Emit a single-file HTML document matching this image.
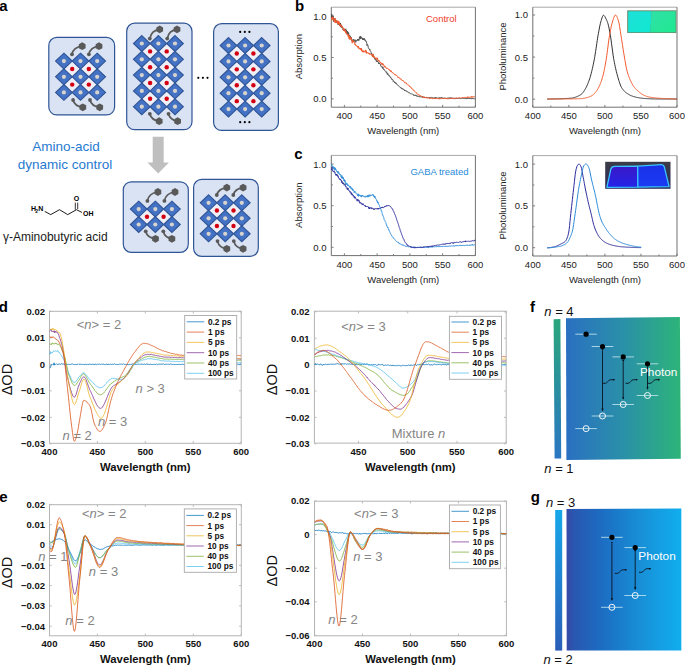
<!DOCTYPE html>
<html><head><meta charset="utf-8"><style>
html,body{margin:0;padding:0;background:#fff;overflow:hidden;}
svg{display:block;}
text{font-family:"Liberation Sans", sans-serif;}
</style></head><body>
<svg width="685" height="666" viewBox="0 0 685 666">
<rect width="685" height="666" fill="#fff"/>
<text x="-0.80" y="10.80" font-size="15" text-anchor="start" font-weight="bold" fill="#000" >a</text>
<rect x="48.80" y="37.40" width="65.80" height="77.50" rx="8" ry="8" fill="#dae3f3" stroke="#2f5597" stroke-width="1.2"/>
<path d="M72.20,61.05 L80.50,68.95 L72.20,76.85 L63.90,68.95 Z" fill="#eeeff7" stroke="none" stroke-width="0"/>
<path d="M88.85,61.05 L97.15,68.95 L88.85,76.85 L80.55,68.95 Z" fill="#eeeff7" stroke="none" stroke-width="0"/>
<path d="M72.20,76.70 L80.50,84.60 L72.20,92.50 L63.90,84.60 Z" fill="#eeeff7" stroke="none" stroke-width="0"/>
<path d="M88.85,76.70 L97.15,84.60 L88.85,92.50 L80.55,84.60 Z" fill="#eeeff7" stroke="none" stroke-width="0"/>
<path d="M63.90,53.20 L72.20,61.10 L63.90,69.00 L55.60,61.10 Z" fill="#4472c4" stroke="#2f5597" stroke-width="1.15"/>
<circle cx="63.90" cy="61.10" r="2.1" fill="#d8d4cc"/>
<path d="M80.50,53.20 L88.80,61.10 L80.50,69.00 L72.20,61.10 Z" fill="#4472c4" stroke="#2f5597" stroke-width="1.15"/>
<circle cx="80.50" cy="61.10" r="2.1" fill="#d8d4cc"/>
<path d="M97.20,53.20 L105.50,61.10 L97.20,69.00 L88.90,61.10 Z" fill="#4472c4" stroke="#2f5597" stroke-width="1.15"/>
<circle cx="97.20" cy="61.10" r="2.1" fill="#d8d4cc"/>
<path d="M63.90,68.90 L72.20,76.80 L63.90,84.70 L55.60,76.80 Z" fill="#4472c4" stroke="#2f5597" stroke-width="1.15"/>
<circle cx="63.90" cy="76.80" r="2.1" fill="#d8d4cc"/>
<path d="M80.50,68.90 L88.80,76.80 L80.50,84.70 L72.20,76.80 Z" fill="#4472c4" stroke="#2f5597" stroke-width="1.15"/>
<circle cx="80.50" cy="76.80" r="2.1" fill="#d8d4cc"/>
<path d="M97.20,68.90 L105.50,76.80 L97.20,84.70 L88.90,76.80 Z" fill="#4472c4" stroke="#2f5597" stroke-width="1.15"/>
<circle cx="97.20" cy="76.80" r="2.1" fill="#d8d4cc"/>
<path d="M63.90,84.50 L72.20,92.40 L63.90,100.30 L55.60,92.40 Z" fill="#4472c4" stroke="#2f5597" stroke-width="1.15"/>
<circle cx="63.90" cy="92.40" r="2.1" fill="#d8d4cc"/>
<path d="M80.50,84.50 L88.80,92.40 L80.50,100.30 L72.20,92.40 Z" fill="#4472c4" stroke="#2f5597" stroke-width="1.15"/>
<circle cx="80.50" cy="92.40" r="2.1" fill="#d8d4cc"/>
<path d="M97.20,84.50 L105.50,92.40 L97.20,100.30 L88.90,92.40 Z" fill="#4472c4" stroke="#2f5597" stroke-width="1.15"/>
<circle cx="97.20" cy="92.40" r="2.1" fill="#d8d4cc"/>
<circle cx="72.20" cy="68.95" r="2.2" fill="#d40012"/>
<circle cx="88.85" cy="68.95" r="2.2" fill="#d40012"/>
<circle cx="72.20" cy="84.60" r="2.2" fill="#d40012"/>
<circle cx="88.85" cy="84.60" r="2.2" fill="#d40012"/>
<path d="M72.00,54.30 Q73.50,47.20 82.20,46.20" fill="none" stroke="#595959" stroke-width="1.7"/>
<circle cx="72.00" cy="54.30" r="1.9" fill="#595959"/>
<polygon points="85.58,48.15 82.20,50.10 78.82,48.15 78.82,44.25 82.20,42.30 85.58,44.25" fill="#595959"/>
<path d="M88.90,54.30 Q90.40,47.20 99.00,46.20" fill="none" stroke="#595959" stroke-width="1.7"/>
<circle cx="88.90" cy="54.30" r="1.9" fill="#595959"/>
<polygon points="102.38,48.15 99.00,50.10 95.62,48.15 95.62,44.25 99.00,42.30 102.38,44.25" fill="#595959"/>
<path d="M73.10,100.00 Q74.60,106.30 82.80,107.30" fill="none" stroke="#595959" stroke-width="1.7"/>
<circle cx="73.10" cy="100.00" r="1.9" fill="#595959"/>
<polygon points="86.18,109.25 82.80,111.20 79.42,109.25 79.42,105.35 82.80,103.40 86.18,105.35" fill="#595959"/>
<path d="M90.00,100.00 Q91.50,106.30 99.70,107.30" fill="none" stroke="#595959" stroke-width="1.7"/>
<circle cx="90.00" cy="100.00" r="1.9" fill="#595959"/>
<polygon points="103.08,109.25 99.70,111.20 96.32,109.25 96.32,105.35 99.70,103.40 103.08,105.35" fill="#595959"/>
<rect x="126.70" y="23.20" width="65.30" height="106.50" rx="8" ry="8" fill="#dae3f3" stroke="#2f5597" stroke-width="1.2"/>
<path d="M150.10,43.50 L158.40,51.40 L150.10,59.30 L141.80,51.40 Z" fill="#eeeff7" stroke="none" stroke-width="0"/>
<path d="M166.70,43.50 L175.00,51.40 L166.70,59.30 L158.40,51.40 Z" fill="#eeeff7" stroke="none" stroke-width="0"/>
<path d="M150.10,59.30 L158.40,67.20 L150.10,75.10 L141.80,67.20 Z" fill="#eeeff7" stroke="none" stroke-width="0"/>
<path d="M166.70,59.30 L175.00,67.20 L166.70,75.10 L158.40,67.20 Z" fill="#eeeff7" stroke="none" stroke-width="0"/>
<path d="M150.10,75.10 L158.40,83.00 L150.10,90.90 L141.80,83.00 Z" fill="#eeeff7" stroke="none" stroke-width="0"/>
<path d="M166.70,75.10 L175.00,83.00 L166.70,90.90 L158.40,83.00 Z" fill="#eeeff7" stroke="none" stroke-width="0"/>
<path d="M150.10,90.90 L158.40,98.80 L150.10,106.70 L141.80,98.80 Z" fill="#eeeff7" stroke="none" stroke-width="0"/>
<path d="M166.70,90.90 L175.00,98.80 L166.70,106.70 L158.40,98.80 Z" fill="#eeeff7" stroke="none" stroke-width="0"/>
<path d="M141.80,35.60 L150.10,43.50 L141.80,51.40 L133.50,43.50 Z" fill="#4472c4" stroke="#2f5597" stroke-width="1.15"/>
<circle cx="141.80" cy="43.50" r="2.1" fill="#d8d4cc"/>
<path d="M158.40,35.60 L166.70,43.50 L158.40,51.40 L150.10,43.50 Z" fill="#4472c4" stroke="#2f5597" stroke-width="1.15"/>
<circle cx="158.40" cy="43.50" r="2.1" fill="#d8d4cc"/>
<path d="M175.00,35.60 L183.30,43.50 L175.00,51.40 L166.70,43.50 Z" fill="#4472c4" stroke="#2f5597" stroke-width="1.15"/>
<circle cx="175.00" cy="43.50" r="2.1" fill="#d8d4cc"/>
<path d="M141.80,51.40 L150.10,59.30 L141.80,67.20 L133.50,59.30 Z" fill="#4472c4" stroke="#2f5597" stroke-width="1.15"/>
<circle cx="141.80" cy="59.30" r="2.1" fill="#d8d4cc"/>
<path d="M158.40,51.40 L166.70,59.30 L158.40,67.20 L150.10,59.30 Z" fill="#4472c4" stroke="#2f5597" stroke-width="1.15"/>
<circle cx="158.40" cy="59.30" r="2.1" fill="#d8d4cc"/>
<path d="M175.00,51.40 L183.30,59.30 L175.00,67.20 L166.70,59.30 Z" fill="#4472c4" stroke="#2f5597" stroke-width="1.15"/>
<circle cx="175.00" cy="59.30" r="2.1" fill="#d8d4cc"/>
<path d="M141.80,67.20 L150.10,75.10 L141.80,83.00 L133.50,75.10 Z" fill="#4472c4" stroke="#2f5597" stroke-width="1.15"/>
<circle cx="141.80" cy="75.10" r="2.1" fill="#d8d4cc"/>
<path d="M158.40,67.20 L166.70,75.10 L158.40,83.00 L150.10,75.10 Z" fill="#4472c4" stroke="#2f5597" stroke-width="1.15"/>
<circle cx="158.40" cy="75.10" r="2.1" fill="#d8d4cc"/>
<path d="M175.00,67.20 L183.30,75.10 L175.00,83.00 L166.70,75.10 Z" fill="#4472c4" stroke="#2f5597" stroke-width="1.15"/>
<circle cx="175.00" cy="75.10" r="2.1" fill="#d8d4cc"/>
<path d="M141.80,83.00 L150.10,90.90 L141.80,98.80 L133.50,90.90 Z" fill="#4472c4" stroke="#2f5597" stroke-width="1.15"/>
<circle cx="141.80" cy="90.90" r="2.1" fill="#d8d4cc"/>
<path d="M158.40,83.00 L166.70,90.90 L158.40,98.80 L150.10,90.90 Z" fill="#4472c4" stroke="#2f5597" stroke-width="1.15"/>
<circle cx="158.40" cy="90.90" r="2.1" fill="#d8d4cc"/>
<path d="M175.00,83.00 L183.30,90.90 L175.00,98.80 L166.70,90.90 Z" fill="#4472c4" stroke="#2f5597" stroke-width="1.15"/>
<circle cx="175.00" cy="90.90" r="2.1" fill="#d8d4cc"/>
<path d="M141.80,98.80 L150.10,106.70 L141.80,114.60 L133.50,106.70 Z" fill="#4472c4" stroke="#2f5597" stroke-width="1.15"/>
<circle cx="141.80" cy="106.70" r="2.1" fill="#d8d4cc"/>
<path d="M158.40,98.80 L166.70,106.70 L158.40,114.60 L150.10,106.70 Z" fill="#4472c4" stroke="#2f5597" stroke-width="1.15"/>
<circle cx="158.40" cy="106.70" r="2.1" fill="#d8d4cc"/>
<path d="M175.00,98.80 L183.30,106.70 L175.00,114.60 L166.70,106.70 Z" fill="#4472c4" stroke="#2f5597" stroke-width="1.15"/>
<circle cx="175.00" cy="106.70" r="2.1" fill="#d8d4cc"/>
<circle cx="150.10" cy="51.40" r="2.2" fill="#d40012"/>
<circle cx="166.70" cy="51.40" r="2.2" fill="#d40012"/>
<circle cx="150.10" cy="67.20" r="2.2" fill="#d40012"/>
<circle cx="166.70" cy="67.20" r="2.2" fill="#d40012"/>
<circle cx="150.10" cy="83.00" r="2.2" fill="#d40012"/>
<circle cx="166.70" cy="83.00" r="2.2" fill="#d40012"/>
<circle cx="150.10" cy="98.80" r="2.2" fill="#d40012"/>
<circle cx="166.70" cy="98.80" r="2.2" fill="#d40012"/>
<path d="M149.80,38.60 Q151.30,30.40 159.70,29.40" fill="none" stroke="#595959" stroke-width="1.7"/>
<circle cx="149.80" cy="38.60" r="1.9" fill="#595959"/>
<polygon points="163.08,31.35 159.70,33.30 156.32,31.35 156.32,27.45 159.70,25.50 163.08,27.45" fill="#595959"/>
<path d="M167.20,38.60 Q168.70,30.40 177.00,29.40" fill="none" stroke="#595959" stroke-width="1.7"/>
<circle cx="167.20" cy="38.60" r="1.9" fill="#595959"/>
<polygon points="180.38,31.35 177.00,33.30 173.62,31.35 173.62,27.45 177.00,25.50 180.38,27.45" fill="#595959"/>
<path d="M149.80,113.80 Q151.30,120.20 159.20,121.20" fill="none" stroke="#595959" stroke-width="1.7"/>
<circle cx="149.80" cy="113.80" r="1.9" fill="#595959"/>
<polygon points="162.58,123.15 159.20,125.10 155.82,123.15 155.82,119.25 159.20,117.30 162.58,119.25" fill="#595959"/>
<path d="M168.50,113.80 Q170.00,120.20 177.60,121.20" fill="none" stroke="#595959" stroke-width="1.7"/>
<circle cx="168.50" cy="113.80" r="1.9" fill="#595959"/>
<polygon points="180.98,123.15 177.60,125.10 174.22,123.15 174.22,119.25 177.60,117.30 180.98,119.25" fill="#595959"/>
<circle cx="198.30" cy="77.80" r="1.1" fill="#000"/>
<circle cx="202.90" cy="77.80" r="1.1" fill="#000"/>
<circle cx="207.50" cy="77.80" r="1.1" fill="#000"/>
<rect x="213.60" y="23.70" width="64.80" height="106.70" rx="8" ry="8" fill="#dae3f3" stroke="#2f5597" stroke-width="1.2"/>
<path d="M236.80,45.55 L245.10,53.45 L236.80,61.35 L228.50,53.45 Z" fill="#eeeff7" stroke="none" stroke-width="0"/>
<path d="M253.40,45.55 L261.70,53.45 L253.40,61.35 L245.10,53.45 Z" fill="#eeeff7" stroke="none" stroke-width="0"/>
<path d="M236.80,61.45 L245.10,69.35 L236.80,77.25 L228.50,69.35 Z" fill="#eeeff7" stroke="none" stroke-width="0"/>
<path d="M253.40,61.45 L261.70,69.35 L253.40,77.25 L245.10,69.35 Z" fill="#eeeff7" stroke="none" stroke-width="0"/>
<path d="M236.80,77.35 L245.10,85.25 L236.80,93.15 L228.50,85.25 Z" fill="#eeeff7" stroke="none" stroke-width="0"/>
<path d="M253.40,77.35 L261.70,85.25 L253.40,93.15 L245.10,85.25 Z" fill="#eeeff7" stroke="none" stroke-width="0"/>
<path d="M236.80,93.25 L245.10,101.15 L236.80,109.05 L228.50,101.15 Z" fill="#eeeff7" stroke="none" stroke-width="0"/>
<path d="M253.40,93.25 L261.70,101.15 L253.40,109.05 L245.10,101.15 Z" fill="#eeeff7" stroke="none" stroke-width="0"/>
<path d="M228.50,37.60 L236.80,45.50 L228.50,53.40 L220.20,45.50 Z" fill="#4472c4" stroke="#2f5597" stroke-width="1.15"/>
<circle cx="228.50" cy="45.50" r="2.1" fill="#d8d4cc"/>
<path d="M245.10,37.60 L253.40,45.50 L245.10,53.40 L236.80,45.50 Z" fill="#4472c4" stroke="#2f5597" stroke-width="1.15"/>
<circle cx="245.10" cy="45.50" r="2.1" fill="#d8d4cc"/>
<path d="M261.70,37.60 L270.00,45.50 L261.70,53.40 L253.40,45.50 Z" fill="#4472c4" stroke="#2f5597" stroke-width="1.15"/>
<circle cx="261.70" cy="45.50" r="2.1" fill="#d8d4cc"/>
<path d="M228.50,53.50 L236.80,61.40 L228.50,69.30 L220.20,61.40 Z" fill="#4472c4" stroke="#2f5597" stroke-width="1.15"/>
<circle cx="228.50" cy="61.40" r="2.1" fill="#d8d4cc"/>
<path d="M245.10,53.50 L253.40,61.40 L245.10,69.30 L236.80,61.40 Z" fill="#4472c4" stroke="#2f5597" stroke-width="1.15"/>
<circle cx="245.10" cy="61.40" r="2.1" fill="#d8d4cc"/>
<path d="M261.70,53.50 L270.00,61.40 L261.70,69.30 L253.40,61.40 Z" fill="#4472c4" stroke="#2f5597" stroke-width="1.15"/>
<circle cx="261.70" cy="61.40" r="2.1" fill="#d8d4cc"/>
<path d="M228.50,69.40 L236.80,77.30 L228.50,85.20 L220.20,77.30 Z" fill="#4472c4" stroke="#2f5597" stroke-width="1.15"/>
<circle cx="228.50" cy="77.30" r="2.1" fill="#d8d4cc"/>
<path d="M245.10,69.40 L253.40,77.30 L245.10,85.20 L236.80,77.30 Z" fill="#4472c4" stroke="#2f5597" stroke-width="1.15"/>
<circle cx="245.10" cy="77.30" r="2.1" fill="#d8d4cc"/>
<path d="M261.70,69.40 L270.00,77.30 L261.70,85.20 L253.40,77.30 Z" fill="#4472c4" stroke="#2f5597" stroke-width="1.15"/>
<circle cx="261.70" cy="77.30" r="2.1" fill="#d8d4cc"/>
<path d="M228.50,85.30 L236.80,93.20 L228.50,101.10 L220.20,93.20 Z" fill="#4472c4" stroke="#2f5597" stroke-width="1.15"/>
<circle cx="228.50" cy="93.20" r="2.1" fill="#d8d4cc"/>
<path d="M245.10,85.30 L253.40,93.20 L245.10,101.10 L236.80,93.20 Z" fill="#4472c4" stroke="#2f5597" stroke-width="1.15"/>
<circle cx="245.10" cy="93.20" r="2.1" fill="#d8d4cc"/>
<path d="M261.70,85.30 L270.00,93.20 L261.70,101.10 L253.40,93.20 Z" fill="#4472c4" stroke="#2f5597" stroke-width="1.15"/>
<circle cx="261.70" cy="93.20" r="2.1" fill="#d8d4cc"/>
<path d="M228.50,101.20 L236.80,109.10 L228.50,117.00 L220.20,109.10 Z" fill="#4472c4" stroke="#2f5597" stroke-width="1.15"/>
<circle cx="228.50" cy="109.10" r="2.1" fill="#d8d4cc"/>
<path d="M245.10,101.20 L253.40,109.10 L245.10,117.00 L236.80,109.10 Z" fill="#4472c4" stroke="#2f5597" stroke-width="1.15"/>
<circle cx="245.10" cy="109.10" r="2.1" fill="#d8d4cc"/>
<path d="M261.70,101.20 L270.00,109.10 L261.70,117.00 L253.40,109.10 Z" fill="#4472c4" stroke="#2f5597" stroke-width="1.15"/>
<circle cx="261.70" cy="109.10" r="2.1" fill="#d8d4cc"/>
<circle cx="236.80" cy="53.45" r="2.2" fill="#d40012"/>
<circle cx="253.40" cy="53.45" r="2.2" fill="#d40012"/>
<circle cx="236.80" cy="69.35" r="2.2" fill="#d40012"/>
<circle cx="253.40" cy="69.35" r="2.2" fill="#d40012"/>
<circle cx="236.80" cy="85.25" r="2.2" fill="#d40012"/>
<circle cx="253.40" cy="85.25" r="2.2" fill="#d40012"/>
<circle cx="236.80" cy="101.15" r="2.2" fill="#d40012"/>
<circle cx="253.40" cy="101.15" r="2.2" fill="#d40012"/>
<circle cx="240.20" cy="31.90" r="1.1" fill="#000"/>
<circle cx="244.80" cy="31.90" r="1.1" fill="#000"/>
<circle cx="249.40" cy="31.90" r="1.1" fill="#000"/>
<circle cx="240.20" cy="122.20" r="1.1" fill="#000"/>
<circle cx="244.80" cy="122.20" r="1.1" fill="#000"/>
<circle cx="249.40" cy="122.20" r="1.1" fill="#000"/>
<polygon points="152.7,136.7 163.7,136.7 163.7,162.4 168.9,162.4 158.2,173.6 147.4,162.4 152.7,162.4" fill="#bfbfbf"/>
<rect x="123.30" y="181.80" width="65.00" height="70.50" rx="8" ry="8" fill="#dae3f3" stroke="#2f5597" stroke-width="1.2"/>
<path d="M147.00,208.90 L155.30,216.80 L147.00,224.70 L138.70,216.80 Z" fill="#eeeff7" stroke="none" stroke-width="0"/>
<path d="M163.60,208.90 L171.90,216.80 L163.60,224.70 L155.30,216.80 Z" fill="#eeeff7" stroke="none" stroke-width="0"/>
<path d="M138.70,201.20 L147.00,209.10 L138.70,217.00 L130.40,209.10 Z" fill="#4472c4" stroke="#2f5597" stroke-width="1.15"/>
<circle cx="138.70" cy="209.10" r="2.1" fill="#d8d4cc"/>
<path d="M155.30,201.20 L163.60,209.10 L155.30,217.00 L147.00,209.10 Z" fill="#4472c4" stroke="#2f5597" stroke-width="1.15"/>
<circle cx="155.30" cy="209.10" r="2.1" fill="#d8d4cc"/>
<path d="M171.90,201.20 L180.20,209.10 L171.90,217.00 L163.60,209.10 Z" fill="#4472c4" stroke="#2f5597" stroke-width="1.15"/>
<circle cx="171.90" cy="209.10" r="2.1" fill="#d8d4cc"/>
<path d="M138.70,216.60 L147.00,224.50 L138.70,232.40 L130.40,224.50 Z" fill="#4472c4" stroke="#2f5597" stroke-width="1.15"/>
<circle cx="138.70" cy="224.50" r="2.1" fill="#d8d4cc"/>
<path d="M155.30,216.60 L163.60,224.50 L155.30,232.40 L147.00,224.50 Z" fill="#4472c4" stroke="#2f5597" stroke-width="1.15"/>
<circle cx="155.30" cy="224.50" r="2.1" fill="#d8d4cc"/>
<path d="M171.90,216.60 L180.20,224.50 L171.90,232.40 L163.60,224.50 Z" fill="#4472c4" stroke="#2f5597" stroke-width="1.15"/>
<circle cx="171.90" cy="224.50" r="2.1" fill="#d8d4cc"/>
<circle cx="147.00" cy="216.80" r="2.2" fill="#d40012"/>
<circle cx="163.60" cy="216.80" r="2.2" fill="#d40012"/>
<path d="M147.40,200.90 Q148.90,193.00 157.90,192.00" fill="none" stroke="#595959" stroke-width="1.7"/>
<circle cx="147.40" cy="200.90" r="1.9" fill="#595959"/>
<polygon points="161.28,193.95 157.90,195.90 154.52,193.95 154.52,190.05 157.90,188.10 161.28,190.05" fill="#595959"/>
<path d="M164.40,200.90 Q165.90,193.00 175.00,192.00" fill="none" stroke="#595959" stroke-width="1.7"/>
<circle cx="164.40" cy="200.90" r="1.9" fill="#595959"/>
<polygon points="178.38,193.95 175.00,195.90 171.62,193.95 171.62,190.05 175.00,188.10 178.38,190.05" fill="#595959"/>
<path d="M145.70,231.30 Q147.20,237.80 155.50,238.80" fill="none" stroke="#595959" stroke-width="1.7"/>
<circle cx="145.70" cy="231.30" r="1.9" fill="#595959"/>
<polygon points="158.88,240.75 155.50,242.70 152.12,240.75 152.12,236.85 155.50,234.90 158.88,236.85" fill="#595959"/>
<path d="M163.30,231.30 Q164.80,237.80 171.90,238.80" fill="none" stroke="#595959" stroke-width="1.7"/>
<circle cx="163.30" cy="231.30" r="1.9" fill="#595959"/>
<polygon points="175.28,240.75 171.90,242.70 168.52,240.75 168.52,236.85 171.90,234.90 175.28,236.85" fill="#595959"/>
<rect x="193.60" y="179.40" width="64.70" height="76.90" rx="8" ry="8" fill="#dae3f3" stroke="#2f5597" stroke-width="1.2"/>
<path d="M216.90,202.65 L225.20,210.55 L216.90,218.45 L208.60,210.55 Z" fill="#eeeff7" stroke="none" stroke-width="0"/>
<path d="M233.50,202.65 L241.80,210.55 L233.50,218.45 L225.20,210.55 Z" fill="#eeeff7" stroke="none" stroke-width="0"/>
<path d="M216.90,218.15 L225.20,226.05 L216.90,233.95 L208.60,226.05 Z" fill="#eeeff7" stroke="none" stroke-width="0"/>
<path d="M233.50,218.15 L241.80,226.05 L233.50,233.95 L225.20,226.05 Z" fill="#eeeff7" stroke="none" stroke-width="0"/>
<path d="M208.60,194.90 L216.90,202.80 L208.60,210.70 L200.30,202.80 Z" fill="#4472c4" stroke="#2f5597" stroke-width="1.15"/>
<circle cx="208.60" cy="202.80" r="2.1" fill="#d8d4cc"/>
<path d="M225.20,194.90 L233.50,202.80 L225.20,210.70 L216.90,202.80 Z" fill="#4472c4" stroke="#2f5597" stroke-width="1.15"/>
<circle cx="225.20" cy="202.80" r="2.1" fill="#d8d4cc"/>
<path d="M241.80,194.90 L250.10,202.80 L241.80,210.70 L233.50,202.80 Z" fill="#4472c4" stroke="#2f5597" stroke-width="1.15"/>
<circle cx="241.80" cy="202.80" r="2.1" fill="#d8d4cc"/>
<path d="M208.60,210.40 L216.90,218.30 L208.60,226.20 L200.30,218.30 Z" fill="#4472c4" stroke="#2f5597" stroke-width="1.15"/>
<circle cx="208.60" cy="218.30" r="2.1" fill="#d8d4cc"/>
<path d="M225.20,210.40 L233.50,218.30 L225.20,226.20 L216.90,218.30 Z" fill="#4472c4" stroke="#2f5597" stroke-width="1.15"/>
<circle cx="225.20" cy="218.30" r="2.1" fill="#d8d4cc"/>
<path d="M241.80,210.40 L250.10,218.30 L241.80,226.20 L233.50,218.30 Z" fill="#4472c4" stroke="#2f5597" stroke-width="1.15"/>
<circle cx="241.80" cy="218.30" r="2.1" fill="#d8d4cc"/>
<path d="M208.60,225.90 L216.90,233.80 L208.60,241.70 L200.30,233.80 Z" fill="#4472c4" stroke="#2f5597" stroke-width="1.15"/>
<circle cx="208.60" cy="233.80" r="2.1" fill="#d8d4cc"/>
<path d="M225.20,225.90 L233.50,233.80 L225.20,241.70 L216.90,233.80 Z" fill="#4472c4" stroke="#2f5597" stroke-width="1.15"/>
<circle cx="225.20" cy="233.80" r="2.1" fill="#d8d4cc"/>
<path d="M241.80,225.90 L250.10,233.80 L241.80,241.70 L233.50,233.80 Z" fill="#4472c4" stroke="#2f5597" stroke-width="1.15"/>
<circle cx="241.80" cy="233.80" r="2.1" fill="#d8d4cc"/>
<circle cx="216.90" cy="210.55" r="2.2" fill="#d40012"/>
<circle cx="233.50" cy="210.55" r="2.2" fill="#d40012"/>
<circle cx="216.90" cy="226.05" r="2.2" fill="#d40012"/>
<circle cx="233.50" cy="226.05" r="2.2" fill="#d40012"/>
<path d="M216.80,195.00 Q218.30,188.60 226.80,187.60" fill="none" stroke="#595959" stroke-width="1.7"/>
<circle cx="216.80" cy="195.00" r="1.9" fill="#595959"/>
<polygon points="230.18,189.55 226.80,191.50 223.42,189.55 223.42,185.65 226.80,183.70 230.18,185.65" fill="#595959"/>
<path d="M233.30,195.00 Q234.80,188.60 243.10,187.60" fill="none" stroke="#595959" stroke-width="1.7"/>
<circle cx="233.30" cy="195.00" r="1.9" fill="#595959"/>
<polygon points="246.48,189.55 243.10,191.50 239.72,189.55 239.72,185.65 243.10,183.70 246.48,185.65" fill="#595959"/>
<path d="M217.50,241.10 Q219.00,247.80 226.80,248.80" fill="none" stroke="#595959" stroke-width="1.7"/>
<circle cx="217.50" cy="241.10" r="1.9" fill="#595959"/>
<polygon points="230.18,250.75 226.80,252.70 223.42,250.75 223.42,246.85 226.80,244.90 230.18,246.85" fill="#595959"/>
<path d="M233.80,241.10 Q235.30,247.80 243.10,248.80" fill="none" stroke="#595959" stroke-width="1.7"/>
<circle cx="233.80" cy="241.10" r="1.9" fill="#595959"/>
<polygon points="246.48,250.75 243.10,252.70 239.72,250.75 239.72,246.85 243.10,244.90 246.48,246.85" fill="#595959"/>
<text x="66.00" y="151.00" font-size="13.5" text-anchor="middle" font-weight="normal" fill="#1f7ad0" >Amino-acid</text>
<text x="64.90" y="168.90" font-size="13.5" text-anchor="middle" font-weight="normal" fill="#1f7ad0" >dynamic control</text>
<text x="2.90" y="240.70" font-size="12" text-anchor="start" font-weight="normal" fill="#1a1a1a" >γ-Aminobutyric acid</text>
<path d="M44.7,211.4 L50.7,214.6 L59.5,209.7 L67.7,214.6 L76.5,209.7 L81.9,212.4" fill="none" stroke="#000" stroke-width="0.9"/>
<line x1="75.3" y1="209.7" x2="75.3" y2="202.6" stroke="#000" stroke-width="0.8"/>
<line x1="77.7" y1="209.0" x2="77.7" y2="202.6" stroke="#000" stroke-width="0.8"/>
<text x="31.00" y="211.40" font-size="7" text-anchor="start" font-weight="bold" fill="#000" >H</text>
<text x="35.30" y="213.30" font-size="5" text-anchor="start" font-weight="bold" fill="#000" >2</text>
<text x="38.20" y="211.40" font-size="7" text-anchor="start" font-weight="bold" fill="#000" >N</text>
<text x="76.50" y="201.00" font-size="7" text-anchor="middle" font-weight="bold" fill="#000" >O</text>
<text x="83.00" y="216.00" font-size="7" text-anchor="start" font-weight="bold" fill="#000" >OH</text>
<text x="295.00" y="10.80" font-size="15" text-anchor="start" font-weight="bold" fill="#000" >b</text>
<text x="294.20" y="159.30" font-size="15" text-anchor="start" font-weight="bold" fill="#000" >c</text>
<line x1="344.40" y1="107.20" x2="344.40" y2="104.90" stroke="#707070" stroke-width="0.9"/>
<line x1="377.15" y1="107.20" x2="377.15" y2="104.90" stroke="#707070" stroke-width="0.9"/>
<line x1="409.90" y1="107.20" x2="409.90" y2="104.90" stroke="#707070" stroke-width="0.9"/>
<line x1="442.65" y1="107.20" x2="442.65" y2="104.90" stroke="#707070" stroke-width="0.9"/>
<line x1="475.40" y1="107.20" x2="475.40" y2="104.90" stroke="#707070" stroke-width="0.9"/>
<line x1="360.77" y1="107.20" x2="360.77" y2="105.60" stroke="#707070" stroke-width="0.9"/>
<line x1="393.52" y1="107.20" x2="393.52" y2="105.60" stroke="#707070" stroke-width="0.9"/>
<line x1="426.27" y1="107.20" x2="426.27" y2="105.60" stroke="#707070" stroke-width="0.9"/>
<line x1="459.02" y1="107.20" x2="459.02" y2="105.60" stroke="#707070" stroke-width="0.9"/>
<text x="344.40" y="119.20" font-size="9.5" text-anchor="middle" font-weight="normal" fill="#222" >400</text>
<text x="377.15" y="119.20" font-size="9.5" text-anchor="middle" font-weight="normal" fill="#222" >450</text>
<text x="409.90" y="119.20" font-size="9.5" text-anchor="middle" font-weight="normal" fill="#222" >500</text>
<text x="442.65" y="119.20" font-size="9.5" text-anchor="middle" font-weight="normal" fill="#222" >550</text>
<text x="475.40" y="119.20" font-size="9.5" text-anchor="middle" font-weight="normal" fill="#222" >600</text>
<line x1="331.30" y1="16.10" x2="333.60" y2="16.10" stroke="#707070" stroke-width="0.9"/>
<line x1="331.30" y1="57.50" x2="333.60" y2="57.50" stroke="#707070" stroke-width="0.9"/>
<line x1="331.30" y1="98.90" x2="333.60" y2="98.90" stroke="#707070" stroke-width="0.9"/>
<line x1="331.30" y1="36.80" x2="332.90" y2="36.80" stroke="#707070" stroke-width="0.9"/>
<line x1="331.30" y1="78.20" x2="332.90" y2="78.20" stroke="#707070" stroke-width="0.9"/>
<text x="326.50" y="19.50" font-size="9.5" text-anchor="end" font-weight="normal" fill="#222" >1.0</text>
<text x="326.50" y="60.90" font-size="9.5" text-anchor="end" font-weight="normal" fill="#222" >0.5</text>
<text x="326.50" y="102.30" font-size="9.5" text-anchor="end" font-weight="normal" fill="#222" >0.0</text>
<text x="403.30" y="134.00" font-size="9.5" text-anchor="middle" font-weight="normal" fill="#222" >Wavelength (nm)</text>
<text transform="translate(302.4,56.6) rotate(-90)" font-size="9.5" text-anchor="middle" fill="#222">Absorption</text>
<line x1="331.30" y1="7.20" x2="475.40" y2="7.20" stroke="#a8a8a8" stroke-width="1.0"/>
<line x1="331.30" y1="107.20" x2="475.40" y2="107.20" stroke="#707070" stroke-width="1.0"/>
<line x1="331.30" y1="7.20" x2="331.30" y2="107.20" stroke="#707070" stroke-width="1.0"/>
<line x1="475.40" y1="7.20" x2="475.40" y2="107.20" stroke="#707070" stroke-width="1.0"/>
<path d="M331.5,18.54 L331.8,14.14 L332.0,17.31 L332.2,16.53 L332.5,16.84 L332.8,17.29 L333.0,15.70 L333.2,17.70 L333.5,17.28 L333.8,21.69 L334.0,18.82 L334.2,18.47 L334.5,18.77 L334.8,18.62 L335.0,18.47 L335.2,19.37 L335.5,20.49 L335.8,20.01 L336.0,21.46 L336.2,20.55 L336.5,21.04 L336.8,22.83 L337.0,22.11 L337.2,21.34 L337.5,21.95 L337.8,22.96 L338.0,24.65 L338.2,22.74 L338.5,23.07 L338.8,24.62 L339.0,23.04 L339.2,23.94 L339.5,25.42 L339.8,25.42 L340.0,25.24 L340.2,26.12 L340.5,22.93 L340.8,27.08 L341.0,25.39 L341.2,24.98 L341.5,27.21 L341.8,27.92 L342.0,27.06 L342.2,26.70 L342.5,28.07 L342.8,28.25 L343.0,29.97 L343.2,29.57 L343.5,29.27 L343.8,30.44 L344.0,29.37 L344.2,28.90 L344.5,30.66 L344.8,30.91 L345.0,30.36 L345.2,30.05 L345.5,31.31 L345.8,28.87 L346.0,32.28 L346.2,32.35 L346.5,30.52 L346.8,32.46 L347.0,31.74 L347.2,33.70 L347.5,31.29 L347.8,32.68 L348.0,34.57 L348.2,35.34 L348.5,32.54 L348.8,34.51 L349.0,35.70 L349.2,35.22 L349.5,37.70 L349.8,35.49 L350.0,37.35 L350.2,36.43 L350.5,39.09 L350.8,38.12 L351.0,38.14 L351.2,37.20 L351.5,40.61 L351.8,39.99 L352.0,40.19 L352.2,40.71 L352.5,40.17 L352.8,39.44 L353.0,39.47 L353.2,39.63 L353.5,41.73 L353.8,39.35 L354.0,40.26 L354.2,40.62 L354.5,41.21 L354.8,41.62 L355.0,40.09 L355.2,39.74 L355.5,41.28 L355.8,42.35 L356.0,41.92 L356.2,41.33 L356.5,40.67 L356.8,40.94 L357.0,40.18 L357.2,40.76 L357.5,39.08 L357.8,39.56 L358.0,39.08 L358.2,39.41 L358.5,38.99 L358.8,40.80 L359.0,39.82 L359.2,39.70 L359.5,36.70 L359.8,38.00 L360.0,37.70 L360.2,38.55 L360.5,36.21 L360.8,38.93 L361.0,38.80 L361.2,36.88 L361.5,37.12 L361.8,37.27 L362.0,37.97 L362.2,38.50 L362.5,39.68 L362.8,38.03 L363.0,38.90 L363.2,38.57 L363.5,39.96 L363.8,39.34 L364.0,40.00 L364.2,38.33 L364.5,39.19 L364.8,38.93 L365.0,40.93 L365.2,40.62 L365.5,40.30 L365.8,40.64 L366.0,41.84 L366.2,41.51 L366.5,41.93 L366.8,43.57 L367.0,45.63 L367.2,44.30 L367.5,44.72 L367.8,44.92 L368.0,45.43 L368.2,47.35 L368.5,48.16 L368.8,48.10 L369.0,48.83 L369.2,49.17 L369.5,49.68 L369.8,49.02 L370.0,50.25 L370.2,51.13 L370.5,51.00 L370.8,51.69 L371.0,51.93 L371.2,52.72 L371.5,53.96 L371.8,53.55 L372.0,54.15 L372.2,55.19 L372.5,55.47 L372.8,56.53 L373.0,54.43 L373.2,56.70 L373.5,56.18 L373.8,56.92 L374.0,57.70 L374.2,58.18 L374.5,58.46 L374.8,58.22 L375.0,59.43 L375.2,58.55 L375.5,58.94 L375.8,59.81 L376.0,59.27 L376.2,61.22 L376.5,60.81 L376.8,61.79 L377.0,60.74 L377.2,60.82 L377.5,61.43 L377.8,62.06 L378.0,61.57 L378.2,62.43 L378.5,62.49 L378.8,63.73 L379.0,62.72 L379.2,64.01 L379.5,63.36 L379.8,63.50 L380.0,63.96 L380.2,64.01 L380.5,65.08 L380.8,65.90 L381.0,65.74 L381.2,66.31 L381.5,67.19 L381.8,66.77 L382.0,67.06 L382.2,67.13 L382.5,66.75 L382.8,68.34 L383.0,67.34 L383.2,68.93 L383.5,68.91 L383.8,69.82 L384.0,69.53 L384.2,69.47 L384.5,70.39 L384.8,70.25 L385.0,70.76 L385.2,71.19 L385.5,71.42 L385.8,71.71 L386.0,71.71 L386.2,72.33 L386.5,71.70 L386.8,72.96 L387.0,72.77 L387.2,74.18 L387.5,74.55 L387.8,73.35 L388.0,74.63 L388.2,74.80 L388.5,74.69 L388.8,75.71 L389.0,75.56 L389.2,75.28 L389.5,76.25 L389.8,76.61 L390.0,77.01 L390.2,76.73 L390.5,77.82 L390.8,78.17 L391.0,77.65 L391.2,78.15 L391.5,78.68 L391.8,78.76 L392.0,80.00 L392.2,79.64 L392.5,79.42 L392.8,79.78 L393.0,80.34 L393.2,81.54 L393.5,80.82 L393.8,81.20 L394.0,81.60 L394.2,81.63 L394.5,82.77 L394.8,81.94 L395.0,82.67 L395.2,82.69 L395.5,83.11 L395.8,82.69 L396.0,84.00 L396.2,83.56 L396.5,83.85 L396.8,83.74 L397.0,84.05 L397.2,84.74 L397.5,85.11 L397.8,85.26 L398.0,85.64 L398.2,85.69 L398.5,85.68 L398.8,86.17 L399.0,86.30 L399.2,86.29 L399.5,86.77 L399.8,87.15 L400.0,87.02 L400.2,87.04 L400.5,87.57 L400.8,88.13 L401.0,87.68 L401.2,87.91 L401.5,88.08 L401.8,88.66 L402.0,87.96 L402.2,88.76 L402.5,89.17 L402.8,88.77 L403.0,89.58 L403.2,89.48 L403.5,89.35 L403.8,89.72 L404.0,89.42 L404.2,89.84 L404.5,90.61 L404.8,90.08 L405.0,90.92 L405.2,90.59 L405.5,91.02 L405.8,90.93 L406.0,90.51 L406.2,91.07 L406.5,91.41 L406.8,91.22 L407.0,91.32 L407.2,91.89 L407.5,91.78 L407.8,91.65 L408.0,92.04 L408.2,92.57 L408.5,92.37 L408.8,92.85 L409.0,93.13 L409.2,92.88 L409.5,92.72 L409.8,92.80 L410.0,93.24 L410.2,93.59 L410.5,93.56 L410.8,93.74 L411.0,93.61 L411.2,93.91 L411.5,93.82 L411.8,93.97 L412.0,93.83 L412.2,93.87 L412.5,94.24 L412.8,94.19 L413.0,94.32 L413.2,94.83 L413.5,94.73 L413.8,95.58 L414.0,95.17 L414.2,94.88 L414.5,95.32 L414.8,95.31 L415.0,95.14 L415.2,95.68 L415.5,95.30 L415.8,94.81 L416.0,95.86 L416.2,95.59 L416.5,96.20 L416.8,95.75 L417.0,95.69 L417.2,96.45 L417.5,95.87 L417.8,96.26 L418.0,96.64 L418.2,96.37 L418.5,96.38 L418.8,96.48 L419.0,96.72 L419.2,96.36 L419.5,96.77 L419.8,96.80 L420.0,97.28 L420.2,96.65 L420.5,96.55 L420.8,97.00 L421.0,96.75 L421.2,96.96 L421.5,96.95 L421.8,97.25 L422.0,96.83 L422.2,97.00 L422.5,96.42 L422.8,96.87 L423.0,97.50 L423.2,96.98 L423.5,97.01 L423.8,96.91 L424.0,97.38 L424.2,97.31 L424.5,97.00 L424.8,97.49 L425.0,97.41 L425.2,97.56 L425.5,97.24 L425.8,97.85 L426.0,97.54 L426.2,97.44 L426.5,97.36 L426.8,97.44 L427.0,97.74 L427.2,97.48 L427.5,97.83 L427.8,97.73 L428.0,97.93 L428.2,97.82 L428.5,97.61 L428.8,97.16 L429.0,97.73 L429.2,97.86 L429.5,97.72 L429.8,97.83 L430.0,97.58 L430.2,97.61 L430.5,97.48 L430.8,98.07 L431.0,97.78 L431.2,97.62 L431.5,97.42 L431.8,97.72 L432.0,98.13 L432.2,97.89 L432.5,97.60 L432.8,98.15 L433.0,98.16 L433.2,98.05 L433.5,98.01 L433.8,98.11 L434.0,97.96 L434.2,98.03 L434.5,97.64 L434.8,98.22 L435.0,97.91 L435.2,98.36 L435.5,97.35 L435.8,98.05 L436.0,98.12 L436.2,97.79 L436.5,98.00 L436.8,98.08 L437.0,98.04 L437.2,97.77 L437.5,97.87 L437.8,98.17 L438.0,98.23 L438.2,97.94 L438.5,97.94 L438.8,97.98 L439.0,98.19 L439.2,97.67 L439.5,97.61 L439.8,97.98 L440.0,97.67 L440.2,97.81 L440.5,97.98 L440.8,98.08 L441.0,97.70 L441.2,98.17 L441.5,97.53 L441.8,98.12 L442.0,97.59 L442.2,97.67 L442.5,98.15 L442.8,97.89 L443.0,97.80 L443.2,97.89 L443.5,98.12 L443.8,98.00 L444.0,98.01 L444.2,98.28 L444.5,97.85 L444.8,97.91 L445.0,97.90 L445.2,98.33 L445.5,98.29 L445.8,98.37 L446.0,98.04 L446.2,98.02 L446.5,98.27 L446.8,97.97 L447.0,98.28 L447.2,98.26 L447.5,97.91 L447.8,98.07 L448.0,98.06 L448.2,98.53 L448.5,98.75 L448.8,98.08 L449.0,98.12 L449.2,97.55 L449.5,98.18 L449.8,98.13 L450.0,97.87 L450.2,98.34 L450.5,97.76 L450.8,98.10 L451.0,98.19 L451.2,97.85 L451.5,98.38 L451.8,98.44 L452.0,97.83 L452.2,97.83 L452.5,98.34 L452.8,98.19 L453.0,97.90 L453.2,98.13 L453.5,98.19 L453.8,98.18 L454.0,98.43 L454.2,98.33 L454.5,98.68 L454.8,98.58 L455.0,98.42 L455.2,98.52 L455.5,98.59 L455.8,98.44 L456.0,97.96 L456.2,98.49 L456.5,98.30 L456.8,98.69 L457.0,98.31 L457.2,98.43 L457.5,98.38 L457.8,98.73 L458.0,98.36 L458.2,98.25 L458.5,98.40 L458.8,98.22 L459.0,98.38 L459.2,98.34 L459.5,98.42 L459.8,98.83 L460.0,98.26 L460.2,98.37 L460.5,98.32 L460.8,98.54 L461.0,98.09 L461.2,98.21 L461.5,98.38 L461.8,98.53 L462.0,98.39 L462.2,98.28 L462.5,98.20 L462.8,98.55 L463.0,98.79 L463.2,98.51 L463.5,98.48 L463.8,98.55 L464.0,98.21 L464.2,98.38 L464.5,98.39 L464.8,98.54 L465.0,98.46 L465.2,98.17 L465.5,98.76 L465.8,98.91 L466.0,98.43 L466.2,98.60 L466.5,98.57 L466.8,98.71 L467.0,98.15 L467.2,98.93 L467.5,98.41 L467.8,98.85 L468.0,98.56 L468.2,98.45 L468.5,98.52 L468.8,98.78 L469.0,98.35 L469.2,98.47 L469.5,98.45 L469.8,98.15 L470.0,98.91 L470.2,98.74 L470.5,98.59 L470.8,98.89 L471.0,98.37 L471.2,98.60 L471.5,99.05 L471.8,98.87 L472.0,98.07 L472.2,97.80 L472.5,98.38 L472.8,98.91 L473.0,98.54 L473.2,98.61 L473.5,98.82 L473.8,98.45 L474.0,98.73 L474.2,98.88 L474.5,98.81 L474.8,98.79 L475.0,98.55" fill="none" stroke="#454545" stroke-width="0.9" stroke-linejoin="round" opacity="1.0"/>
<path d="M331.5,17.38 L331.8,18.05 L332.0,20.21 L332.2,19.25 L332.5,16.87 L332.8,18.83 L333.0,18.31 L333.2,19.32 L333.5,17.55 L333.8,19.76 L334.0,19.92 L334.2,21.57 L334.5,20.37 L334.8,20.76 L335.0,18.75 L335.2,23.06 L335.5,18.66 L335.8,22.18 L336.0,20.80 L336.2,20.40 L336.5,20.85 L336.8,21.04 L337.0,22.41 L337.2,22.08 L337.5,24.05 L337.8,20.63 L338.0,22.86 L338.2,22.10 L338.5,24.17 L338.8,21.21 L339.0,23.39 L339.2,24.24 L339.5,22.61 L339.8,25.56 L340.0,24.92 L340.2,26.07 L340.5,26.26 L340.8,24.37 L341.0,24.82 L341.2,25.73 L341.5,27.04 L341.8,27.42 L342.0,25.98 L342.2,26.38 L342.5,26.47 L342.8,27.01 L343.0,27.70 L343.2,28.14 L343.5,30.87 L343.8,28.38 L344.0,28.96 L344.2,30.12 L344.5,28.92 L344.8,29.91 L345.0,30.69 L345.2,31.88 L345.5,29.96 L345.8,33.26 L346.0,31.75 L346.2,32.68 L346.5,33.78 L346.8,33.95 L347.0,34.75 L347.2,34.17 L347.5,34.34 L347.8,35.06 L348.0,34.05 L348.2,36.74 L348.5,35.02 L348.8,34.88 L349.0,38.69 L349.2,36.77 L349.5,36.05 L349.8,39.51 L350.0,37.62 L350.2,39.38 L350.5,37.79 L350.8,38.70 L351.0,37.58 L351.2,37.67 L351.5,38.92 L351.8,40.12 L352.0,41.28 L352.2,43.17 L352.5,40.04 L352.8,42.32 L353.0,41.03 L353.2,41.75 L353.5,40.74 L353.8,41.03 L354.0,41.98 L354.2,41.86 L354.5,43.27 L354.8,42.88 L355.0,45.00 L355.2,44.23 L355.5,44.51 L355.8,45.68 L356.0,45.35 L356.2,45.09 L356.5,45.30 L356.8,45.52 L357.0,46.87 L357.2,46.84 L357.5,46.70 L357.8,47.32 L358.0,46.34 L358.2,47.52 L358.5,46.03 L358.8,48.70 L359.0,47.80 L359.2,48.09 L359.5,48.66 L359.8,48.32 L360.0,48.31 L360.2,49.74 L360.5,49.00 L360.8,48.29 L361.0,49.63 L361.2,47.97 L361.5,50.98 L361.8,49.60 L362.0,49.94 L362.2,51.94 L362.5,51.99 L362.8,50.45 L363.0,51.01 L363.2,51.53 L363.5,52.14 L363.8,50.80 L364.0,51.15 L364.2,52.16 L364.5,51.52 L364.8,52.03 L365.0,52.04 L365.2,50.79 L365.5,51.13 L365.8,49.87 L366.0,51.85 L366.2,53.20 L366.5,51.44 L366.8,53.35 L367.0,53.29 L367.2,52.61 L367.5,52.76 L367.8,52.95 L368.0,52.37 L368.2,52.92 L368.5,53.22 L368.8,53.83 L369.0,54.08 L369.2,53.10 L369.5,54.36 L369.8,53.34 L370.0,53.91 L370.2,54.43 L370.5,54.29 L370.8,54.36 L371.0,54.78 L371.2,54.36 L371.5,54.44 L371.8,54.91 L372.0,55.86 L372.2,55.30 L372.5,56.82 L372.8,55.85 L373.0,53.89 L373.2,55.77 L373.5,57.34 L373.8,56.43 L374.0,56.34 L374.2,56.25 L374.5,57.87 L374.8,57.86 L375.0,57.86 L375.2,57.91 L375.5,58.76 L375.8,58.58 L376.0,57.52 L376.2,58.98 L376.5,58.83 L376.8,58.89 L377.0,59.64 L377.2,59.43 L377.5,57.89 L377.8,60.80 L378.0,60.72 L378.2,60.27 L378.5,60.36 L378.8,60.95 L379.0,60.32 L379.2,61.47 L379.5,61.40 L379.8,61.57 L380.0,61.49 L380.2,61.87 L380.5,63.10 L380.8,63.45 L381.0,63.23 L381.2,63.17 L381.5,62.96 L381.8,64.05 L382.0,64.75 L382.2,63.29 L382.5,64.98 L382.8,63.47 L383.0,64.65 L383.2,65.24 L383.5,64.58 L383.8,64.73 L384.0,65.80 L384.2,66.35 L384.5,65.90 L384.8,66.99 L385.0,66.17 L385.2,67.59 L385.5,67.02 L385.8,67.28 L386.0,67.66 L386.2,67.72 L386.5,68.62 L386.8,68.98 L387.0,68.42 L387.2,68.30 L387.5,68.05 L387.8,68.44 L388.0,68.97 L388.2,69.12 L388.5,69.34 L388.8,69.56 L389.0,69.96 L389.2,69.38 L389.5,69.72 L389.8,70.79 L390.0,70.87 L390.2,70.50 L390.5,71.43 L390.8,70.84 L391.0,71.20 L391.2,70.79 L391.5,72.01 L391.8,71.87 L392.0,72.47 L392.2,72.52 L392.5,72.49 L392.8,72.70 L393.0,73.27 L393.2,72.97 L393.5,73.17 L393.8,73.44 L394.0,73.89 L394.2,74.12 L394.5,74.64 L394.8,74.17 L395.0,74.81 L395.2,74.38 L395.5,74.98 L395.8,75.02 L396.0,75.72 L396.2,75.56 L396.5,75.44 L396.8,75.95 L397.0,76.08 L397.2,76.08 L397.5,76.29 L397.8,76.31 L398.0,77.55 L398.2,77.01 L398.5,77.44 L398.8,77.06 L399.0,77.29 L399.2,77.74 L399.5,77.94 L399.8,78.38 L400.0,78.13 L400.2,78.71 L400.5,79.16 L400.8,78.75 L401.0,79.41 L401.2,79.14 L401.5,79.67 L401.8,79.88 L402.0,80.42 L402.2,80.02 L402.5,80.43 L402.8,80.86 L403.0,80.50 L403.2,81.00 L403.5,80.99 L403.8,81.23 L404.0,81.78 L404.2,81.99 L404.5,82.67 L404.8,82.57 L405.0,82.76 L405.2,82.60 L405.5,82.77 L405.8,83.09 L406.0,82.69 L406.2,83.88 L406.5,83.51 L406.8,83.62 L407.0,83.98 L407.2,84.52 L407.5,84.83 L407.8,84.63 L408.0,85.05 L408.2,85.14 L408.5,85.12 L408.8,85.62 L409.0,85.80 L409.2,85.63 L409.5,86.51 L409.8,86.07 L410.0,86.75 L410.2,86.66 L410.5,86.96 L410.8,87.23 L411.0,87.82 L411.2,87.57 L411.5,88.08 L411.8,88.77 L412.0,88.45 L412.2,88.87 L412.5,89.29 L412.8,89.23 L413.0,89.74 L413.2,89.71 L413.5,90.30 L413.8,90.39 L414.0,90.39 L414.2,91.22 L414.5,91.09 L414.8,91.29 L415.0,91.37 L415.2,91.72 L415.5,92.05 L415.8,92.35 L416.0,92.81 L416.2,92.43 L416.5,92.90 L416.8,93.50 L417.0,93.46 L417.2,93.73 L417.5,94.23 L417.8,94.12 L418.0,94.34 L418.2,94.41 L418.5,95.04 L418.8,95.04 L419.0,94.77 L419.2,95.25 L419.5,94.98 L419.8,95.69 L420.0,95.74 L420.2,95.69 L420.5,95.79 L420.8,95.59 L421.0,96.38 L421.2,96.30 L421.5,96.40 L421.8,96.79 L422.0,96.58 L422.2,96.72 L422.5,96.81 L422.8,96.76 L423.0,97.80 L423.2,97.24 L423.5,97.28 L423.8,97.66 L424.0,96.71 L424.2,97.54 L424.5,97.61 L424.8,97.41 L425.0,97.81 L425.2,97.24 L425.5,97.79 L425.8,98.05 L426.0,97.31 L426.2,97.54 L426.5,97.90 L426.8,97.96 L427.0,97.84 L427.2,98.12 L427.5,98.12 L427.8,97.74 L428.0,98.08 L428.2,97.81 L428.5,97.63 L428.8,97.57 L429.0,98.45 L429.2,98.18 L429.5,98.72 L429.8,97.88 L430.0,98.17 L430.2,98.36 L430.5,98.25 L430.8,98.42 L431.0,98.35 L431.2,98.17 L431.5,97.76 L431.8,98.12 L432.0,98.80 L432.2,98.57 L432.5,98.74 L432.8,98.26 L433.0,98.38 L433.2,98.22 L433.5,98.55 L433.8,98.48 L434.0,98.59 L434.2,98.93 L434.5,98.29 L434.8,98.69 L435.0,98.17 L435.2,98.80 L435.5,98.43 L435.8,98.53 L436.0,98.59 L436.2,98.98 L436.5,98.57 L436.8,98.46 L437.0,98.29 L437.2,98.67 L437.5,98.39 L437.8,98.49 L438.0,98.61 L438.2,98.79 L438.5,98.45 L438.8,98.80 L439.0,99.08 L439.2,98.27 L439.5,98.99 L439.8,99.19 L440.0,98.51 L440.2,98.81 L440.5,98.32 L440.8,98.75 L441.0,98.59 L441.2,98.74 L441.5,98.44 L441.8,98.46 L442.0,98.56 L442.2,98.49 L442.5,98.51 L442.8,98.61 L443.0,98.38 L443.2,98.62 L443.5,98.78 L443.8,98.07 L444.0,98.70 L444.2,98.46 L444.5,98.36 L444.8,98.30 L445.0,98.41 L445.2,98.43 L445.5,98.70 L445.8,98.29 L446.0,98.86 L446.2,98.39 L446.5,98.75 L446.8,98.85 L447.0,98.26 L447.2,98.83 L447.5,99.10 L447.8,98.44 L448.0,98.69 L448.2,98.50 L448.5,98.55 L448.8,98.47 L449.0,98.38 L449.2,98.68 L449.5,98.71 L449.8,98.48 L450.0,98.85 L450.2,98.73 L450.5,98.62 L450.8,98.25 L451.0,98.90 L451.2,98.74 L451.5,97.86 L451.8,98.10 L452.0,98.25 L452.2,98.59 L452.5,98.65 L452.8,98.25 L453.0,98.37 L453.2,98.47 L453.5,97.96 L453.8,98.41 L454.0,98.18 L454.2,98.28 L454.5,98.21 L454.8,97.91 L455.0,97.94 L455.2,98.18 L455.5,98.19 L455.8,98.07 L456.0,98.39 L456.2,98.02 L456.5,97.79 L456.8,97.99 L457.0,98.01 L457.2,98.01 L457.5,98.31 L457.8,98.13 L458.0,98.25 L458.2,98.13 L458.5,97.91 L458.8,98.20 L459.0,97.86 L459.2,97.97 L459.5,97.64 L459.8,97.90 L460.0,97.77 L460.2,97.93 L460.5,98.27 L460.8,98.40 L461.0,98.04 L461.2,97.76 L461.5,97.96 L461.8,97.79 L462.0,97.57 L462.2,97.69 L462.5,97.62 L462.8,97.52 L463.0,98.00 L463.2,97.50 L463.5,97.50 L463.8,97.78 L464.0,97.42 L464.2,97.29 L464.5,97.34 L464.8,97.66 L465.0,97.62 L465.2,97.58 L465.5,97.37 L465.8,97.24 L466.0,97.68 L466.2,97.07 L466.5,97.36 L466.8,97.07 L467.0,97.28 L467.2,97.32 L467.5,97.65 L467.8,96.61 L468.0,97.65 L468.2,97.06 L468.5,97.34 L468.8,97.45 L469.0,97.03 L469.2,97.18 L469.5,97.31 L469.8,97.13 L470.0,96.96 L470.2,97.17 L470.5,97.13 L470.8,96.71 L471.0,97.40 L471.2,97.10 L471.5,96.41 L471.8,96.79 L472.0,97.41 L472.2,97.35 L472.5,97.00 L472.8,96.49 L473.0,96.83 L473.2,97.13 L473.5,96.94 L473.8,96.74 L474.0,96.62 L474.2,96.98 L474.5,96.70 L474.8,96.81 L475.0,96.83" fill="none" stroke="#f25a2c" stroke-width="1.0" stroke-linejoin="round" opacity="1.0"/>
<text x="441.30" y="21.60" font-size="9.5" text-anchor="middle" font-weight="normal" fill="#ee3b2b" >Control</text>
<line x1="532.80" y1="107.20" x2="532.80" y2="104.90" stroke="#707070" stroke-width="0.9"/>
<line x1="568.85" y1="107.20" x2="568.85" y2="104.90" stroke="#707070" stroke-width="0.9"/>
<line x1="604.90" y1="107.20" x2="604.90" y2="104.90" stroke="#707070" stroke-width="0.9"/>
<line x1="640.95" y1="107.20" x2="640.95" y2="104.90" stroke="#707070" stroke-width="0.9"/>
<line x1="677.00" y1="107.20" x2="677.00" y2="104.90" stroke="#707070" stroke-width="0.9"/>
<line x1="550.82" y1="107.20" x2="550.82" y2="105.60" stroke="#707070" stroke-width="0.9"/>
<line x1="586.88" y1="107.20" x2="586.88" y2="105.60" stroke="#707070" stroke-width="0.9"/>
<line x1="622.92" y1="107.20" x2="622.92" y2="105.60" stroke="#707070" stroke-width="0.9"/>
<line x1="658.98" y1="107.20" x2="658.98" y2="105.60" stroke="#707070" stroke-width="0.9"/>
<text x="532.80" y="119.20" font-size="9.5" text-anchor="middle" font-weight="normal" fill="#222" >400</text>
<text x="568.85" y="119.20" font-size="9.5" text-anchor="middle" font-weight="normal" fill="#222" >450</text>
<text x="604.90" y="119.20" font-size="9.5" text-anchor="middle" font-weight="normal" fill="#222" >500</text>
<text x="640.95" y="119.20" font-size="9.5" text-anchor="middle" font-weight="normal" fill="#222" >550</text>
<text x="677.00" y="119.20" font-size="9.5" text-anchor="middle" font-weight="normal" fill="#222" >600</text>
<line x1="532.80" y1="15.00" x2="535.10" y2="15.00" stroke="#707070" stroke-width="0.9"/>
<line x1="532.80" y1="57.10" x2="535.10" y2="57.10" stroke="#707070" stroke-width="0.9"/>
<line x1="532.80" y1="99.20" x2="535.10" y2="99.20" stroke="#707070" stroke-width="0.9"/>
<line x1="532.80" y1="36.00" x2="534.40" y2="36.00" stroke="#707070" stroke-width="0.9"/>
<line x1="532.80" y1="78.10" x2="534.40" y2="78.10" stroke="#707070" stroke-width="0.9"/>
<text x="528.00" y="18.40" font-size="9.5" text-anchor="end" font-weight="normal" fill="#222" >1.0</text>
<text x="528.00" y="60.50" font-size="9.5" text-anchor="end" font-weight="normal" fill="#222" >0.5</text>
<text x="528.00" y="102.60" font-size="9.5" text-anchor="end" font-weight="normal" fill="#222" >0.0</text>
<text x="605.00" y="134.00" font-size="9.5" text-anchor="middle" font-weight="normal" fill="#222" >Wavelength (nm)</text>
<text transform="translate(505.5,56.5) rotate(-90)" font-size="9.5" text-anchor="middle" fill="#222">Photoluminance</text>
<line x1="532.80" y1="7.20" x2="677.00" y2="7.20" stroke="#a8a8a8" stroke-width="1.0"/>
<line x1="532.80" y1="107.20" x2="677.00" y2="107.20" stroke="#707070" stroke-width="1.0"/>
<line x1="532.80" y1="7.20" x2="532.80" y2="107.20" stroke="#707070" stroke-width="1.0"/>
<line x1="677.00" y1="7.20" x2="677.00" y2="107.20" stroke="#707070" stroke-width="1.0"/>
<path d="M547.2,99.00 L547.6,99.00 L548.0,99.00 L548.4,99.00 L548.8,99.00 L549.2,98.99 L549.6,98.99 L550.0,98.99 L550.4,98.99 L550.8,98.98 L551.2,98.98 L551.6,98.97 L552.0,98.97 L552.4,98.96 L552.8,98.96 L553.2,98.95 L553.6,98.94 L554.0,98.94 L554.4,98.93 L554.8,98.92 L555.2,98.91 L555.6,98.90 L556.0,98.89 L556.4,98.88 L556.8,98.87 L557.2,98.86 L557.6,98.85 L558.0,98.84 L558.4,98.82 L558.8,98.81 L559.2,98.80 L559.6,98.78 L560.0,98.77 L560.4,98.75 L560.8,98.74 L561.2,98.72 L561.6,98.70 L562.0,98.69 L562.4,98.67 L562.8,98.65 L563.2,98.63 L563.6,98.62 L564.0,98.60 L564.4,98.58 L564.8,98.56 L565.2,98.54 L565.6,98.51 L566.0,98.49 L566.4,98.47 L566.8,98.45 L567.2,98.42 L567.6,98.40 L568.0,98.38 L568.4,98.35 L568.8,98.33 L569.2,98.30 L569.6,98.27 L570.0,98.25 L570.4,98.22 L570.8,98.19 L571.2,98.16 L571.6,98.11 L572.0,98.06 L572.4,97.99 L572.8,97.92 L573.2,97.83 L573.6,97.74 L574.0,97.64 L574.4,97.53 L574.8,97.41 L575.2,97.28 L575.6,97.14 L576.0,97.00 L576.4,96.85 L576.8,96.68 L577.2,96.52 L577.6,96.34 L578.0,96.15 L578.4,95.96 L578.8,95.76 L579.2,95.56 L579.6,95.34 L580.0,95.12 L580.4,94.89 L580.8,94.66 L581.2,94.40 L581.6,94.07 L582.0,93.69 L582.4,93.25 L582.8,92.75 L583.2,92.22 L583.6,91.66 L584.0,91.06 L584.4,90.45 L584.8,89.82 L585.2,89.17 L585.6,88.48 L586.0,87.74 L586.4,86.95 L586.8,86.11 L587.2,85.22 L587.6,84.29 L588.0,83.31 L588.4,82.29 L588.8,81.24 L589.2,80.14 L589.6,78.95 L590.0,77.66 L590.4,76.29 L590.8,74.85 L591.2,73.35 L591.6,71.79 L592.0,70.19 L592.4,68.50 L592.8,66.73 L593.2,64.86 L593.6,62.92 L594.0,60.90 L594.4,58.80 L594.8,56.55 L595.2,54.11 L595.6,51.53 L596.0,48.84 L596.4,46.11 L596.8,43.38 L597.2,40.70 L597.6,38.11 L598.0,35.66 L598.4,33.40 L598.8,31.24 L599.2,29.10 L599.6,27.03 L600.0,25.08 L600.4,23.31 L600.8,21.77 L601.2,20.46 L601.6,19.15 L602.0,17.89 L602.4,16.77 L602.8,15.89 L603.2,15.33 L603.6,15.21 L604.0,15.41 L604.4,15.84 L604.8,16.45 L605.2,17.18 L605.6,17.98 L606.0,18.80 L606.4,19.60 L606.8,20.46 L607.2,21.44 L607.6,22.55 L608.0,23.80 L608.4,25.27 L608.8,26.99 L609.2,28.92 L609.6,31.00 L610.0,33.19 L610.4,35.47 L610.8,38.05 L611.2,40.88 L611.6,43.88 L612.0,46.96 L612.4,50.02 L612.8,52.98 L613.2,55.75 L613.6,58.23 L614.0,60.44 L614.4,62.55 L614.8,64.56 L615.2,66.49 L615.6,68.32 L616.0,70.06 L616.4,71.71 L616.8,73.26 L617.2,74.73 L617.6,76.17 L618.0,77.59 L618.4,78.98 L618.8,80.33 L619.2,81.62 L619.6,82.85 L620.0,84.00 L620.4,85.07 L620.8,86.04 L621.2,86.90 L621.6,87.64 L622.0,88.27 L622.4,88.86 L622.8,89.40 L623.2,89.91 L623.6,90.38 L624.0,90.81 L624.4,91.22 L624.8,91.60 L625.2,91.95 L625.6,92.29 L626.0,92.60 L626.4,92.90 L626.8,93.19 L627.2,93.47 L627.6,93.74 L628.0,94.00 L628.4,94.25 L628.8,94.49 L629.2,94.72 L629.6,94.94 L630.0,95.14 L630.4,95.34 L630.8,95.52 L631.2,95.69 L631.6,95.85 L632.0,96.00 L632.4,96.14 L632.8,96.28 L633.2,96.41 L633.6,96.54 L634.0,96.66 L634.4,96.78 L634.8,96.89 L635.2,97.00 L635.6,97.10 L636.0,97.20 L636.4,97.30 L636.8,97.39 L637.2,97.47 L637.6,97.55 L638.0,97.63 L638.4,97.70 L638.8,97.77 L639.2,97.83 L639.6,97.89 L640.0,97.95 L640.4,98.01 L640.8,98.06 L641.2,98.12 L641.6,98.17 L642.0,98.22 L642.4,98.27 L642.8,98.31 L643.2,98.36 L643.6,98.40 L644.0,98.44 L644.4,98.47 L644.8,98.50 L645.2,98.53 L645.6,98.56 L646.0,98.58 L646.4,98.60 L646.8,98.62 L647.2,98.64 L647.6,98.66 L648.0,98.68 L648.4,98.70 L648.8,98.72 L649.2,98.73 L649.6,98.75 L650.0,98.77 L650.4,98.78 L650.8,98.80 L651.2,98.82 L651.6,98.83 L652.0,98.85 L652.4,98.86 L652.8,98.87 L653.2,98.89 L653.6,98.90 L654.0,98.91 L654.4,98.92 L654.8,98.93 L655.2,98.94 L655.6,98.95 L656.0,98.96 L656.4,98.97 L656.8,98.97 L657.2,98.98 L657.6,98.98 L658.0,98.99 L658.4,98.99 L658.8,99.00 L659.2,99.00 L659.6,99.00 L660.0,99.00 L660.4,99.00 L660.8,99.00 L661.2,99.00 L661.6,99.00 L662.0,99.00 L662.4,99.00 L662.8,99.00 L663.2,99.00 L663.6,99.00 L664.0,99.00 L664.4,99.00 L664.8,99.00 L665.2,99.00 L665.6,99.00 L666.0,99.00 L666.4,99.00 L666.8,99.00 L667.2,99.00 L667.6,99.00 L668.0,99.00 L668.4,99.00 L668.8,99.00 L669.2,99.00 L669.6,99.00 L670.0,99.00 L670.4,99.00 L670.8,99.00 L671.2,99.00 L671.6,99.00 L672.0,99.00 L672.4,99.00 L672.8,99.00 L673.2,99.00 L673.6,99.00 L674.0,99.00 L674.4,99.00 L674.8,99.00 L675.2,99.00 L675.6,99.00 L676.0,99.00 L676.4,99.00 L676.8,99.00 L677.0,99.00" fill="none" stroke="#303030" stroke-width="1.0" stroke-linejoin="round" opacity="1.0"/>
<path d="M547.2,99.00 L547.6,99.00 L548.0,99.00 L548.4,99.00 L548.8,99.00 L549.2,99.00 L549.6,99.00 L550.0,99.00 L550.4,99.00 L550.8,99.00 L551.2,99.00 L551.6,99.00 L552.0,99.00 L552.4,98.99 L552.8,98.99 L553.2,98.99 L553.6,98.99 L554.0,98.99 L554.4,98.99 L554.8,98.99 L555.2,98.99 L555.6,98.99 L556.0,98.98 L556.4,98.98 L556.8,98.98 L557.2,98.98 L557.6,98.98 L558.0,98.98 L558.4,98.97 L558.8,98.97 L559.2,98.97 L559.6,98.97 L560.0,98.97 L560.4,98.96 L560.8,98.96 L561.2,98.96 L561.6,98.96 L562.0,98.96 L562.4,98.95 L562.8,98.95 L563.2,98.95 L563.6,98.95 L564.0,98.94 L564.4,98.94 L564.8,98.94 L565.2,98.94 L565.6,98.93 L566.0,98.93 L566.4,98.93 L566.8,98.92 L567.2,98.92 L567.6,98.92 L568.0,98.92 L568.4,98.91 L568.8,98.91 L569.2,98.91 L569.6,98.90 L570.0,98.90 L570.4,98.90 L570.8,98.89 L571.2,98.89 L571.6,98.88 L572.0,98.88 L572.4,98.87 L572.8,98.86 L573.2,98.86 L573.6,98.85 L574.0,98.84 L574.4,98.83 L574.8,98.82 L575.2,98.81 L575.6,98.80 L576.0,98.79 L576.4,98.78 L576.8,98.77 L577.2,98.75 L577.6,98.74 L578.0,98.73 L578.4,98.71 L578.8,98.70 L579.2,98.68 L579.6,98.66 L580.0,98.64 L580.4,98.62 L580.8,98.61 L581.2,98.58 L581.6,98.55 L582.0,98.52 L582.4,98.47 L582.8,98.42 L583.2,98.36 L583.6,98.30 L584.0,98.23 L584.4,98.16 L584.8,98.08 L585.2,98.00 L585.6,97.92 L586.0,97.83 L586.4,97.74 L586.8,97.65 L587.2,97.55 L587.6,97.45 L588.0,97.33 L588.4,97.20 L588.8,97.06 L589.2,96.92 L589.6,96.76 L590.0,96.59 L590.4,96.40 L590.8,96.21 L591.2,96.00 L591.6,95.79 L592.0,95.56 L592.4,95.31 L592.8,95.03 L593.2,94.71 L593.6,94.35 L594.0,93.97 L594.4,93.55 L594.8,93.11 L595.2,92.65 L595.6,92.16 L596.0,91.66 L596.4,91.13 L596.8,90.58 L597.2,89.99 L597.6,89.34 L598.0,88.65 L598.4,87.91 L598.8,87.12 L599.2,86.29 L599.6,85.42 L600.0,84.51 L600.4,83.56 L600.8,82.53 L601.2,81.43 L601.6,80.24 L602.0,78.97 L602.4,77.62 L602.8,76.19 L603.2,74.68 L603.6,73.09 L604.0,71.35 L604.4,69.45 L604.8,67.41 L605.2,65.24 L605.6,62.97 L606.0,60.61 L606.4,58.18 L606.8,55.46 L607.2,52.48 L607.6,49.33 L608.0,46.15 L608.4,43.04 L608.8,40.11 L609.2,37.49 L609.6,35.17 L610.0,32.91 L610.4,30.72 L610.8,28.64 L611.2,26.70 L611.6,24.93 L612.0,23.35 L612.4,22.00 L612.8,20.75 L613.2,19.49 L613.6,18.28 L614.0,17.18 L614.4,16.24 L614.8,15.53 L615.2,15.10 L615.6,15.01 L616.0,15.24 L616.4,15.74 L616.8,16.47 L617.2,17.39 L617.6,18.44 L618.0,19.59 L618.4,20.80 L618.8,22.18 L619.2,24.09 L619.6,26.40 L620.0,28.98 L620.4,31.68 L620.8,34.36 L621.2,36.90 L621.6,39.36 L622.0,41.88 L622.4,44.45 L622.8,47.04 L623.2,49.61 L623.6,52.16 L624.0,54.65 L624.4,57.06 L624.8,59.37 L625.2,61.69 L625.6,63.99 L626.0,66.20 L626.4,68.23 L626.8,70.01 L627.2,71.52 L627.6,72.91 L628.0,74.21 L628.4,75.41 L628.8,76.53 L629.2,77.58 L629.6,78.57 L630.0,79.50 L630.4,80.39 L630.8,81.25 L631.2,82.08 L631.6,82.87 L632.0,83.62 L632.4,84.33 L632.8,85.01 L633.2,85.65 L633.6,86.24 L634.0,86.80 L634.4,87.32 L634.8,87.82 L635.2,88.29 L635.6,88.74 L636.0,89.17 L636.4,89.58 L636.8,89.98 L637.2,90.36 L637.6,90.72 L638.0,91.08 L638.4,91.42 L638.8,91.75 L639.2,92.08 L639.6,92.40 L640.0,92.72 L640.4,93.03 L640.8,93.34 L641.2,93.63 L641.6,93.91 L642.0,94.19 L642.4,94.44 L642.8,94.69 L643.2,94.91 L643.6,95.12 L644.0,95.31 L644.4,95.48 L644.8,95.65 L645.2,95.81 L645.6,95.96 L646.0,96.11 L646.4,96.25 L646.8,96.39 L647.2,96.51 L647.6,96.63 L648.0,96.75 L648.4,96.85 L648.8,96.95 L649.2,97.04 L649.6,97.13 L650.0,97.20 L650.4,97.27 L650.8,97.34 L651.2,97.40 L651.6,97.46 L652.0,97.52 L652.4,97.58 L652.8,97.63 L653.2,97.69 L653.6,97.74 L654.0,97.79 L654.4,97.83 L654.8,97.88 L655.2,97.92 L655.6,97.96 L656.0,98.00 L656.4,98.04 L656.8,98.07 L657.2,98.10 L657.6,98.14 L658.0,98.17 L658.4,98.19 L658.8,98.22 L659.2,98.25 L659.6,98.27 L660.0,98.30 L660.4,98.33 L660.8,98.35 L661.2,98.38 L661.6,98.40 L662.0,98.43 L662.4,98.45 L662.8,98.48 L663.2,98.50 L663.6,98.53 L664.0,98.55 L664.4,98.58 L664.8,98.60 L665.2,98.62 L665.6,98.64 L666.0,98.67 L666.4,98.69 L666.8,98.71 L667.2,98.73 L667.6,98.75 L668.0,98.77 L668.4,98.79 L668.8,98.80 L669.2,98.82 L669.6,98.84 L670.0,98.85 L670.4,98.87 L670.8,98.88 L671.2,98.90 L671.6,98.91 L672.0,98.92 L672.4,98.93 L672.8,98.94 L673.2,98.95 L673.6,98.96 L674.0,98.97 L674.4,98.98 L674.8,98.98 L675.2,98.99 L675.6,98.99 L676.0,99.00 L676.4,99.00 L676.8,99.00 L677.0,99.00" fill="none" stroke="#f25a2c" stroke-width="1.0" stroke-linejoin="round" opacity="1.0"/>
<rect x="627.2" y="10.3" width="49.2" height="22.7" fill="#6a8a6a"/>
<defs><linearGradient id="cy1" x1="0" y1="0" x2="1" y2="1"><stop offset="0" stop-color="#1ee0d8"/><stop offset="1" stop-color="#10e8d0"/></linearGradient><linearGradient id="gr1" x1="0" y1="0" x2="1" y2="1"><stop offset="0" stop-color="#30e0a8"/><stop offset="1" stop-color="#20e890"/></linearGradient></defs>
<path d="M628.2,11.2 L651.5,11.2 L650.5,32.2 L628.2,32.2 Z" fill="url(#cy1)"/>
<path d="M651.5,11.2 L675.6,11.2 L675.6,32.2 L650.5,32.2 Z" fill="url(#gr1)"/>
<line x1="344.40" y1="255.60" x2="344.40" y2="253.30" stroke="#707070" stroke-width="0.9"/>
<line x1="377.15" y1="255.60" x2="377.15" y2="253.30" stroke="#707070" stroke-width="0.9"/>
<line x1="409.90" y1="255.60" x2="409.90" y2="253.30" stroke="#707070" stroke-width="0.9"/>
<line x1="442.65" y1="255.60" x2="442.65" y2="253.30" stroke="#707070" stroke-width="0.9"/>
<line x1="475.40" y1="255.60" x2="475.40" y2="253.30" stroke="#707070" stroke-width="0.9"/>
<line x1="360.77" y1="255.60" x2="360.77" y2="254.00" stroke="#707070" stroke-width="0.9"/>
<line x1="393.52" y1="255.60" x2="393.52" y2="254.00" stroke="#707070" stroke-width="0.9"/>
<line x1="426.27" y1="255.60" x2="426.27" y2="254.00" stroke="#707070" stroke-width="0.9"/>
<line x1="459.02" y1="255.60" x2="459.02" y2="254.00" stroke="#707070" stroke-width="0.9"/>
<text x="344.40" y="267.80" font-size="9.5" text-anchor="middle" font-weight="normal" fill="#222" >400</text>
<text x="377.15" y="267.80" font-size="9.5" text-anchor="middle" font-weight="normal" fill="#222" >450</text>
<text x="409.90" y="267.80" font-size="9.5" text-anchor="middle" font-weight="normal" fill="#222" >500</text>
<text x="442.65" y="267.80" font-size="9.5" text-anchor="middle" font-weight="normal" fill="#222" >550</text>
<text x="475.40" y="267.80" font-size="9.5" text-anchor="middle" font-weight="normal" fill="#222" >600</text>
<line x1="331.30" y1="164.10" x2="333.60" y2="164.10" stroke="#707070" stroke-width="0.9"/>
<line x1="331.30" y1="205.70" x2="333.60" y2="205.70" stroke="#707070" stroke-width="0.9"/>
<line x1="331.30" y1="247.30" x2="333.60" y2="247.30" stroke="#707070" stroke-width="0.9"/>
<line x1="331.30" y1="184.90" x2="332.90" y2="184.90" stroke="#707070" stroke-width="0.9"/>
<line x1="331.30" y1="226.50" x2="332.90" y2="226.50" stroke="#707070" stroke-width="0.9"/>
<text x="326.50" y="167.50" font-size="9.5" text-anchor="end" font-weight="normal" fill="#222" >1.0</text>
<text x="326.50" y="209.10" font-size="9.5" text-anchor="end" font-weight="normal" fill="#222" >0.5</text>
<text x="326.50" y="250.70" font-size="9.5" text-anchor="end" font-weight="normal" fill="#222" >0.0</text>
<text x="403.30" y="282.70" font-size="9.5" text-anchor="middle" font-weight="normal" fill="#222" >Wavelength (nm)</text>
<text transform="translate(302.4,205.2) rotate(-90)" font-size="9.5" text-anchor="middle" fill="#222">Absorption</text>
<line x1="331.30" y1="155.40" x2="475.40" y2="155.40" stroke="#a8a8a8" stroke-width="1.0"/>
<line x1="331.30" y1="255.60" x2="475.40" y2="255.60" stroke="#707070" stroke-width="1.0"/>
<line x1="331.30" y1="155.40" x2="331.30" y2="255.60" stroke="#707070" stroke-width="1.0"/>
<line x1="475.40" y1="155.40" x2="475.40" y2="255.60" stroke="#707070" stroke-width="1.0"/>
<path d="M331.5,164.32 L331.8,164.11 L332.0,165.44 L332.2,166.38 L332.5,167.37 L332.8,166.66 L333.0,166.31 L333.2,166.38 L333.5,168.16 L333.8,169.31 L334.0,168.28 L334.2,167.11 L334.5,167.67 L334.8,170.44 L335.0,169.38 L335.2,167.80 L335.5,169.69 L335.8,168.94 L336.0,169.75 L336.2,170.18 L336.5,170.25 L336.8,171.78 L337.0,171.47 L337.2,171.26 L337.5,172.52 L337.8,173.22 L338.0,171.12 L338.2,172.76 L338.5,172.36 L338.8,173.44 L339.0,172.65 L339.2,174.22 L339.5,174.46 L339.8,174.51 L340.0,174.09 L340.2,175.03 L340.5,174.66 L340.8,174.72 L341.0,176.56 L341.2,175.58 L341.5,178.11 L341.8,177.98 L342.0,175.67 L342.2,178.19 L342.5,177.18 L342.8,178.59 L343.0,178.92 L343.2,177.30 L343.5,179.29 L343.8,179.59 L344.0,181.05 L344.2,179.35 L344.5,181.46 L344.8,180.07 L345.0,181.09 L345.2,180.94 L345.5,183.35 L345.8,182.85 L346.0,184.85 L346.2,183.52 L346.5,184.00 L346.8,184.29 L347.0,183.29 L347.2,184.06 L347.5,185.61 L347.8,184.35 L348.0,185.15 L348.2,185.24 L348.5,186.07 L348.8,185.49 L349.0,185.94 L349.2,186.55 L349.5,186.68 L349.8,186.11 L350.0,187.86 L350.2,186.25 L350.5,186.60 L350.8,186.79 L351.0,188.94 L351.2,188.10 L351.5,187.86 L351.8,188.00 L352.0,189.55 L352.2,188.61 L352.5,188.71 L352.8,190.51 L353.0,189.32 L353.2,190.30 L353.5,190.82 L353.8,190.73 L354.0,191.31 L354.2,192.66 L354.5,191.46 L354.8,191.13 L355.0,190.94 L355.2,192.44 L355.5,192.57 L355.8,193.27 L356.0,192.94 L356.2,193.15 L356.5,193.17 L356.8,193.53 L357.0,194.23 L357.2,194.01 L357.5,194.54 L357.8,196.03 L358.0,195.14 L358.2,193.79 L358.5,196.32 L358.8,195.44 L359.0,194.62 L359.2,196.04 L359.5,195.49 L359.8,195.11 L360.0,195.16 L360.2,194.96 L360.5,195.73 L360.8,196.48 L361.0,195.56 L361.2,196.12 L361.5,197.14 L361.8,195.09 L362.0,196.13 L362.2,195.79 L362.5,195.33 L362.8,195.39 L363.0,196.08 L363.2,196.41 L363.5,195.81 L363.8,196.22 L364.0,196.67 L364.2,196.41 L364.5,196.79 L364.8,196.55 L365.0,196.58 L365.2,197.42 L365.5,196.68 L365.8,196.38 L366.0,196.73 L366.2,195.74 L366.5,196.08 L366.8,196.73 L367.0,196.60 L367.2,197.10 L367.5,196.15 L367.8,195.24 L368.0,197.17 L368.2,196.61 L368.5,195.31 L368.8,196.63 L369.0,195.80 L369.2,194.70 L369.5,195.41 L369.8,195.30 L370.0,196.39 L370.2,195.02 L370.5,195.25 L370.8,195.18 L371.0,195.07 L371.2,194.74 L371.5,195.30 L371.8,195.72 L372.0,195.45 L372.2,194.63 L372.5,194.51 L372.8,195.17 L373.0,194.83 L373.2,195.00 L373.5,194.67 L373.8,196.71 L374.0,196.47 L374.2,195.86 L374.5,197.11 L374.8,197.68 L375.0,196.28 L375.2,197.54 L375.5,198.01 L375.8,198.88 L376.0,198.90 L376.2,199.22 L376.5,199.69 L376.8,200.96 L377.0,201.53 L377.2,200.80 L377.5,201.11 L377.8,203.18 L378.0,202.10 L378.2,202.81 L378.5,203.61 L378.8,204.35 L379.0,205.14 L379.2,205.45 L379.5,205.51 L379.8,206.66 L380.0,207.18 L380.2,208.48 L380.5,208.40 L380.8,208.59 L381.0,209.43 L381.2,211.11 L381.5,211.10 L381.8,211.26 L382.0,212.57 L382.2,213.52 L382.5,214.68 L382.8,214.60 L383.0,215.90 L383.2,216.61 L383.5,216.75 L383.8,217.60 L384.0,218.93 L384.2,219.56 L384.5,219.92 L384.8,220.40 L385.0,221.31 L385.2,221.54 L385.5,222.19 L385.8,222.57 L386.0,223.47 L386.2,224.05 L386.5,225.51 L386.8,225.21 L387.0,226.22 L387.2,226.80 L387.5,226.92 L387.8,227.88 L388.0,227.50 L388.2,228.71 L388.5,229.48 L388.8,229.16 L389.0,230.06 L389.2,231.19 L389.5,231.39 L389.8,231.71 L390.0,232.41 L390.2,232.88 L390.5,233.68 L390.8,234.10 L391.0,234.39 L391.2,234.74 L391.5,235.31 L391.8,236.02 L392.0,236.19 L392.2,236.61 L392.5,236.78 L392.8,236.87 L393.0,237.33 L393.2,237.95 L393.5,238.14 L393.8,238.22 L394.0,238.36 L394.2,239.03 L394.5,239.21 L394.8,239.48 L395.0,239.75 L395.2,240.14 L395.5,240.40 L395.8,240.78 L396.0,241.01 L396.2,241.33 L396.5,241.43 L396.8,241.39 L397.0,241.65 L397.2,241.97 L397.5,241.98 L397.8,242.36 L398.0,242.68 L398.2,242.43 L398.5,242.40 L398.8,243.23 L399.0,243.15 L399.2,243.47 L399.5,243.19 L399.8,244.02 L400.0,243.96 L400.2,243.93 L400.5,244.03 L400.8,244.28 L401.0,244.35 L401.2,244.46 L401.5,244.41 L401.8,245.06 L402.0,244.89 L402.2,245.02 L402.5,245.13 L402.8,244.69 L403.0,245.42 L403.2,245.31 L403.5,245.40 L403.8,245.55 L404.0,245.40 L404.2,245.87 L404.5,245.61 L404.8,245.63 L405.0,245.71 L405.2,246.00 L405.5,246.20 L405.8,245.96 L406.0,245.82 L406.2,246.45 L406.5,246.04 L406.8,246.59 L407.0,246.37 L407.2,246.28 L407.5,246.35 L407.8,246.64 L408.0,246.78 L408.2,246.58 L408.5,246.87 L408.8,247.16 L409.0,246.69 L409.2,246.52 L409.5,246.57 L409.8,246.53 L410.0,246.72 L410.2,246.73 L410.5,246.62 L410.8,247.05 L411.0,246.38 L411.2,246.68 L411.5,247.44 L411.8,247.24 L412.0,247.15 L412.2,247.15 L412.5,247.46 L412.8,247.21 L413.0,247.13 L413.2,246.86 L413.5,247.13 L413.8,247.00 L414.0,247.02 L414.2,247.04 L414.5,247.20 L414.8,247.15 L415.0,247.43 L415.2,246.96 L415.5,247.23 L415.8,247.69 L416.0,247.30 L416.2,247.57 L416.5,247.57 L416.8,247.62 L417.0,247.50 L417.2,247.05 L417.5,247.30 L417.8,247.28 L418.0,247.03 L418.2,247.28 L418.5,247.11 L418.8,247.02 L419.0,247.44 L419.2,247.39 L419.5,247.25 L419.8,247.19 L420.0,247.28 L420.2,247.31 L420.5,247.31 L420.8,247.39 L421.0,247.30 L421.2,247.48 L421.5,247.50 L421.8,247.46 L422.0,247.23 L422.2,247.24 L422.5,247.46 L422.8,247.32 L423.0,247.35 L423.2,246.80 L423.5,246.75 L423.8,247.41 L424.0,247.40 L424.2,247.62 L424.5,247.47 L424.8,247.35 L425.0,247.29 L425.2,246.96 L425.5,247.46 L425.8,247.12 L426.0,247.35 L426.2,247.27 L426.5,247.28 L426.8,247.40 L427.0,247.09 L427.2,247.09 L427.5,246.98 L427.8,247.07 L428.0,247.51 L428.2,247.05 L428.5,247.37 L428.8,247.28 L429.0,247.24 L429.2,247.24 L429.5,246.83 L429.8,247.12 L430.0,247.37 L430.2,246.86 L430.5,246.98 L430.8,246.83 L431.0,247.03 L431.2,246.71 L431.5,247.29 L431.8,246.83 L432.0,246.56 L432.2,247.28 L432.5,247.09 L432.8,246.97 L433.0,246.96 L433.2,246.75 L433.5,246.76 L433.8,246.96 L434.0,246.98 L434.2,246.97 L434.5,246.80 L434.8,246.64 L435.0,246.68 L435.2,246.96 L435.5,247.02 L435.8,246.61 L436.0,246.57 L436.2,246.93 L436.5,246.81 L436.8,246.79 L437.0,246.33 L437.2,246.53 L437.5,246.49 L437.8,246.63 L438.0,246.21 L438.2,246.85 L438.5,246.62 L438.8,246.64 L439.0,246.27 L439.2,246.52 L439.5,246.81 L439.8,246.16 L440.0,246.56 L440.2,246.63 L440.5,246.32 L440.8,246.64 L441.0,246.37 L441.2,246.70 L441.5,246.54 L441.8,246.46 L442.0,246.84 L442.2,246.57 L442.5,246.67 L442.8,246.11 L443.0,246.22 L443.2,246.53 L443.5,246.53 L443.8,246.31 L444.0,246.48 L444.2,246.07 L444.5,246.34 L444.8,246.03 L445.0,246.34 L445.2,246.15 L445.5,246.11 L445.8,246.25 L446.0,246.63 L446.2,245.99 L446.5,246.07 L446.8,246.43 L447.0,246.09 L447.2,246.56 L447.5,246.21 L447.8,246.17 L448.0,246.22 L448.2,246.51 L448.5,246.26 L448.8,246.22 L449.0,246.15 L449.2,245.74 L449.5,245.88 L449.8,246.39 L450.0,246.23 L450.2,246.15 L450.5,246.17 L450.8,245.90 L451.0,246.08 L451.2,245.80 L451.5,246.07 L451.8,245.82 L452.0,245.92 L452.2,246.05 L452.5,245.87 L452.8,246.08 L453.0,246.02 L453.2,245.99 L453.5,246.19 L453.8,245.57 L454.0,245.53 L454.2,246.00 L454.5,246.06 L454.8,246.29 L455.0,246.00 L455.2,246.01 L455.5,245.62 L455.8,245.97 L456.0,245.94 L456.2,245.55 L456.5,245.57 L456.8,245.74 L457.0,245.81 L457.2,245.09 L457.5,245.74 L457.8,245.77 L458.0,245.67 L458.2,245.76 L458.5,245.79 L458.8,245.45 L459.0,245.76 L459.2,245.60 L459.5,245.44 L459.8,245.68 L460.0,245.95 L460.2,245.29 L460.5,245.24 L460.8,245.23 L461.0,246.02 L461.2,245.51 L461.5,245.55 L461.8,245.38 L462.0,245.33 L462.2,245.08 L462.5,245.55 L462.8,245.56 L463.0,245.06 L463.2,245.26 L463.5,245.31 L463.8,245.46 L464.0,245.51 L464.2,245.69 L464.5,245.73 L464.8,245.66 L465.0,245.71 L465.2,245.15 L465.5,245.27 L465.8,245.63 L466.0,245.43 L466.2,245.36 L466.5,244.91 L466.8,244.93 L467.0,245.49 L467.2,245.39 L467.5,245.24 L467.8,245.21 L468.0,244.91 L468.2,245.36 L468.5,245.49 L468.8,245.62 L469.0,245.26 L469.2,245.19 L469.5,244.98 L469.8,245.48 L470.0,245.58 L470.2,245.06 L470.5,245.25 L470.8,245.19 L471.0,245.04 L471.2,244.60 L471.5,245.06 L471.8,245.27 L472.0,244.80 L472.2,244.93 L472.5,244.38 L472.8,245.37 L473.0,245.19 L473.2,245.08 L473.5,245.00 L473.8,244.91 L474.0,245.02 L474.2,244.96 L474.5,244.97 L474.8,245.00 L475.0,245.03" fill="none" stroke="#2a8ad8" stroke-width="0.9" stroke-linejoin="round" opacity="1.0"/>
<path d="M331.5,169.19 L331.8,170.05 L332.0,167.12 L332.2,169.25 L332.5,170.43 L332.8,171.00 L333.0,170.79 L333.2,171.74 L333.5,171.15 L333.8,171.66 L334.0,171.70 L334.2,171.08 L334.5,171.56 L334.8,172.80 L335.0,172.39 L335.2,174.10 L335.5,174.43 L335.8,175.12 L336.0,174.07 L336.2,175.44 L336.5,174.04 L336.8,174.42 L337.0,175.41 L337.2,175.88 L337.5,174.78 L337.8,175.00 L338.0,176.88 L338.2,176.28 L338.5,178.14 L338.8,177.85 L339.0,178.10 L339.2,178.34 L339.5,179.17 L339.8,178.69 L340.0,179.94 L340.2,179.04 L340.5,179.58 L340.8,179.55 L341.0,180.82 L341.2,180.71 L341.5,180.36 L341.8,182.82 L342.0,181.36 L342.2,181.86 L342.5,182.56 L342.8,183.89 L343.0,182.80 L343.2,183.75 L343.5,183.62 L343.8,182.80 L344.0,184.77 L344.2,185.26 L344.5,184.67 L344.8,185.15 L345.0,184.40 L345.2,184.72 L345.5,185.85 L345.8,186.90 L346.0,186.44 L346.2,187.31 L346.5,188.10 L346.8,187.81 L347.0,188.47 L347.2,189.40 L347.5,187.84 L347.8,189.54 L348.0,188.05 L348.2,189.96 L348.5,190.12 L348.8,189.93 L349.0,189.88 L349.2,190.88 L349.5,190.96 L349.8,191.62 L350.0,191.25 L350.2,192.53 L350.5,191.79 L350.8,192.58 L351.0,192.83 L351.2,194.22 L351.5,192.71 L351.8,193.71 L352.0,195.05 L352.2,194.15 L352.5,194.07 L352.8,195.34 L353.0,195.26 L353.2,196.26 L353.5,195.43 L353.8,196.41 L354.0,196.99 L354.2,197.50 L354.5,196.43 L354.8,198.28 L355.0,197.11 L355.2,197.01 L355.5,197.63 L355.8,198.59 L356.0,198.57 L356.2,199.31 L356.5,199.61 L356.8,199.77 L357.0,199.69 L357.2,201.19 L357.5,199.04 L357.8,199.59 L358.0,200.56 L358.2,200.37 L358.5,199.84 L358.8,201.11 L359.0,201.36 L359.2,200.59 L359.5,202.71 L359.8,203.15 L360.0,203.30 L360.2,202.49 L360.5,203.05 L360.8,202.51 L361.0,203.42 L361.2,203.10 L361.5,203.87 L361.8,203.61 L362.0,204.53 L362.2,204.57 L362.5,204.94 L362.8,203.55 L363.0,203.58 L363.2,204.92 L363.5,204.54 L363.8,205.20 L364.0,205.28 L364.2,205.34 L364.5,205.86 L364.8,205.80 L365.0,205.87 L365.2,205.29 L365.5,206.76 L365.8,206.05 L366.0,206.66 L366.2,206.38 L366.5,206.97 L366.8,206.53 L367.0,206.68 L367.2,206.77 L367.5,206.47 L367.8,206.66 L368.0,207.00 L368.2,207.14 L368.5,206.84 L368.8,208.57 L369.0,207.08 L369.2,207.52 L369.5,208.94 L369.8,207.58 L370.0,208.35 L370.2,208.40 L370.5,208.09 L370.8,207.61 L371.0,207.64 L371.2,208.42 L371.5,208.68 L371.8,207.57 L372.0,208.67 L372.2,208.34 L372.5,209.07 L372.8,208.77 L373.0,208.35 L373.2,208.51 L373.5,208.72 L373.8,209.28 L374.0,210.00 L374.2,208.84 L374.5,208.73 L374.8,208.96 L375.0,208.67 L375.2,208.94 L375.5,208.82 L375.8,208.65 L376.0,208.30 L376.2,208.68 L376.5,208.96 L376.8,208.60 L377.0,209.16 L377.2,208.91 L377.5,208.46 L377.8,209.17 L378.0,208.02 L378.2,208.89 L378.5,209.13 L378.8,208.29 L379.0,208.32 L379.2,208.69 L379.5,208.84 L379.8,208.45 L380.0,208.34 L380.2,208.56 L380.5,208.28 L380.8,207.70 L381.0,208.01 L381.2,208.01 L381.5,207.41 L381.8,208.01 L382.0,207.53 L382.2,207.96 L382.5,207.09 L382.8,207.20 L383.0,206.91 L383.2,207.74 L383.5,207.63 L383.8,207.58 L384.0,207.47 L384.2,207.18 L384.5,207.06 L384.8,206.12 L385.0,206.67 L385.2,206.30 L385.5,206.26 L385.8,205.89 L386.0,206.59 L386.2,206.14 L386.5,205.56 L386.8,206.09 L387.0,205.84 L387.2,205.49 L387.5,205.66 L387.8,205.47 L388.0,205.00 L388.2,205.19 L388.5,205.76 L388.8,205.71 L389.0,205.72 L389.2,205.39 L389.5,205.67 L389.8,206.01 L390.0,206.37 L390.2,206.17 L390.5,206.36 L390.8,207.21 L391.0,207.22 L391.2,207.40 L391.5,207.62 L391.8,207.96 L392.0,208.84 L392.2,209.01 L392.5,209.02 L392.8,209.22 L393.0,210.42 L393.2,210.89 L393.5,211.34 L393.8,211.82 L394.0,211.73 L394.2,212.49 L394.5,213.58 L394.8,214.00 L395.0,214.76 L395.2,215.19 L395.5,215.81 L395.8,216.78 L396.0,217.25 L396.2,218.07 L396.5,218.88 L396.8,219.62 L397.0,220.62 L397.2,221.44 L397.5,221.53 L397.8,222.57 L398.0,223.24 L398.2,224.34 L398.5,224.63 L398.8,225.86 L399.0,226.61 L399.2,227.36 L399.5,227.76 L399.8,228.73 L400.0,229.28 L400.2,230.42 L400.5,231.30 L400.8,231.41 L401.0,232.29 L401.2,233.13 L401.5,233.69 L401.8,234.85 L402.0,235.10 L402.2,235.86 L402.5,236.17 L402.8,237.47 L403.0,237.76 L403.2,238.53 L403.5,238.96 L403.8,238.98 L404.0,239.66 L404.2,240.26 L404.5,241.19 L404.8,241.40 L405.0,242.06 L405.2,242.40 L405.5,242.74 L405.8,243.24 L406.0,243.39 L406.2,243.26 L406.5,243.81 L406.8,244.70 L407.0,244.30 L407.2,245.19 L407.5,245.52 L407.8,245.20 L408.0,245.66 L408.2,245.43 L408.5,246.15 L408.8,245.93 L409.0,245.94 L409.2,246.28 L409.5,246.36 L409.8,246.43 L410.0,246.71 L410.2,246.71 L410.5,246.68 L410.8,247.16 L411.0,247.61 L411.2,247.10 L411.5,246.98 L411.8,246.97 L412.0,247.43 L412.2,247.28 L412.5,247.40 L412.8,246.95 L413.0,247.20 L413.2,247.23 L413.5,247.79 L413.8,247.51 L414.0,246.97 L414.2,247.72 L414.5,247.88 L414.8,247.92 L415.0,246.90 L415.2,247.63 L415.5,247.79 L415.8,247.74 L416.0,247.52 L416.2,247.12 L416.5,247.45 L416.8,247.47 L417.0,247.69 L417.2,247.69 L417.5,247.46 L417.8,247.72 L418.0,247.23 L418.2,247.31 L418.5,247.46 L418.8,247.60 L419.0,247.36 L419.2,247.73 L419.5,247.51 L419.8,247.15 L420.0,247.39 L420.2,247.13 L420.5,247.09 L420.8,246.95 L421.0,247.64 L421.2,247.50 L421.5,246.85 L421.8,247.51 L422.0,247.45 L422.2,247.10 L422.5,247.29 L422.8,247.70 L423.0,247.19 L423.2,247.20 L423.5,247.36 L423.8,246.79 L424.0,246.71 L424.2,246.65 L424.5,246.96 L424.8,247.18 L425.0,246.72 L425.2,246.57 L425.5,246.94 L425.8,246.78 L426.0,247.00 L426.2,246.80 L426.5,246.76 L426.8,246.77 L427.0,246.77 L427.2,246.50 L427.5,246.43 L427.8,247.09 L428.0,247.43 L428.2,246.91 L428.5,246.20 L428.8,246.58 L429.0,246.84 L429.2,246.11 L429.5,246.36 L429.8,246.35 L430.0,246.19 L430.2,246.17 L430.5,246.60 L430.8,246.20 L431.0,246.22 L431.2,246.67 L431.5,245.99 L431.8,245.69 L432.0,246.29 L432.2,246.60 L432.5,246.11 L432.8,246.09 L433.0,245.65 L433.2,245.70 L433.5,246.26 L433.8,246.17 L434.0,245.96 L434.2,245.61 L434.5,245.43 L434.8,245.42 L435.0,245.34 L435.2,245.75 L435.5,245.35 L435.8,245.38 L436.0,245.63 L436.2,245.58 L436.5,245.38 L436.8,245.44 L437.0,245.28 L437.2,244.75 L437.5,245.17 L437.8,245.04 L438.0,245.01 L438.2,245.11 L438.5,244.86 L438.8,245.27 L439.0,244.87 L439.2,244.91 L439.5,244.91 L439.8,244.74 L440.0,244.90 L440.2,244.88 L440.5,244.80 L440.8,244.42 L441.0,244.33 L441.2,244.36 L441.5,244.47 L441.8,243.95 L442.0,244.16 L442.2,244.04 L442.5,244.12 L442.8,244.01 L443.0,244.41 L443.2,244.27 L443.5,244.36 L443.8,243.83 L444.0,243.84 L444.2,243.92 L444.5,244.37 L444.8,244.34 L445.0,243.72 L445.2,243.99 L445.5,244.34 L445.8,243.50 L446.0,243.68 L446.2,244.01 L446.5,243.83 L446.8,243.37 L447.0,243.96 L447.2,243.79 L447.5,243.69 L447.8,243.17 L448.0,243.41 L448.2,243.75 L448.5,243.51 L448.8,243.56 L449.0,243.26 L449.2,243.67 L449.5,243.20 L449.8,243.46 L450.0,243.28 L450.2,242.93 L450.5,243.51 L450.8,242.80 L451.0,242.90 L451.2,243.09 L451.5,242.67 L451.8,242.54 L452.0,242.93 L452.2,242.82 L452.5,242.83 L452.8,243.00 L453.0,243.41 L453.2,242.71 L453.5,243.40 L453.8,242.81 L454.0,242.70 L454.2,242.02 L454.5,242.28 L454.8,242.70 L455.0,242.74 L455.2,242.37 L455.5,242.62 L455.8,242.74 L456.0,242.35 L456.2,242.05 L456.5,242.19 L456.8,242.33 L457.0,242.45 L457.2,242.54 L457.5,242.09 L457.8,242.30 L458.0,242.20 L458.2,242.25 L458.5,242.48 L458.8,242.51 L459.0,242.04 L459.2,241.98 L459.5,241.93 L459.8,241.94 L460.0,241.94 L460.2,241.98 L460.5,241.87 L460.8,241.70 L461.0,241.65 L461.2,241.93 L461.5,242.50 L461.8,242.00 L462.0,242.00 L462.2,241.90 L462.5,241.75 L462.8,242.26 L463.0,241.66 L463.2,241.47 L463.5,241.38 L463.8,241.71 L464.0,241.39 L464.2,241.39 L464.5,241.37 L464.8,241.24 L465.0,241.58 L465.2,241.10 L465.5,242.06 L465.8,240.78 L466.0,241.10 L466.2,241.44 L466.5,241.50 L466.8,241.29 L467.0,241.42 L467.2,241.38 L467.5,241.34 L467.8,241.43 L468.0,241.33 L468.2,241.22 L468.5,241.19 L468.8,241.42 L469.0,241.13 L469.2,241.30 L469.5,241.53 L469.8,241.21 L470.0,241.40 L470.2,240.97 L470.5,241.12 L470.8,241.16 L471.0,241.07 L471.2,241.11 L471.5,241.32 L471.8,240.87 L472.0,240.76 L472.2,240.99 L472.5,240.53 L472.8,240.87 L473.0,241.15 L473.2,240.83 L473.5,240.95 L473.8,240.89 L474.0,241.07 L474.2,240.88 L474.5,240.79 L474.8,239.89 L475.0,240.57" fill="none" stroke="#2c2c9c" stroke-width="0.9" stroke-linejoin="round" opacity="1.0"/>
<text x="439.50" y="175.00" font-size="9.5" text-anchor="middle" font-weight="normal" fill="#2a8ad8" >GABA treated</text>
<line x1="532.80" y1="256.00" x2="532.80" y2="253.70" stroke="#707070" stroke-width="0.9"/>
<line x1="568.85" y1="256.00" x2="568.85" y2="253.70" stroke="#707070" stroke-width="0.9"/>
<line x1="604.90" y1="256.00" x2="604.90" y2="253.70" stroke="#707070" stroke-width="0.9"/>
<line x1="640.95" y1="256.00" x2="640.95" y2="253.70" stroke="#707070" stroke-width="0.9"/>
<line x1="677.00" y1="256.00" x2="677.00" y2="253.70" stroke="#707070" stroke-width="0.9"/>
<line x1="550.82" y1="256.00" x2="550.82" y2="254.40" stroke="#707070" stroke-width="0.9"/>
<line x1="586.88" y1="256.00" x2="586.88" y2="254.40" stroke="#707070" stroke-width="0.9"/>
<line x1="622.92" y1="256.00" x2="622.92" y2="254.40" stroke="#707070" stroke-width="0.9"/>
<line x1="658.98" y1="256.00" x2="658.98" y2="254.40" stroke="#707070" stroke-width="0.9"/>
<text x="532.80" y="267.80" font-size="9.5" text-anchor="middle" font-weight="normal" fill="#222" >400</text>
<text x="568.85" y="267.80" font-size="9.5" text-anchor="middle" font-weight="normal" fill="#222" >450</text>
<text x="604.90" y="267.80" font-size="9.5" text-anchor="middle" font-weight="normal" fill="#222" >500</text>
<text x="640.95" y="267.80" font-size="9.5" text-anchor="middle" font-weight="normal" fill="#222" >550</text>
<text x="677.00" y="267.80" font-size="9.5" text-anchor="middle" font-weight="normal" fill="#222" >600</text>
<line x1="532.80" y1="164.10" x2="535.10" y2="164.10" stroke="#707070" stroke-width="0.9"/>
<line x1="532.80" y1="205.90" x2="535.10" y2="205.90" stroke="#707070" stroke-width="0.9"/>
<line x1="532.80" y1="247.70" x2="535.10" y2="247.70" stroke="#707070" stroke-width="0.9"/>
<line x1="532.80" y1="185.00" x2="534.40" y2="185.00" stroke="#707070" stroke-width="0.9"/>
<line x1="532.80" y1="226.80" x2="534.40" y2="226.80" stroke="#707070" stroke-width="0.9"/>
<text x="528.00" y="167.50" font-size="9.5" text-anchor="end" font-weight="normal" fill="#222" >1.0</text>
<text x="528.00" y="209.30" font-size="9.5" text-anchor="end" font-weight="normal" fill="#222" >0.5</text>
<text x="528.00" y="251.10" font-size="9.5" text-anchor="end" font-weight="normal" fill="#222" >0.0</text>
<text x="605.00" y="282.70" font-size="9.5" text-anchor="middle" font-weight="normal" fill="#222" >Wavelength (nm)</text>
<text transform="translate(505.5,205.5) rotate(-90)" font-size="9.5" text-anchor="middle" fill="#222">Photoluminance</text>
<line x1="532.80" y1="155.60" x2="677.00" y2="155.60" stroke="#a8a8a8" stroke-width="1.0"/>
<line x1="532.80" y1="256.00" x2="677.00" y2="256.00" stroke="#707070" stroke-width="1.0"/>
<line x1="532.80" y1="155.60" x2="532.80" y2="256.00" stroke="#707070" stroke-width="1.0"/>
<line x1="677.00" y1="155.60" x2="677.00" y2="256.00" stroke="#707070" stroke-width="1.0"/>
<path d="M547.2,247.80 L547.6,247.80 L548.0,247.78 L548.4,247.76 L548.8,247.73 L549.2,247.69 L549.6,247.65 L550.0,247.60 L550.4,247.54 L550.8,247.48 L551.2,247.42 L551.6,247.35 L552.0,247.27 L552.4,247.20 L552.8,247.12 L553.2,247.03 L553.6,246.95 L554.0,246.86 L554.4,246.78 L554.8,246.68 L555.2,246.56 L555.6,246.43 L556.0,246.29 L556.4,246.13 L556.8,245.97 L557.2,245.79 L557.6,245.60 L558.0,245.41 L558.4,245.22 L558.8,245.02 L559.2,244.81 L559.6,244.61 L560.0,244.40 L560.4,244.20 L560.8,244.00 L561.2,243.82 L561.6,243.64 L562.0,243.45 L562.4,243.27 L562.8,243.07 L563.2,242.86 L563.6,242.62 L564.0,242.37 L564.4,242.08 L564.8,241.76 L565.2,241.40 L565.6,240.99 L566.0,240.45 L566.4,239.75 L566.8,238.89 L567.2,237.86 L567.6,236.67 L568.0,235.32 L568.4,233.82 L568.8,232.00 L569.2,229.13 L569.6,225.46 L570.0,221.39 L570.4,217.32 L570.8,213.62 L571.2,210.06 L571.6,206.49 L572.0,202.91 L572.4,199.34 L572.8,195.80 L573.2,192.30 L573.6,188.85 L574.0,185.36 L574.4,181.66 L574.8,178.01 L575.2,174.66 L575.6,171.89 L576.0,169.85 L576.4,168.13 L576.8,166.79 L577.2,165.93 L577.6,165.26 L578.0,164.70 L578.4,164.27 L578.8,164.03 L579.2,164.04 L579.6,164.30 L580.0,164.79 L580.4,165.44 L580.8,166.20 L581.2,167.11 L581.6,168.63 L582.0,170.64 L582.4,172.90 L582.8,175.20 L583.2,177.31 L583.6,179.39 L584.0,181.53 L584.4,183.70 L584.8,185.85 L585.2,187.97 L585.6,190.01 L586.0,191.96 L586.4,193.88 L586.8,195.76 L587.2,197.60 L587.6,199.41 L588.0,201.18 L588.4,202.92 L588.8,204.62 L589.2,206.26 L589.6,207.84 L590.0,209.38 L590.4,210.92 L590.8,212.48 L591.2,214.09 L591.6,215.79 L592.0,217.60 L592.4,219.45 L592.8,221.24 L593.2,222.90 L593.6,224.34 L594.0,225.64 L594.4,226.86 L594.8,228.01 L595.2,229.08 L595.6,230.07 L596.0,231.00 L596.4,231.87 L596.8,232.72 L597.2,233.52 L597.6,234.28 L598.0,235.00 L598.4,235.67 L598.8,236.30 L599.2,236.87 L599.6,237.39 L600.0,237.88 L600.4,238.35 L600.8,238.79 L601.2,239.20 L601.6,239.60 L602.0,239.97 L602.4,240.31 L602.8,240.64 L603.2,240.95 L603.6,241.25 L604.0,241.54 L604.4,241.82 L604.8,242.09 L605.2,242.34 L605.6,242.58 L606.0,242.81 L606.4,243.03 L606.8,243.23 L607.2,243.41 L607.6,243.58 L608.0,243.75 L608.4,243.91 L608.8,244.07 L609.2,244.22 L609.6,244.36 L610.0,244.50 L610.4,244.63 L610.8,244.76 L611.2,244.88 L611.6,245.00 L612.0,245.11 L612.4,245.22 L612.8,245.32 L613.2,245.42 L613.6,245.51 L614.0,245.60 L614.4,245.68 L614.8,245.77 L615.2,245.85 L615.6,245.93 L616.0,246.00 L616.4,246.08 L616.8,246.15 L617.2,246.23 L617.6,246.29 L618.0,246.36 L618.4,246.42 L618.8,246.48 L619.2,246.54 L619.6,246.59 L620.0,246.64 L620.4,246.68 L620.8,246.72 L621.2,246.76 L621.6,246.79 L622.0,246.82 L622.4,246.85 L622.8,246.88 L623.2,246.90 L623.6,246.93 L624.0,246.96 L624.4,246.98 L624.8,247.01 L625.2,247.04 L625.6,247.06 L626.0,247.08 L626.4,247.11 L626.8,247.13 L627.2,247.16 L627.6,247.18 L628.0,247.20 L628.4,247.22 L628.8,247.24 L629.2,247.27 L629.6,247.29 L630.0,247.31 L630.4,247.32 L630.8,247.34 L631.2,247.36 L631.6,247.38 L632.0,247.40 L632.4,247.41 L632.8,247.43 L633.2,247.44 L633.6,247.46 L634.0,247.47 L634.4,247.49 L634.8,247.50 L635.2,247.51 L635.6,247.52 L636.0,247.53 L636.4,247.54 L636.8,247.55 L637.2,247.56 L637.6,247.57 L638.0,247.57 L638.4,247.58 L638.8,247.59 L639.2,247.59 L639.6,247.59 L640.0,247.60 L640.4,247.60 L640.8,247.60 L641.2,247.60 L641.2,247.60" fill="none" stroke="#2c2c9c" stroke-width="1.0" stroke-linejoin="round" opacity="1.0"/>
<path d="M547.2,247.80 L547.6,247.80 L548.0,247.79 L548.4,247.78 L548.8,247.77 L549.2,247.75 L549.6,247.73 L550.0,247.71 L550.4,247.68 L550.8,247.65 L551.2,247.62 L551.6,247.58 L552.0,247.55 L552.4,247.50 L552.8,247.46 L553.2,247.41 L553.6,247.36 L554.0,247.31 L554.4,247.25 L554.8,247.20 L555.2,247.14 L555.6,247.08 L556.0,247.01 L556.4,246.95 L556.8,246.88 L557.2,246.81 L557.6,246.74 L558.0,246.67 L558.4,246.59 L558.8,246.52 L559.2,246.44 L559.6,246.36 L560.0,246.28 L560.4,246.20 L560.8,246.11 L561.2,246.00 L561.6,245.88 L562.0,245.74 L562.4,245.59 L562.8,245.42 L563.2,245.25 L563.6,245.06 L564.0,244.86 L564.4,244.65 L564.8,244.43 L565.2,244.19 L565.6,243.92 L566.0,243.63 L566.4,243.30 L566.8,242.93 L567.2,242.54 L567.6,242.10 L568.0,241.58 L568.4,240.96 L568.8,240.24 L569.2,239.44 L569.6,238.58 L570.0,237.67 L570.4,236.74 L570.8,235.78 L571.2,234.78 L571.6,233.70 L572.0,232.48 L572.4,231.09 L572.8,229.45 L573.2,227.20 L573.6,224.49 L574.0,221.67 L574.4,218.98 L574.8,216.24 L575.2,213.43 L575.6,210.59 L576.0,207.73 L576.4,204.86 L576.8,202.00 L577.2,199.06 L577.6,196.04 L578.0,193.13 L578.4,190.50 L578.8,188.12 L579.2,185.86 L579.6,183.69 L580.0,181.63 L580.4,179.66 L580.8,177.78 L581.2,175.97 L581.6,174.21 L582.0,172.35 L582.4,170.47 L582.8,168.70 L583.2,167.17 L583.6,166.00 L584.0,165.30 L584.4,164.90 L584.8,164.56 L585.2,164.28 L585.6,164.09 L586.0,164.00 L586.4,164.06 L586.8,164.33 L587.2,164.78 L587.6,165.36 L588.0,166.05 L588.4,166.81 L588.8,167.61 L589.2,168.75 L589.6,170.27 L590.0,172.07 L590.4,174.03 L590.8,176.05 L591.2,178.04 L591.6,179.88 L592.0,181.53 L592.4,183.14 L592.8,184.72 L593.2,186.29 L593.6,187.85 L594.0,189.44 L594.4,191.05 L594.8,192.71 L595.2,194.44 L595.6,196.29 L596.0,198.24 L596.4,200.28 L596.8,202.35 L597.2,204.44 L597.6,206.49 L598.0,208.49 L598.4,210.39 L598.8,212.16 L599.2,213.77 L599.6,215.20 L600.0,216.53 L600.4,217.80 L600.8,218.98 L601.2,220.08 L601.6,221.08 L602.0,222.00 L602.4,222.83 L602.8,223.60 L603.2,224.32 L603.6,224.99 L604.0,225.64 L604.4,226.26 L604.8,226.87 L605.2,227.49 L605.6,228.11 L606.0,228.73 L606.4,229.35 L606.8,229.95 L607.2,230.54 L607.6,231.12 L608.0,231.68 L608.4,232.23 L608.8,232.75 L609.2,233.25 L609.6,233.74 L610.0,234.23 L610.4,234.71 L610.8,235.17 L611.2,235.63 L611.6,236.07 L612.0,236.49 L612.4,236.90 L612.8,237.29 L613.2,237.66 L613.6,238.00 L614.0,238.33 L614.4,238.65 L614.8,238.96 L615.2,239.26 L615.6,239.55 L616.0,239.83 L616.4,240.10 L616.8,240.36 L617.2,240.61 L617.6,240.85 L618.0,241.07 L618.4,241.29 L618.8,241.50 L619.2,241.70 L619.6,241.89 L620.0,242.07 L620.4,242.25 L620.8,242.42 L621.2,242.59 L621.6,242.75 L622.0,242.91 L622.4,243.06 L622.8,243.21 L623.2,243.35 L623.6,243.49 L624.0,243.63 L624.4,243.76 L624.8,243.89 L625.2,244.02 L625.6,244.14 L626.0,244.26 L626.4,244.38 L626.8,244.50 L627.2,244.61 L627.6,244.73 L628.0,244.84 L628.4,244.94 L628.8,245.05 L629.2,245.15 L629.6,245.26 L630.0,245.35 L630.4,245.45 L630.8,245.54 L631.2,245.63 L631.6,245.72 L632.0,245.80 L632.4,245.88 L632.8,245.96 L633.2,246.04 L633.6,246.11 L634.0,246.18 L634.4,246.25 L634.8,246.32 L635.2,246.39 L635.6,246.46 L636.0,246.52 L636.4,246.59 L636.8,246.65 L637.2,246.71 L637.6,246.77 L638.0,246.83 L638.4,246.88 L638.8,246.93 L639.2,246.98 L639.6,247.03 L640.0,247.08 L640.4,247.12 L640.8,247.16 L641.2,247.20 L641.2,247.20" fill="none" stroke="#2a8ad8" stroke-width="1.0" stroke-linejoin="round" opacity="1.0"/>
<defs><linearGradient id="cbg" x1="0" y1="0" x2="0" y2="1"><stop offset="0" stop-color="#3c3c48"/><stop offset="1" stop-color="#2a2a5a"/></linearGradient><linearGradient id="cpl" x1="0" y1="0" x2="0" y2="1"><stop offset="0" stop-color="#3a18c8"/><stop offset="1" stop-color="#2424e8"/></linearGradient><linearGradient id="cpr" x1="0" y1="0" x2="0" y2="1"><stop offset="0" stop-color="#1a30e8"/><stop offset="1" stop-color="#1a3cf4"/></linearGradient></defs>
<rect x="605.2" y="161.8" width="65.3" height="27.0" fill="url(#cbg)"/>
<path d="M606.9,187.3 L610.8,169.2 Q611.6,166.5 614.6,166.4 L637.7,166.1 L637.9,187.1 Z" fill="url(#cpl)" stroke="#38c4ff" stroke-width="1.3" stroke-linejoin="round"/>
<path d="M637.7,166.1 L661.2,164.7 Q663.6,164.6 664.3,166.8 L669.1,186.7 L637.9,187.1 Z" fill="url(#cpr)" stroke="#38c4ff" stroke-width="1.3" stroke-linejoin="round"/>
<text x="-1.30" y="311.60" font-size="15" text-anchor="start" font-weight="bold" fill="#000" >d</text>
<text x="-0.80" y="501.50" font-size="15" text-anchor="start" font-weight="bold" fill="#000" >e</text>
<rect x="49.50" y="311.30" width="191.70" height="132.00" fill="none" stroke="#b4b4b4" stroke-width="1.0"/>
<line x1="49.50" y1="443.30" x2="49.50" y2="441.10" stroke="#b4b4b4" stroke-width="0.9"/>
<line x1="49.50" y1="311.30" x2="49.50" y2="313.50" stroke="#b4b4b4" stroke-width="0.9"/>
<line x1="97.42" y1="443.30" x2="97.42" y2="441.10" stroke="#b4b4b4" stroke-width="0.9"/>
<line x1="97.42" y1="311.30" x2="97.42" y2="313.50" stroke="#b4b4b4" stroke-width="0.9"/>
<line x1="145.35" y1="443.30" x2="145.35" y2="441.10" stroke="#b4b4b4" stroke-width="0.9"/>
<line x1="145.35" y1="311.30" x2="145.35" y2="313.50" stroke="#b4b4b4" stroke-width="0.9"/>
<line x1="193.27" y1="443.30" x2="193.27" y2="441.10" stroke="#b4b4b4" stroke-width="0.9"/>
<line x1="193.27" y1="311.30" x2="193.27" y2="313.50" stroke="#b4b4b4" stroke-width="0.9"/>
<line x1="241.20" y1="443.30" x2="241.20" y2="441.10" stroke="#b4b4b4" stroke-width="0.9"/>
<line x1="241.20" y1="311.30" x2="241.20" y2="313.50" stroke="#b4b4b4" stroke-width="0.9"/>
<line x1="49.50" y1="311.30" x2="51.70" y2="311.30" stroke="#b4b4b4" stroke-width="0.9"/>
<line x1="241.20" y1="311.30" x2="239.00" y2="311.30" stroke="#b4b4b4" stroke-width="0.9"/>
<line x1="49.50" y1="337.80" x2="51.70" y2="337.80" stroke="#b4b4b4" stroke-width="0.9"/>
<line x1="241.20" y1="337.80" x2="239.00" y2="337.80" stroke="#b4b4b4" stroke-width="0.9"/>
<line x1="49.50" y1="364.30" x2="51.70" y2="364.30" stroke="#b4b4b4" stroke-width="0.9"/>
<line x1="241.20" y1="364.30" x2="239.00" y2="364.30" stroke="#b4b4b4" stroke-width="0.9"/>
<line x1="49.50" y1="390.80" x2="51.70" y2="390.80" stroke="#b4b4b4" stroke-width="0.9"/>
<line x1="241.20" y1="390.80" x2="239.00" y2="390.80" stroke="#b4b4b4" stroke-width="0.9"/>
<line x1="49.50" y1="417.30" x2="51.70" y2="417.30" stroke="#b4b4b4" stroke-width="0.9"/>
<line x1="241.20" y1="417.30" x2="239.00" y2="417.30" stroke="#b4b4b4" stroke-width="0.9"/>
<line x1="49.50" y1="443.80" x2="51.70" y2="443.80" stroke="#b4b4b4" stroke-width="0.9"/>
<line x1="241.20" y1="443.80" x2="239.00" y2="443.80" stroke="#b4b4b4" stroke-width="0.9"/>
<text x="49.50" y="454.80" font-size="9.5" text-anchor="middle" font-weight="bold" fill="#111" >400</text>
<text x="97.42" y="454.80" font-size="9.5" text-anchor="middle" font-weight="bold" fill="#111" >450</text>
<text x="145.35" y="454.80" font-size="9.5" text-anchor="middle" font-weight="bold" fill="#111" >500</text>
<text x="193.27" y="454.80" font-size="9.5" text-anchor="middle" font-weight="bold" fill="#111" >550</text>
<text x="241.20" y="454.80" font-size="9.5" text-anchor="middle" font-weight="bold" fill="#111" >600</text>
<text x="45.00" y="314.70" font-size="9.5" text-anchor="end" font-weight="bold" fill="#111" >0.02</text>
<text x="45.00" y="341.20" font-size="9.5" text-anchor="end" font-weight="bold" fill="#111" >0.01</text>
<text x="45.00" y="367.70" font-size="9.5" text-anchor="end" font-weight="bold" fill="#111" >0</text>
<text x="45.00" y="394.20" font-size="9.5" text-anchor="end" font-weight="bold" fill="#111" >−0.01</text>
<text x="45.00" y="420.70" font-size="9.5" text-anchor="end" font-weight="bold" fill="#111" >−0.02</text>
<text x="45.00" y="447.20" font-size="9.5" text-anchor="end" font-weight="bold" fill="#111" >−0.03</text>
<text x="145.35" y="470.90" font-size="11.3" text-anchor="middle" font-weight="bold" fill="#111" >Wavelength (nm)</text>
<text transform="translate(12.30,379.60) rotate(-90)" font-size="14.5" text-anchor="middle" fill="#111">ΔOD</text>
<clipPath id="cd1"><rect x="49.5" y="311.3" width="191.7" height="132.0"/></clipPath>
<g clip-path="url(#cd1)">
<path d="M49.5,367.83 L50.0,368.16 L50.5,367.17 L51.0,365.04 L51.5,364.92 L52.0,364.45 L52.5,365.09 L53.0,364.37 L53.5,364.80 L54.0,362.79 L54.5,365.11 L55.0,363.94 L55.5,364.44 L56.0,363.95 L56.5,363.85 L57.0,364.36 L57.5,364.57 L58.0,364.10 L58.5,364.17 L59.0,364.56 L59.5,363.95 L60.0,363.74 L60.5,364.43 L61.0,364.09 L61.5,363.76 L62.0,364.10 L62.5,364.18 L63.0,364.00 L63.5,363.93 L64.0,364.31 L64.5,364.52 L65.0,364.24 L65.5,364.11 L66.0,364.40 L66.5,364.48 L67.0,364.22 L67.5,364.44 L68.0,364.56 L68.5,364.25 L69.0,364.10 L69.5,364.39 L70.0,364.36 L70.5,364.57 L71.0,363.98 L71.5,364.13 L72.0,364.09 L72.5,363.87 L73.0,364.33 L73.5,364.43 L74.0,364.12 L74.5,364.65 L75.0,364.51 L75.5,364.46 L76.0,364.40 L76.5,364.54 L77.0,363.97 L77.5,364.45 L78.0,364.45 L78.5,363.86 L79.0,364.39 L79.5,364.24 L80.0,364.50 L80.5,364.19 L81.0,364.30 L81.5,364.39 L82.0,364.08 L82.5,364.45 L83.0,364.27 L83.5,364.42 L84.0,364.17 L84.5,364.57 L85.0,364.45 L85.5,364.26 L86.0,364.46 L86.5,364.61 L87.0,364.75 L87.5,363.91 L88.0,364.52 L88.5,364.42 L89.0,364.28 L89.5,364.05 L90.0,364.61 L90.5,363.98 L91.0,364.44 L91.5,364.63 L92.0,363.90 L92.5,364.22 L93.0,363.97 L93.5,364.36 L94.0,364.68 L94.5,364.81 L95.0,363.86 L95.5,364.16 L96.0,364.48 L96.5,364.69 L97.0,364.41 L97.5,364.11 L98.0,364.37 L98.5,364.30 L99.0,364.25 L99.5,364.12 L100.0,364.40 L100.5,364.38 L101.0,364.28 L101.5,364.24 L102.0,363.98 L102.5,364.18 L103.0,364.60 L103.5,364.25 L104.0,363.94 L104.5,364.63 L105.0,364.43 L105.5,364.83 L106.0,364.32 L106.5,364.18 L107.0,363.94 L107.5,364.63 L108.0,364.94 L108.5,364.09 L109.0,364.14 L109.5,364.45 L110.0,364.09 L110.5,364.23 L111.0,364.21 L111.5,364.35 L112.0,364.57 L112.5,364.31 L113.0,364.53 L113.5,364.20 L114.0,364.38 L114.5,363.77 L115.0,363.94 L115.5,364.50 L116.0,364.15 L116.5,364.44 L117.0,364.44 L117.5,364.63 L118.0,364.50 L118.5,364.55 L119.0,364.27 L119.5,364.13 L120.0,364.12 L120.5,364.18 L121.0,364.02 L121.5,364.16 L122.0,364.28 L122.5,364.36 L123.0,364.22 L123.5,363.82 L124.0,364.28 L124.5,364.36 L125.0,364.57 L125.5,364.44 L126.0,364.14 L126.5,364.12 L127.0,364.80 L127.5,364.49 L128.0,364.76 L128.5,364.83 L129.0,364.10 L129.5,364.40 L130.0,364.41 L130.5,364.44 L131.0,364.44 L131.5,364.35 L132.0,364.34 L132.5,363.92 L133.0,364.26 L133.5,364.11 L134.0,364.33 L134.5,364.18 L135.0,364.45 L135.5,364.50 L136.0,364.38 L136.5,364.38 L137.0,364.32 L137.5,364.19 L138.0,364.26 L138.5,364.18 L139.0,364.40 L139.5,364.30 L140.0,364.45 L140.5,363.97 L141.0,364.52 L141.5,364.11 L142.0,364.12 L142.5,364.25 L143.0,364.16 L143.5,364.37 L144.0,364.16 L144.5,364.03 L145.0,364.09 L145.5,364.63 L146.0,364.31 L146.5,364.01 L147.0,364.30 L147.5,363.91 L148.0,364.75 L148.5,363.92 L149.0,364.42 L149.5,364.44 L150.0,363.94 L150.5,364.38 L151.0,364.55 L151.5,364.42 L152.0,364.37 L152.5,364.54 L153.0,364.34 L153.5,364.38 L154.0,364.27 L154.5,364.46 L155.0,364.06 L155.5,364.50 L156.0,364.17 L156.5,364.03 L157.0,364.39 L157.5,364.72 L158.0,364.54 L158.5,364.17 L159.0,364.47 L159.5,364.19 L160.0,364.27 L160.5,364.32 L161.0,363.72 L161.5,364.35 L162.0,364.04 L162.5,364.13 L163.0,363.93 L163.5,363.92 L164.0,364.06 L164.5,364.51 L165.0,364.72 L165.5,364.29 L166.0,364.57 L166.5,364.23 L167.0,363.82 L167.5,364.34 L168.0,364.41 L168.5,364.19 L169.0,364.38 L169.5,364.44 L170.0,364.08 L170.5,363.93 L171.0,364.24 L171.5,364.25 L172.0,364.21 L172.5,364.55 L173.0,364.73 L173.5,364.20 L174.0,364.47 L174.5,364.54 L175.0,364.48 L175.5,364.56 L176.0,364.20 L176.5,364.48 L177.0,364.81 L177.5,364.50 L178.0,364.15 L178.5,364.45 L179.0,364.62 L179.5,364.39 L180.0,364.16 L180.5,364.69 L181.0,363.99 L181.5,364.43 L182.0,364.30 L182.5,364.00 L183.0,364.60 L183.5,364.39 L184.0,364.01 L184.5,364.45 L185.0,364.19 L185.5,363.82 L186.0,364.13 L186.5,364.37 L187.0,364.46 L187.5,364.34 L188.0,364.31 L188.5,364.42 L189.0,364.25 L189.5,364.59 L190.0,364.34 L190.5,364.37 L191.0,364.44 L191.5,364.04 L192.0,364.12 L192.5,364.68 L193.0,364.38 L193.5,364.23 L194.0,364.39 L194.5,364.18 L195.0,364.37 L195.5,364.13 L196.0,364.37 L196.5,363.91 L197.0,364.63 L197.5,364.17 L198.0,363.90 L198.5,364.24 L199.0,364.21 L199.5,364.34 L200.0,364.01 L200.5,364.40 L201.0,365.21 L201.5,363.98 L202.0,364.38 L202.5,364.22 L203.0,364.35 L203.5,363.85 L204.0,364.01 L204.5,364.41 L205.0,364.29 L205.5,364.71 L206.0,364.12 L206.5,364.34 L207.0,365.03 L207.5,364.11 L208.0,364.07 L208.5,364.29 L209.0,364.29 L209.5,364.51 L210.0,364.33 L210.5,364.11 L211.0,364.35 L211.5,364.96 L212.0,364.62 L212.5,363.60 L213.0,364.26 L213.5,364.08 L214.0,364.46 L214.5,364.26 L215.0,364.78 L215.5,364.53 L216.0,364.52 L216.5,364.35 L217.0,364.29 L217.5,364.39 L218.0,364.62 L218.5,364.43 L219.0,364.21 L219.5,364.62 L220.0,364.35 L220.5,364.28 L221.0,364.10 L221.5,364.16 L222.0,364.14 L222.5,363.60 L223.0,364.55 L223.5,364.44 L224.0,364.25 L224.5,364.56 L225.0,364.41 L225.5,364.39 L226.0,363.68 L226.5,364.24 L227.0,364.43 L227.5,364.70 L228.0,364.76 L228.5,364.66 L229.0,364.01 L229.5,363.75 L230.0,364.44 L230.5,364.31 L231.0,364.54 L231.5,364.27 L232.0,364.35 L232.5,363.93 L233.0,364.41 L233.5,364.19 L234.0,364.39 L234.5,364.41 L235.0,364.27 L235.5,364.38 L236.0,364.30 L236.5,364.49 L237.0,364.43 L237.5,364.16 L238.0,364.15 L238.5,364.74 L239.0,364.27 L239.5,364.55 L240.0,364.40 L240.5,364.16 L241.0,364.11 L241.2,364.33" fill="none" stroke="#0072bd" stroke-width="0.8" stroke-linejoin="round" opacity="1.0"/>
<path d="M49.5,343.60 L50.0,344.35 L50.5,344.12 L51.0,344.10 L51.5,344.67 L52.0,342.89 L52.5,343.27 L53.0,342.91 L53.5,343.63 L54.0,344.23 L54.5,343.72 L55.0,344.00 L55.5,342.95 L56.0,343.89 L56.5,343.51 L57.0,344.57 L57.5,344.26 L58.0,344.30 L58.5,344.14 L59.0,344.69 L59.5,345.25 L60.0,345.73 L60.5,346.58 L61.0,347.65 L61.5,348.67 L62.0,349.86 L62.5,351.13 L63.0,352.35 L63.5,353.81 L64.0,354.81 L64.5,356.57 L65.0,358.21 L65.5,360.29 L66.0,362.44 L66.5,364.92 L67.0,367.25 L67.5,369.56 L68.0,371.57 L68.5,373.49 L69.0,375.22 L69.5,376.39 L70.0,377.64 L70.5,379.18 L71.0,380.37 L71.5,381.69 L72.0,382.82 L72.5,383.69 L73.0,384.31 L73.5,385.10 L74.0,385.57 L74.5,385.55 L75.0,385.48 L75.5,385.16 L76.0,384.44 L76.5,383.98 L77.0,383.26 L77.5,382.39 L78.0,381.60 L78.5,380.82 L79.0,380.27 L79.5,379.31 L80.0,378.47 L80.5,377.67 L81.0,376.60 L81.5,375.69 L82.0,375.03 L82.5,374.58 L83.0,374.20 L83.5,373.82 L84.0,373.89 L84.5,374.41 L85.0,374.94 L85.5,375.63 L86.0,376.51 L86.5,377.46 L87.0,378.29 L87.5,379.32 L88.0,380.10 L88.5,381.05 L89.0,382.12 L89.5,382.98 L90.0,383.69 L90.5,384.31 L91.0,385.01 L91.5,385.70 L92.0,386.10 L92.5,386.94 L93.0,387.80 L93.5,388.53 L94.0,388.98 L94.5,389.99 L95.0,390.47 L95.5,391.14 L96.0,391.81 L96.5,392.44 L97.0,392.70 L97.5,393.47 L98.0,393.78 L98.5,394.03 L99.0,394.38 L99.5,394.36 L100.0,394.68 L100.5,394.82 L101.0,394.66 L101.5,394.54 L102.0,394.31 L102.5,393.98 L103.0,393.68 L103.5,393.06 L104.0,392.48 L104.5,391.97 L105.0,391.51 L105.5,390.54 L106.0,389.94 L106.5,388.98 L107.0,388.61 L107.5,387.81 L108.0,387.19 L108.5,386.34 L109.0,385.57 L109.5,385.20 L110.0,384.62 L110.5,383.93 L111.0,383.42 L111.5,383.27 L112.0,382.82 L112.5,382.79 L113.0,382.05 L113.5,381.71 L114.0,381.43 L114.5,380.92 L115.0,380.70 L115.5,380.70 L116.0,380.19 L116.5,379.84 L117.0,379.47 L117.5,379.41 L118.0,379.15 L118.5,378.83 L119.0,378.50 L119.5,378.35 L120.0,378.14 L120.5,377.80 L121.0,377.76 L121.5,377.23 L122.0,377.12 L122.5,377.03 L123.0,376.82 L123.5,376.44 L124.0,376.35 L124.5,376.13 L125.0,375.69 L125.5,375.24 L126.0,374.81 L126.5,374.22 L127.0,373.43 L127.5,372.91 L128.0,372.42 L128.5,371.43 L129.0,370.85 L129.5,370.07 L130.0,369.27 L130.5,368.52 L131.0,367.93 L131.5,367.25 L132.0,366.56 L132.5,365.70 L133.0,365.22 L133.5,364.72 L134.0,364.27 L134.5,363.78 L135.0,363.40 L135.5,363.07 L136.0,362.68 L136.5,362.12 L137.0,361.86 L137.5,361.41 L138.0,360.85 L138.5,360.59 L139.0,360.70 L139.5,359.97 L140.0,359.51 L140.5,359.39 L141.0,359.33 L141.5,358.84 L142.0,358.61 L142.5,358.26 L143.0,358.02 L143.5,357.94 L144.0,357.66 L144.5,357.35 L145.0,357.28 L145.5,357.13 L146.0,356.83 L146.5,356.77 L147.0,356.67 L147.5,356.49 L148.0,356.66 L148.5,356.48 L149.0,356.43 L149.5,356.32 L150.0,356.40 L150.5,356.77 L151.0,356.50 L151.5,356.74 L152.0,356.71 L152.5,356.89 L153.0,356.98 L153.5,356.90 L154.0,357.06 L154.5,357.20 L155.0,357.30 L155.5,357.39 L156.0,357.46 L156.5,357.68 L157.0,357.88 L157.5,357.89 L158.0,357.85 L158.5,358.09 L159.0,358.16 L159.5,358.31 L160.0,358.58 L160.5,358.43 L161.0,358.54 L161.5,358.52 L162.0,358.67 L162.5,358.71 L163.0,359.03 L163.5,358.93 L164.0,358.87 L164.5,359.21 L165.0,358.84 L165.5,359.12 L166.0,359.16 L166.5,359.12 L167.0,359.04 L167.5,359.08 L168.0,359.07 L168.5,359.22 L169.0,358.86 L169.5,359.10 L170.0,359.20 L170.5,359.13 L171.0,358.99 L171.5,359.20 L172.0,359.15 L172.5,359.36 L173.0,359.45 L173.5,359.30 L174.0,359.08 L174.5,359.30 L175.0,359.23 L175.5,359.44 L176.0,359.57 L176.5,359.43 L177.0,359.65 L177.5,359.60 L178.0,359.52 L178.5,359.34 L179.0,359.49 L179.5,359.31 L180.0,359.63 L180.5,359.53 L181.0,359.70 L181.5,359.58 L182.0,359.33 L182.5,359.65 L183.0,359.70 L183.5,359.80 L184.0,359.50 L184.5,359.52 L185.0,359.65 L185.5,359.53 L186.0,359.50 L186.5,359.55 L187.0,360.00 L187.5,359.63 L188.0,359.59 L188.5,359.67 L189.0,359.74 L189.5,359.90 L190.0,359.87 L190.5,359.86 L191.0,359.79 L191.5,359.81 L192.0,359.73 L192.5,359.63 L193.0,360.07 L193.5,359.78 L194.0,359.97 L194.5,359.82 L195.0,359.86 L195.5,359.86 L196.0,359.72 L196.5,359.89 L197.0,359.95 L197.5,360.01 L198.0,359.98 L198.5,360.06 L199.0,359.98 L199.5,359.95 L200.0,359.72 L200.5,359.91 L201.0,360.16 L201.5,360.00 L202.0,360.09 L202.5,359.98 L203.0,359.93 L203.5,360.27 L204.0,360.07 L204.5,360.21 L205.0,360.11 L205.5,360.02 L206.0,359.79 L206.5,360.08 L207.0,359.88 L207.5,359.81 L208.0,360.24 L208.5,360.18 L209.0,360.18 L209.5,360.11 L210.0,360.11 L210.5,360.17 L211.0,360.15 L211.5,360.14 L212.0,360.23 L212.5,359.85 L213.0,360.26 L213.5,360.08 L214.0,360.26 L214.5,360.31 L215.0,360.07 L215.5,360.27 L216.0,360.28 L216.5,360.10 L217.0,360.13 L217.5,360.21 L218.0,359.93 L218.5,360.15 L219.0,360.23 L219.5,360.16 L220.0,360.02 L220.5,360.17 L221.0,360.40 L221.5,360.38 L222.0,360.21 L222.5,360.14 L223.0,360.23 L223.5,360.24 L224.0,360.16 L224.5,360.21 L225.0,360.32 L225.5,360.37 L226.0,359.96 L226.5,360.38 L227.0,360.28 L227.5,360.40 L228.0,360.26 L228.5,360.32 L229.0,360.47 L229.5,359.92 L230.0,360.47 L230.5,360.30 L231.0,360.06 L231.5,359.96 L232.0,360.32 L232.5,360.16 L233.0,360.41 L233.5,360.31 L234.0,360.27 L234.5,360.41 L235.0,360.32 L235.5,360.38 L236.0,360.40 L236.5,360.33 L237.0,360.39 L237.5,360.39 L238.0,360.13 L238.5,360.27 L239.0,360.28 L239.5,360.25 L240.0,360.11 L240.5,360.23 L241.0,360.34 L241.2,360.32" fill="none" stroke="#77ac30" stroke-width="0.8" stroke-linejoin="round" opacity="1.0"/>
<path d="M49.5,355.42 L50.0,351.30 L50.5,353.68 L51.0,352.63 L51.5,353.07 L52.0,352.16 L52.5,352.76 L53.0,351.49 L53.5,351.03 L54.0,351.50 L54.5,351.33 L55.0,350.89 L55.5,350.91 L56.0,351.31 L56.5,351.28 L57.0,350.82 L57.5,350.94 L58.0,350.70 L58.5,352.10 L59.0,351.99 L59.5,352.92 L60.0,353.31 L60.5,354.30 L61.0,354.96 L61.5,355.56 L62.0,356.56 L62.5,357.16 L63.0,358.33 L63.5,358.92 L64.0,360.04 L64.5,361.16 L65.0,362.31 L65.5,363.67 L66.0,365.16 L66.5,366.82 L67.0,368.61 L67.5,370.16 L68.0,371.51 L68.5,372.72 L69.0,374.08 L69.5,374.86 L70.0,376.05 L70.5,377.10 L71.0,378.33 L71.5,379.27 L72.0,380.21 L72.5,380.99 L73.0,381.54 L73.5,382.19 L74.0,382.59 L74.5,382.49 L75.0,382.39 L75.5,381.90 L76.0,381.46 L76.5,380.72 L77.0,379.97 L77.5,379.11 L78.0,378.49 L78.5,377.54 L79.0,376.96 L79.5,376.39 L80.0,375.95 L80.5,375.21 L81.0,374.63 L81.5,374.25 L82.0,373.84 L82.5,373.40 L83.0,372.76 L83.5,372.89 L84.0,372.95 L84.5,373.17 L85.0,373.63 L85.5,374.37 L86.0,374.68 L86.5,375.25 L87.0,376.10 L87.5,376.72 L88.0,377.42 L88.5,378.01 L89.0,378.73 L89.5,379.36 L90.0,379.57 L90.5,380.06 L91.0,380.86 L91.5,381.33 L92.0,381.67 L92.5,382.12 L93.0,382.73 L93.5,383.12 L94.0,383.73 L94.5,384.46 L95.0,384.76 L95.5,385.34 L96.0,385.61 L96.5,386.09 L97.0,386.59 L97.5,386.60 L98.0,387.02 L98.5,387.30 L99.0,387.55 L99.5,387.86 L100.0,387.85 L100.5,387.62 L101.0,387.72 L101.5,387.51 L102.0,387.28 L102.5,387.34 L103.0,386.61 L103.5,386.34 L104.0,385.76 L104.5,385.44 L105.0,384.84 L105.5,384.24 L106.0,383.63 L106.5,383.19 L107.0,382.35 L107.5,381.79 L108.0,381.17 L108.5,380.92 L109.0,380.22 L109.5,379.66 L110.0,379.31 L110.5,379.30 L111.0,378.70 L111.5,378.59 L112.0,378.40 L112.5,378.30 L113.0,378.23 L113.5,378.30 L114.0,378.34 L114.5,378.17 L115.0,378.82 L115.5,378.70 L116.0,378.68 L116.5,378.73 L117.0,378.76 L117.5,379.06 L118.0,379.01 L118.5,379.17 L119.0,379.03 L119.5,379.31 L120.0,379.56 L120.5,379.33 L121.0,379.49 L121.5,379.40 L122.0,379.48 L122.5,379.31 L123.0,378.94 L123.5,378.53 L124.0,378.24 L124.5,377.76 L125.0,377.18 L125.5,376.79 L126.0,376.25 L126.5,375.54 L127.0,375.10 L127.5,374.95 L128.0,374.18 L128.5,373.49 L129.0,373.12 L129.5,372.05 L130.0,371.05 L130.5,370.32 L131.0,369.55 L131.5,368.94 L132.0,368.21 L132.5,367.02 L133.0,366.62 L133.5,365.59 L134.0,365.05 L134.5,364.43 L135.0,363.84 L135.5,363.28 L136.0,362.89 L136.5,362.41 L137.0,362.34 L137.5,362.20 L138.0,361.97 L138.5,361.95 L139.0,361.55 L139.5,361.30 L140.0,361.21 L140.5,360.84 L141.0,360.47 L141.5,360.18 L142.0,360.43 L142.5,360.18 L143.0,360.05 L143.5,359.76 L144.0,359.71 L144.5,359.76 L145.0,359.46 L145.5,359.17 L146.0,359.15 L146.5,359.28 L147.0,358.90 L147.5,358.66 L148.0,358.63 L148.5,358.70 L149.0,358.93 L149.5,358.82 L150.0,358.71 L150.5,358.65 L151.0,358.81 L151.5,358.83 L152.0,358.82 L152.5,358.91 L153.0,358.90 L153.5,359.28 L154.0,358.85 L154.5,359.23 L155.0,359.18 L155.5,359.48 L156.0,359.46 L156.5,359.64 L157.0,359.76 L157.5,359.82 L158.0,360.02 L158.5,359.84 L159.0,360.23 L159.5,360.19 L160.0,360.36 L160.5,360.60 L161.0,360.64 L161.5,360.83 L162.0,360.41 L162.5,360.64 L163.0,360.93 L163.5,360.74 L164.0,360.91 L164.5,361.17 L165.0,361.10 L165.5,360.91 L166.0,361.10 L166.5,361.15 L167.0,361.10 L167.5,361.11 L168.0,361.16 L168.5,360.99 L169.0,361.20 L169.5,361.10 L170.0,361.28 L170.5,361.31 L171.0,361.17 L171.5,361.38 L172.0,361.37 L172.5,361.34 L173.0,361.45 L173.5,361.35 L174.0,361.38 L174.5,361.44 L175.0,361.44 L175.5,361.61 L176.0,361.21 L176.5,361.48 L177.0,361.29 L177.5,361.49 L178.0,361.60 L178.5,361.59 L179.0,361.73 L179.5,361.67 L180.0,361.32 L180.5,361.53 L181.0,361.87 L181.5,361.89 L182.0,361.73 L182.5,361.55 L183.0,362.02 L183.5,361.52 L184.0,361.83 L184.5,361.80 L185.0,361.86 L185.5,361.70 L186.0,361.81 L186.5,362.01 L187.0,361.84 L187.5,361.75 L188.0,361.93 L188.5,361.96 L189.0,361.94 L189.5,361.88 L190.0,362.06 L190.5,361.99 L191.0,361.88 L191.5,362.07 L192.0,362.05 L192.5,362.09 L193.0,361.88 L193.5,362.01 L194.0,362.17 L194.5,362.24 L195.0,362.19 L195.5,362.18 L196.0,362.26 L196.5,362.31 L197.0,362.41 L197.5,362.27 L198.0,362.16 L198.5,362.30 L199.0,362.02 L199.5,362.28 L200.0,362.23 L200.5,362.29 L201.0,362.37 L201.5,362.33 L202.0,362.16 L202.5,362.30 L203.0,362.26 L203.5,362.37 L204.0,362.43 L204.5,362.28 L205.0,362.49 L205.5,362.57 L206.0,362.39 L206.5,362.53 L207.0,362.27 L207.5,362.39 L208.0,362.58 L208.5,362.27 L209.0,362.43 L209.5,362.39 L210.0,362.65 L210.5,362.65 L211.0,362.45 L211.5,362.55 L212.0,362.23 L212.5,362.66 L213.0,362.60 L213.5,362.73 L214.0,362.29 L214.5,362.63 L215.0,362.55 L215.5,362.29 L216.0,362.53 L216.5,362.61 L217.0,362.72 L217.5,362.66 L218.0,362.58 L218.5,362.70 L219.0,362.64 L219.5,362.58 L220.0,362.54 L220.5,362.69 L221.0,362.70 L221.5,362.91 L222.0,362.64 L222.5,362.89 L223.0,362.74 L223.5,362.85 L224.0,362.60 L224.5,362.61 L225.0,362.68 L225.5,362.83 L226.0,362.75 L226.5,362.83 L227.0,362.78 L227.5,362.87 L228.0,362.77 L228.5,362.69 L229.0,362.82 L229.5,362.77 L230.0,362.97 L230.5,362.75 L231.0,362.78 L231.5,362.74 L232.0,362.91 L232.5,362.88 L233.0,362.86 L233.5,362.63 L234.0,362.60 L234.5,362.82 L235.0,362.88 L235.5,362.97 L236.0,362.58 L236.5,362.77 L237.0,362.59 L237.5,362.68 L238.0,362.77 L238.5,362.91 L239.0,362.74 L239.5,362.71 L240.0,362.76 L240.5,362.95 L241.0,363.09 L241.2,362.61" fill="none" stroke="#4dbeee" stroke-width="0.8" stroke-linejoin="round" opacity="1.0"/>
<path d="M49.5,331.50 L50.0,330.30 L50.5,329.92 L51.0,329.07 L51.5,330.82 L52.0,331.85 L52.5,331.13 L53.0,331.44 L53.5,331.75 L54.0,330.78 L54.5,332.61 L55.0,330.95 L55.5,331.59 L56.0,332.65 L56.5,331.66 L57.0,332.19 L57.5,332.63 L58.0,333.77 L58.5,334.06 L59.0,335.70 L59.5,337.61 L60.0,338.66 L60.5,340.09 L61.0,341.78 L61.5,343.41 L62.0,345.02 L62.5,347.07 L63.0,349.39 L63.5,352.70 L64.0,355.91 L64.5,359.61 L65.0,363.09 L65.5,366.44 L66.0,369.79 L66.5,372.53 L67.0,375.12 L67.5,377.06 L68.0,379.27 L68.5,381.13 L69.0,383.54 L69.5,385.33 L70.0,387.49 L70.5,389.28 L71.0,390.77 L71.5,392.51 L72.0,393.79 L72.5,395.09 L73.0,396.17 L73.5,396.77 L74.0,397.22 L74.5,397.05 L75.0,396.80 L75.5,395.90 L76.0,394.68 L76.5,392.89 L77.0,391.30 L77.5,389.50 L78.0,387.56 L78.5,386.09 L79.0,385.05 L79.5,383.79 L80.0,382.66 L80.5,381.79 L81.0,380.61 L81.5,379.51 L82.0,378.63 L82.5,377.79 L83.0,377.19 L83.5,376.84 L84.0,376.85 L84.5,377.22 L85.0,377.58 L85.5,378.49 L86.0,379.55 L86.5,380.67 L87.0,382.23 L87.5,383.76 L88.0,385.03 L88.5,386.69 L89.0,387.90 L89.5,389.36 L90.0,390.45 L90.5,391.26 L91.0,392.12 L91.5,393.41 L92.0,394.40 L92.5,395.55 L93.0,396.83 L93.5,398.17 L94.0,399.13 L94.5,400.23 L95.0,401.12 L95.5,402.31 L96.0,403.20 L96.5,404.36 L97.0,405.09 L97.5,405.92 L98.0,406.61 L98.5,407.17 L99.0,407.78 L99.5,408.07 L100.0,408.19 L100.5,408.32 L101.0,408.27 L101.5,408.11 L102.0,407.53 L102.5,407.11 L103.0,406.16 L103.5,405.38 L104.0,404.30 L104.5,403.56 L105.0,402.25 L105.5,401.10 L106.0,400.12 L106.5,398.72 L107.0,397.44 L107.5,396.39 L108.0,395.01 L108.5,393.92 L109.0,392.58 L109.5,391.58 L110.0,390.56 L110.5,389.45 L111.0,388.77 L111.5,387.73 L112.0,387.09 L112.5,386.61 L113.0,386.30 L113.5,385.77 L114.0,385.41 L114.5,385.18 L115.0,385.01 L115.5,384.54 L116.0,384.17 L116.5,384.03 L117.0,383.84 L117.5,383.41 L118.0,383.17 L118.5,382.58 L119.0,382.43 L119.5,382.06 L120.0,381.73 L120.5,381.29 L121.0,380.93 L121.5,380.29 L122.0,380.06 L122.5,379.33 L123.0,379.00 L123.5,378.73 L124.0,378.21 L124.5,377.38 L125.0,377.16 L125.5,376.50 L126.0,375.91 L126.5,375.43 L127.0,374.76 L127.5,374.19 L128.0,373.08 L128.5,372.40 L129.0,371.60 L129.5,370.54 L130.0,370.03 L130.5,369.23 L131.0,368.08 L131.5,367.35 L132.0,366.45 L132.5,365.71 L133.0,364.85 L133.5,364.32 L134.0,363.44 L134.5,363.16 L135.0,362.54 L135.5,362.33 L136.0,361.38 L136.5,361.10 L137.0,360.50 L137.5,360.18 L138.0,359.80 L138.5,359.19 L139.0,358.69 L139.5,358.22 L140.0,358.04 L140.5,357.77 L141.0,357.37 L141.5,356.86 L142.0,356.39 L142.5,356.13 L143.0,355.68 L143.5,355.38 L144.0,355.44 L144.5,355.04 L145.0,354.90 L145.5,354.65 L146.0,354.70 L146.5,354.60 L147.0,354.26 L147.5,354.26 L148.0,354.22 L148.5,354.47 L149.0,354.48 L149.5,354.33 L150.0,354.68 L150.5,354.46 L151.0,354.37 L151.5,354.34 L152.0,354.65 L152.5,354.78 L153.0,354.76 L153.5,354.97 L154.0,355.17 L154.5,355.12 L155.0,355.33 L155.5,355.54 L156.0,355.51 L156.5,355.49 L157.0,355.72 L157.5,355.85 L158.0,356.15 L158.5,355.95 L159.0,355.92 L159.5,356.25 L160.0,356.35 L160.5,356.36 L161.0,356.57 L161.5,356.63 L162.0,356.82 L162.5,356.65 L163.0,356.73 L163.5,356.87 L164.0,356.87 L164.5,357.12 L165.0,357.07 L165.5,357.02 L166.0,357.24 L166.5,357.14 L167.0,357.22 L167.5,357.23 L168.0,357.14 L168.5,357.16 L169.0,357.21 L169.5,357.10 L170.0,357.21 L170.5,357.38 L171.0,357.34 L171.5,357.22 L172.0,357.64 L172.5,357.25 L173.0,357.48 L173.5,357.51 L174.0,357.60 L174.5,357.37 L175.0,357.50 L175.5,357.49 L176.0,357.68 L176.5,357.61 L177.0,357.64 L177.5,357.67 L178.0,357.87 L178.5,357.73 L179.0,357.78 L179.5,357.58 L180.0,357.80 L180.5,357.59 L181.0,357.87 L181.5,357.80 L182.0,357.70 L182.5,357.69 L183.0,357.83 L183.5,357.88 L184.0,357.82 L184.5,357.86 L185.0,357.89 L185.5,357.88 L186.0,357.94 L186.5,358.01 L187.0,358.16 L187.5,358.10 L188.0,357.97 L188.5,358.25 L189.0,358.22 L189.5,358.06 L190.0,358.24 L190.5,358.07 L191.0,358.06 L191.5,358.08 L192.0,358.38 L192.5,358.22 L193.0,358.26 L193.5,358.24 L194.0,358.20 L194.5,358.33 L195.0,358.37 L195.5,358.54 L196.0,358.21 L196.5,358.52 L197.0,358.43 L197.5,358.16 L198.0,358.49 L198.5,358.59 L199.0,358.54 L199.5,358.45 L200.0,358.46 L200.5,358.21 L201.0,358.50 L201.5,358.50 L202.0,358.38 L202.5,358.53 L203.0,358.44 L203.5,358.80 L204.0,358.40 L204.5,358.45 L205.0,358.31 L205.5,358.53 L206.0,358.60 L206.5,358.60 L207.0,358.54 L207.5,358.73 L208.0,358.66 L208.5,358.79 L209.0,358.64 L209.5,358.46 L210.0,358.66 L210.5,358.57 L211.0,358.80 L211.5,358.63 L212.0,358.69 L212.5,358.72 L213.0,358.55 L213.5,358.70 L214.0,358.86 L214.5,358.69 L215.0,358.75 L215.5,358.80 L216.0,358.71 L216.5,358.76 L217.0,358.86 L217.5,358.77 L218.0,358.83 L218.5,358.81 L219.0,358.71 L219.5,358.69 L220.0,359.09 L220.5,359.02 L221.0,358.85 L221.5,358.98 L222.0,359.01 L222.5,359.00 L223.0,358.85 L223.5,358.72 L224.0,358.75 L224.5,358.88 L225.0,359.07 L225.5,359.11 L226.0,358.89 L226.5,358.89 L227.0,359.08 L227.5,359.19 L228.0,358.83 L228.5,359.00 L229.0,358.97 L229.5,358.92 L230.0,358.92 L230.5,358.92 L231.0,358.97 L231.5,358.79 L232.0,358.97 L232.5,359.07 L233.0,359.07 L233.5,359.08 L234.0,359.03 L234.5,359.01 L235.0,359.22 L235.5,358.97 L236.0,359.01 L236.5,359.15 L237.0,359.00 L237.5,358.84 L238.0,358.93 L238.5,358.95 L239.0,358.98 L239.5,358.95 L240.0,359.12 L240.5,359.09 L241.0,359.06 L241.2,358.96" fill="none" stroke="#7e2f8e" stroke-width="0.8" stroke-linejoin="round" opacity="1.0"/>
<path d="M49.5,328.97 L50.0,329.05 L50.5,329.77 L51.0,328.96 L51.5,329.51 L52.0,329.58 L52.5,328.16 L53.0,329.58 L53.5,328.70 L54.0,330.19 L54.5,329.59 L55.0,329.16 L55.5,329.72 L56.0,329.99 L56.5,330.34 L57.0,331.08 L57.5,331.14 L58.0,331.92 L58.5,332.04 L59.0,332.30 L59.5,332.51 L60.0,333.20 L60.5,334.78 L61.0,336.54 L61.5,338.74 L62.0,340.89 L62.5,343.68 L63.0,346.45 L63.5,349.48 L64.0,352.26 L64.5,355.57 L65.0,358.21 L65.5,361.19 L66.0,364.44 L66.5,367.83 L67.0,371.15 L67.5,375.04 L68.0,378.44 L68.5,381.76 L69.0,384.74 L69.5,387.42 L70.0,389.80 L70.5,392.19 L71.0,394.50 L71.5,396.63 L72.0,399.05 L72.5,400.77 L73.0,402.46 L73.5,403.67 L74.0,404.18 L74.5,404.61 L75.0,404.15 L75.5,403.08 L76.0,402.07 L76.5,400.57 L77.0,398.85 L77.5,397.05 L78.0,394.97 L78.5,393.44 L79.0,391.93 L79.5,390.57 L80.0,388.96 L80.5,387.38 L81.0,385.61 L81.5,383.76 L82.0,382.46 L82.5,381.25 L83.0,380.11 L83.5,379.28 L84.0,379.23 L84.5,379.64 L85.0,380.26 L85.5,381.60 L86.0,382.92 L86.5,384.86 L87.0,386.70 L87.5,388.55 L88.0,390.37 L88.5,392.45 L89.0,394.12 L89.5,395.70 L90.0,397.23 L90.5,398.19 L91.0,399.33 L91.5,400.83 L92.0,402.20 L92.5,403.44 L93.0,404.61 L93.5,406.02 L94.0,406.96 L94.5,408.48 L95.0,409.66 L95.5,410.51 L96.0,411.69 L96.5,412.52 L97.0,413.52 L97.5,414.61 L98.0,415.22 L98.5,416.11 L99.0,416.77 L99.5,417.25 L100.0,417.75 L100.5,418.16 L101.0,418.10 L101.5,418.20 L102.0,418.02 L102.5,417.29 L103.0,416.55 L103.5,415.42 L104.0,414.66 L104.5,413.48 L105.0,412.01 L105.5,410.69 L106.0,409.02 L106.5,407.25 L107.0,405.43 L107.5,403.57 L108.0,401.94 L108.5,400.25 L109.0,398.48 L109.5,396.82 L110.0,395.26 L110.5,393.95 L111.0,392.34 L111.5,391.35 L112.0,390.41 L112.5,389.69 L113.0,389.03 L113.5,388.32 L114.0,387.72 L114.5,387.13 L115.0,386.92 L115.5,386.39 L116.0,385.90 L116.5,385.35 L117.0,384.86 L117.5,384.69 L118.0,384.09 L118.5,383.66 L119.0,383.33 L119.5,382.44 L120.0,382.06 L120.5,381.73 L121.0,381.30 L121.5,380.64 L122.0,380.30 L122.5,379.77 L123.0,379.31 L123.5,378.96 L124.0,378.45 L124.5,378.08 L125.0,377.50 L125.5,377.09 L126.0,376.27 L126.5,375.86 L127.0,375.06 L127.5,374.43 L128.0,373.81 L128.5,373.34 L129.0,372.50 L129.5,371.45 L130.0,370.93 L130.5,370.00 L131.0,368.95 L131.5,368.02 L132.0,367.14 L132.5,366.11 L133.0,365.68 L133.5,364.53 L134.0,363.80 L134.5,363.08 L135.0,362.42 L135.5,361.81 L136.0,361.36 L136.5,360.57 L137.0,359.99 L137.5,359.42 L138.0,359.01 L138.5,358.20 L139.0,357.62 L139.5,357.20 L140.0,356.47 L140.5,356.03 L141.0,355.65 L141.5,355.10 L142.0,354.59 L142.5,354.32 L143.0,353.68 L143.5,353.29 L144.0,352.82 L144.5,352.74 L145.0,352.56 L145.5,352.21 L146.0,352.36 L146.5,352.16 L147.0,352.11 L147.5,351.86 L148.0,352.05 L148.5,352.09 L149.0,351.83 L149.5,352.12 L150.0,352.15 L150.5,352.03 L151.0,352.37 L151.5,352.64 L152.0,352.56 L152.5,352.46 L153.0,352.63 L153.5,352.89 L154.0,352.76 L154.5,353.01 L155.0,353.09 L155.5,353.22 L156.0,353.51 L156.5,353.24 L157.0,353.69 L157.5,353.69 L158.0,353.77 L158.5,353.69 L159.0,354.04 L159.5,354.07 L160.0,353.87 L160.5,354.16 L161.0,354.28 L161.5,354.40 L162.0,354.54 L162.5,354.59 L163.0,354.96 L163.5,354.97 L164.0,354.89 L164.5,355.12 L165.0,355.26 L165.5,355.10 L166.0,354.92 L166.5,355.16 L167.0,355.33 L167.5,355.07 L168.0,355.23 L168.5,355.38 L169.0,355.45 L169.5,355.45 L170.0,355.43 L170.5,355.40 L171.0,355.39 L171.5,355.61 L172.0,355.64 L172.5,355.51 L173.0,355.52 L173.5,355.79 L174.0,355.80 L174.5,355.62 L175.0,355.55 L175.5,355.80 L176.0,355.91 L176.5,355.97 L177.0,355.99 L177.5,355.74 L178.0,355.96 L178.5,355.94 L179.0,355.93 L179.5,356.37 L180.0,356.09 L180.5,356.15 L181.0,356.12 L181.5,356.27 L182.0,356.36 L182.5,356.22 L183.0,356.28 L183.5,356.27 L184.0,356.23 L184.5,356.36 L185.0,356.46 L185.5,356.45 L186.0,356.45 L186.5,356.28 L187.0,356.58 L187.5,356.59 L188.0,356.78 L188.5,356.55 L189.0,356.49 L189.5,356.45 L190.0,356.64 L190.5,356.73 L191.0,356.80 L191.5,356.61 L192.0,356.76 L192.5,356.98 L193.0,356.89 L193.5,356.87 L194.0,356.89 L194.5,356.78 L195.0,356.82 L195.5,356.96 L196.0,357.19 L196.5,357.21 L197.0,357.08 L197.5,357.20 L198.0,357.20 L198.5,357.31 L199.0,357.11 L199.5,357.26 L200.0,357.36 L200.5,357.12 L201.0,357.29 L201.5,357.35 L202.0,357.39 L202.5,357.43 L203.0,357.46 L203.5,357.53 L204.0,357.60 L204.5,357.50 L205.0,357.74 L205.5,357.44 L206.0,357.50 L206.5,357.58 L207.0,357.47 L207.5,357.41 L208.0,357.45 L208.5,357.77 L209.0,357.57 L209.5,357.50 L210.0,357.91 L210.5,357.75 L211.0,357.75 L211.5,357.62 L212.0,357.79 L212.5,357.71 L213.0,357.82 L213.5,357.81 L214.0,357.80 L214.5,357.87 L215.0,357.75 L215.5,357.82 L216.0,357.80 L216.5,357.95 L217.0,358.01 L217.5,358.03 L218.0,357.72 L218.5,358.17 L219.0,357.95 L219.5,357.98 L220.0,358.00 L220.5,358.01 L221.0,358.18 L221.5,358.06 L222.0,358.09 L222.5,358.18 L223.0,358.24 L223.5,357.97 L224.0,357.96 L224.5,357.89 L225.0,357.90 L225.5,358.17 L226.0,358.16 L226.5,358.15 L227.0,358.21 L227.5,358.21 L228.0,358.33 L228.5,358.40 L229.0,358.11 L229.5,358.39 L230.0,358.35 L230.5,358.13 L231.0,358.25 L231.5,358.19 L232.0,358.04 L232.5,358.26 L233.0,358.06 L233.5,358.27 L234.0,358.14 L234.5,358.23 L235.0,358.37 L235.5,358.29 L236.0,358.19 L236.5,358.31 L237.0,358.37 L237.5,358.41 L238.0,358.20 L238.5,358.43 L239.0,358.28 L239.5,358.23 L240.0,358.44 L240.5,358.38 L241.0,358.38 L241.2,358.32" fill="none" stroke="#edb120" stroke-width="0.8" stroke-linejoin="round" opacity="1.0"/>
<path d="M49.5,336.07 L50.0,336.97 L50.5,337.30 L51.0,337.35 L51.5,337.96 L52.0,336.69 L52.5,337.44 L53.0,337.11 L53.5,336.77 L54.0,337.43 L54.5,338.14 L55.0,337.93 L55.5,338.59 L56.0,339.47 L56.5,339.56 L57.0,339.92 L57.5,340.31 L58.0,340.73 L58.5,340.92 L59.0,342.54 L59.5,342.81 L60.0,344.23 L60.5,345.27 L61.0,346.52 L61.5,347.84 L62.0,349.18 L62.5,350.83 L63.0,352.19 L63.5,354.65 L64.0,357.30 L64.5,361.20 L65.0,365.05 L65.5,369.58 L66.0,374.40 L66.5,378.78 L67.0,383.84 L67.5,388.68 L68.0,393.24 L68.5,397.74 L69.0,402.41 L69.5,407.32 L70.0,412.18 L70.5,416.91 L71.0,421.22 L71.5,425.12 L72.0,428.67 L72.5,432.52 L73.0,436.18 L73.5,439.04 L74.0,440.74 L74.5,441.27 L75.0,440.86 L75.5,439.56 L76.0,437.82 L76.5,436.01 L77.0,434.13 L77.5,431.97 L78.0,429.52 L78.5,426.64 L79.0,423.20 L79.5,420.55 L80.0,417.60 L80.5,414.67 L81.0,411.95 L81.5,408.61 L82.0,405.92 L82.5,403.59 L83.0,401.64 L83.5,400.56 L84.0,400.37 L84.5,400.39 L85.0,400.53 L85.5,400.92 L86.0,401.36 L86.5,401.74 L87.0,401.79 L87.5,402.76 L88.0,403.30 L88.5,403.92 L89.0,404.46 L89.5,405.27 L90.0,406.07 L90.5,407.07 L91.0,409.11 L91.5,411.22 L92.0,413.54 L92.5,415.96 L93.0,418.71 L93.5,420.90 L94.0,422.85 L94.5,424.05 L95.0,425.44 L95.5,426.18 L96.0,427.43 L96.5,427.90 L97.0,429.05 L97.5,429.80 L98.0,430.14 L98.5,430.90 L99.0,431.21 L99.5,431.40 L100.0,431.49 L100.5,431.26 L101.0,431.07 L101.5,430.56 L102.0,429.87 L102.5,428.95 L103.0,428.11 L103.5,427.41 L104.0,426.15 L104.5,425.15 L105.0,424.03 L105.5,422.93 L106.0,421.43 L106.5,419.59 L107.0,417.51 L107.5,415.35 L108.0,412.95 L108.5,410.70 L109.0,408.17 L109.5,406.02 L110.0,403.95 L110.5,401.74 L111.0,400.19 L111.5,398.53 L112.0,396.79 L112.5,395.21 L113.0,393.74 L113.5,392.39 L114.0,391.16 L114.5,389.80 L115.0,388.61 L115.5,387.47 L116.0,385.90 L116.5,384.52 L117.0,383.42 L117.5,382.23 L118.0,381.29 L118.5,380.24 L119.0,379.42 L119.5,378.07 L120.0,377.23 L120.5,376.25 L121.0,375.31 L121.5,374.32 L122.0,373.72 L122.5,372.53 L123.0,371.65 L123.5,370.84 L124.0,369.89 L124.5,369.18 L125.0,367.94 L125.5,367.17 L126.0,366.24 L126.5,365.39 L127.0,364.59 L127.5,363.49 L128.0,362.41 L128.5,361.74 L129.0,360.69 L129.5,359.99 L130.0,359.06 L130.5,358.42 L131.0,357.39 L131.5,356.41 L132.0,355.78 L132.5,355.12 L133.0,354.29 L133.5,353.62 L134.0,352.96 L134.5,352.30 L135.0,351.58 L135.5,351.17 L136.0,350.41 L136.5,349.52 L137.0,349.17 L137.5,348.40 L138.0,347.80 L138.5,347.19 L139.0,346.73 L139.5,345.77 L140.0,345.53 L140.5,345.13 L141.0,344.62 L141.5,344.06 L142.0,343.79 L142.5,343.71 L143.0,343.65 L143.5,343.12 L144.0,343.23 L144.5,343.35 L145.0,343.37 L145.5,343.45 L146.0,343.60 L146.5,343.64 L147.0,343.48 L147.5,343.75 L148.0,343.80 L148.5,344.09 L149.0,344.44 L149.5,344.57 L150.0,344.92 L150.5,345.02 L151.0,345.21 L151.5,345.43 L152.0,345.46 L152.5,345.77 L153.0,346.11 L153.5,346.39 L154.0,346.63 L154.5,346.71 L155.0,346.96 L155.5,347.22 L156.0,347.84 L156.5,347.88 L157.0,348.25 L157.5,348.41 L158.0,348.66 L158.5,348.90 L159.0,349.13 L159.5,349.43 L160.0,349.75 L160.5,349.72 L161.0,350.09 L161.5,350.26 L162.0,350.43 L162.5,350.74 L163.0,351.02 L163.5,350.82 L164.0,351.14 L164.5,351.39 L165.0,351.50 L165.5,351.35 L166.0,351.75 L166.5,351.79 L167.0,351.93 L167.5,352.22 L168.0,352.15 L168.5,352.44 L169.0,352.66 L169.5,352.63 L170.0,352.73 L170.5,353.24 L171.0,353.00 L171.5,353.42 L172.0,353.32 L172.5,353.55 L173.0,353.60 L173.5,353.80 L174.0,353.93 L174.5,353.90 L175.0,354.13 L175.5,354.37 L176.0,354.27 L176.5,354.20 L177.0,354.60 L177.5,354.56 L178.0,354.79 L178.5,354.78 L179.0,354.81 L179.5,354.95 L180.0,355.09 L180.5,355.14 L181.0,355.00 L181.5,355.03 L182.0,355.08 L182.5,355.40 L183.0,355.30 L183.5,355.19 L184.0,355.27 L184.5,355.47 L185.0,355.18 L185.5,355.27 L186.0,355.42 L186.5,355.42 L187.0,355.41 L187.5,355.23 L188.0,355.35 L188.5,355.06 L189.0,355.31 L189.5,355.29 L190.0,355.30 L190.5,355.51 L191.0,355.35 L191.5,355.36 L192.0,355.47 L192.5,355.61 L193.0,355.30 L193.5,355.49 L194.0,355.37 L194.5,355.22 L195.0,355.35 L195.5,355.46 L196.0,355.39 L196.5,355.37 L197.0,355.43 L197.5,355.40 L198.0,355.41 L198.5,355.32 L199.0,355.52 L199.5,355.18 L200.0,355.48 L200.5,355.37 L201.0,355.56 L201.5,355.33 L202.0,355.19 L202.5,355.53 L203.0,355.60 L203.5,355.26 L204.0,355.53 L204.5,355.52 L205.0,355.37 L205.5,355.57 L206.0,355.40 L206.5,355.62 L207.0,355.65 L207.5,355.46 L208.0,355.47 L208.5,355.52 L209.0,355.29 L209.5,355.44 L210.0,355.52 L210.5,355.79 L211.0,355.67 L211.5,355.56 L212.0,355.43 L212.5,355.58 L213.0,355.55 L213.5,355.38 L214.0,355.51 L214.5,355.38 L215.0,355.49 L215.5,355.16 L216.0,355.72 L216.5,355.49 L217.0,355.42 L217.5,355.48 L218.0,355.36 L218.5,355.54 L219.0,355.72 L219.5,355.60 L220.0,355.52 L220.5,355.55 L221.0,355.58 L221.5,355.52 L222.0,355.50 L222.5,355.57 L223.0,355.60 L223.5,355.51 L224.0,355.61 L224.5,355.43 L225.0,355.36 L225.5,355.35 L226.0,355.62 L226.5,355.49 L227.0,355.57 L227.5,355.49 L228.0,355.54 L228.5,355.60 L229.0,355.41 L229.5,355.51 L230.0,355.76 L230.5,355.82 L231.0,355.61 L231.5,355.61 L232.0,355.52 L232.5,355.46 L233.0,355.68 L233.5,355.74 L234.0,355.65 L234.5,355.66 L235.0,355.51 L235.5,355.73 L236.0,355.63 L236.5,355.52 L237.0,355.72 L237.5,355.50 L238.0,355.48 L238.5,355.61 L239.0,355.48 L239.5,355.47 L240.0,355.67 L240.5,355.62 L241.0,355.54 L241.2,355.67" fill="none" stroke="#d95319" stroke-width="0.8" stroke-linejoin="round" opacity="1.0"/>
</g>
<rect x="184.70" y="315.50" width="52.00" height="63.50" fill="#fff" stroke="#a8a8a8" stroke-width="0.9"/>
<line x1="186.70" y1="321.80" x2="204.20" y2="321.80" stroke="#0072bd" stroke-width="0.9" opacity="0.8"/>
<text x="207.90" y="324.70" font-size="8.3" text-anchor="start" font-weight="bold" fill="#111" >0.2 ps</text>
<line x1="186.70" y1="332.10" x2="204.20" y2="332.10" stroke="#d95319" stroke-width="0.9" opacity="0.8"/>
<text x="207.90" y="335.00" font-size="8.3" text-anchor="start" font-weight="bold" fill="#111" >1 ps</text>
<line x1="186.70" y1="342.40" x2="204.20" y2="342.40" stroke="#edb120" stroke-width="0.9" opacity="0.8"/>
<text x="207.90" y="345.30" font-size="8.3" text-anchor="start" font-weight="bold" fill="#111" >5 ps</text>
<line x1="186.70" y1="352.70" x2="204.20" y2="352.70" stroke="#7e2f8e" stroke-width="0.9" opacity="0.8"/>
<text x="207.90" y="355.60" font-size="8.3" text-anchor="start" font-weight="bold" fill="#111" >10 ps</text>
<line x1="186.70" y1="363.00" x2="204.20" y2="363.00" stroke="#77ac30" stroke-width="0.9" opacity="0.8"/>
<text x="207.90" y="365.90" font-size="8.3" text-anchor="start" font-weight="bold" fill="#111" >40 ps</text>
<line x1="186.70" y1="373.30" x2="204.20" y2="373.30" stroke="#4dbeee" stroke-width="0.9" opacity="0.8"/>
<text x="207.90" y="376.20" font-size="8.3" text-anchor="start" font-weight="bold" fill="#111" >100 ps</text>
<text x="98.90" y="328.50" font-size="13" fill="#858585" text-anchor="middle"><<tspan font-style="italic">n</tspan>> = 2</text>
<text x="77.20" y="440.30" font-size="13" fill="#858585" text-anchor="middle"><tspan font-style="italic">n</tspan> = 2</text>
<text x="112.60" y="425.60" font-size="13" fill="#858585" text-anchor="middle"><tspan font-style="italic">n</tspan> = 3</text>
<text x="150.20" y="393.30" font-size="13" fill="#858585" text-anchor="middle"><tspan font-style="italic">n</tspan> > 3</text>
<rect x="314.40" y="311.20" width="191.80" height="131.90" fill="none" stroke="#b4b4b4" stroke-width="1.0"/>
<line x1="358.51" y1="443.10" x2="358.51" y2="440.90" stroke="#b4b4b4" stroke-width="0.9"/>
<line x1="358.51" y1="311.20" x2="358.51" y2="313.40" stroke="#b4b4b4" stroke-width="0.9"/>
<line x1="407.74" y1="443.10" x2="407.74" y2="440.90" stroke="#b4b4b4" stroke-width="0.9"/>
<line x1="407.74" y1="311.20" x2="407.74" y2="313.40" stroke="#b4b4b4" stroke-width="0.9"/>
<line x1="456.97" y1="443.10" x2="456.97" y2="440.90" stroke="#b4b4b4" stroke-width="0.9"/>
<line x1="456.97" y1="311.20" x2="456.97" y2="313.40" stroke="#b4b4b4" stroke-width="0.9"/>
<line x1="506.20" y1="443.10" x2="506.20" y2="440.90" stroke="#b4b4b4" stroke-width="0.9"/>
<line x1="506.20" y1="311.20" x2="506.20" y2="313.40" stroke="#b4b4b4" stroke-width="0.9"/>
<line x1="314.40" y1="311.80" x2="316.60" y2="311.80" stroke="#b4b4b4" stroke-width="0.9"/>
<line x1="506.20" y1="311.80" x2="504.00" y2="311.80" stroke="#b4b4b4" stroke-width="0.9"/>
<line x1="314.40" y1="338.20" x2="316.60" y2="338.20" stroke="#b4b4b4" stroke-width="0.9"/>
<line x1="506.20" y1="338.20" x2="504.00" y2="338.20" stroke="#b4b4b4" stroke-width="0.9"/>
<line x1="314.40" y1="364.60" x2="316.60" y2="364.60" stroke="#b4b4b4" stroke-width="0.9"/>
<line x1="506.20" y1="364.60" x2="504.00" y2="364.60" stroke="#b4b4b4" stroke-width="0.9"/>
<line x1="314.40" y1="391.00" x2="316.60" y2="391.00" stroke="#b4b4b4" stroke-width="0.9"/>
<line x1="506.20" y1="391.00" x2="504.00" y2="391.00" stroke="#b4b4b4" stroke-width="0.9"/>
<line x1="314.40" y1="417.40" x2="316.60" y2="417.40" stroke="#b4b4b4" stroke-width="0.9"/>
<line x1="506.20" y1="417.40" x2="504.00" y2="417.40" stroke="#b4b4b4" stroke-width="0.9"/>
<line x1="314.40" y1="443.80" x2="316.60" y2="443.80" stroke="#b4b4b4" stroke-width="0.9"/>
<line x1="506.20" y1="443.80" x2="504.00" y2="443.80" stroke="#b4b4b4" stroke-width="0.9"/>
<text x="358.51" y="454.60" font-size="9.5" text-anchor="middle" font-weight="bold" fill="#111" >450</text>
<text x="407.74" y="454.60" font-size="9.5" text-anchor="middle" font-weight="bold" fill="#111" >500</text>
<text x="456.97" y="454.60" font-size="9.5" text-anchor="middle" font-weight="bold" fill="#111" >550</text>
<text x="506.20" y="454.60" font-size="9.5" text-anchor="middle" font-weight="bold" fill="#111" >600</text>
<text x="309.50" y="315.20" font-size="9.5" text-anchor="end" font-weight="bold" fill="#111" >0.02</text>
<text x="309.50" y="341.60" font-size="9.5" text-anchor="end" font-weight="bold" fill="#111" >0.01</text>
<text x="309.50" y="368.00" font-size="9.5" text-anchor="end" font-weight="bold" fill="#111" >0</text>
<text x="309.50" y="394.40" font-size="9.5" text-anchor="end" font-weight="bold" fill="#111" >−0.01</text>
<text x="309.50" y="420.80" font-size="9.5" text-anchor="end" font-weight="bold" fill="#111" >−0.02</text>
<text x="309.50" y="447.20" font-size="9.5" text-anchor="end" font-weight="bold" fill="#111" >−0.03</text>
<text x="410.30" y="470.70" font-size="11.3" text-anchor="middle" font-weight="bold" fill="#111" >Wavelength (nm)</text>
<text transform="translate(276.50,379.45) rotate(-90)" font-size="14.5" text-anchor="middle" fill="#111">ΔOD</text>
<clipPath id="cd2"><rect x="314.4" y="311.2" width="191.8" height="131.90000000000003"/></clipPath>
<g clip-path="url(#cd2)">
<path d="M314.4,364.13 L314.9,364.59 L315.4,363.49 L315.9,364.77 L316.4,364.22 L316.9,364.02 L317.4,364.07 L317.9,364.02 L318.4,364.36 L318.9,364.76 L319.4,364.69 L319.9,364.72 L320.4,363.91 L320.9,363.95 L321.4,365.04 L321.9,364.83 L322.4,365.24 L322.9,364.89 L323.4,364.10 L323.9,364.90 L324.4,364.66 L324.9,364.50 L325.4,364.12 L325.9,364.40 L326.4,364.33 L326.9,364.67 L327.4,364.39 L327.9,364.88 L328.4,364.04 L328.9,364.46 L329.4,364.45 L329.9,363.95 L330.4,363.82 L330.9,364.57 L331.4,364.38 L331.9,364.12 L332.4,364.30 L332.9,363.91 L333.4,364.21 L333.9,363.90 L334.4,364.16 L334.9,364.43 L335.4,363.95 L335.9,364.35 L336.4,363.68 L336.9,363.93 L337.4,363.55 L337.9,363.98 L338.4,364.04 L338.9,363.94 L339.4,363.91 L339.9,364.47 L340.4,364.50 L340.9,363.58 L341.4,364.41 L341.9,363.40 L342.4,363.75 L342.9,363.95 L343.4,364.05 L343.9,363.65 L344.4,363.77 L344.9,364.05 L345.4,363.79 L345.9,363.81 L346.4,364.28 L346.9,364.38 L347.4,364.04 L347.9,364.07 L348.4,364.07 L348.9,363.92 L349.4,363.91 L349.9,363.74 L350.4,364.34 L350.9,364.09 L351.4,364.08 L351.9,364.21 L352.4,364.34 L352.9,364.66 L353.4,364.08 L353.9,364.05 L354.4,364.27 L354.9,363.92 L355.4,364.67 L355.9,364.56 L356.4,364.50 L356.9,364.22 L357.4,364.54 L357.9,364.66 L358.4,364.48 L358.9,364.22 L359.4,363.75 L359.9,364.68 L360.4,364.24 L360.9,364.08 L361.4,364.71 L361.9,364.53 L362.4,363.93 L362.9,364.41 L363.4,364.36 L363.9,364.82 L364.4,363.82 L364.9,364.37 L365.4,364.47 L365.9,365.03 L366.4,364.17 L366.9,363.53 L367.4,364.09 L367.9,364.69 L368.4,364.89 L368.9,365.23 L369.4,364.78 L369.9,364.37 L370.4,364.98 L370.9,364.68 L371.4,364.63 L371.9,364.72 L372.4,365.17 L372.9,364.43 L373.4,364.40 L373.9,364.75 L374.4,364.76 L374.9,364.51 L375.4,364.50 L375.9,364.96 L376.4,365.31 L376.9,365.11 L377.4,365.11 L377.9,365.33 L378.4,364.21 L378.9,364.40 L379.4,364.70 L379.9,364.55 L380.4,364.64 L380.9,365.03 L381.4,364.58 L381.9,364.89 L382.4,364.35 L382.9,364.75 L383.4,365.58 L383.9,364.94 L384.4,365.27 L384.9,365.42 L385.4,365.02 L385.9,365.42 L386.4,365.31 L386.9,365.50 L387.4,365.06 L387.9,364.80 L388.4,364.96 L388.9,365.15 L389.4,365.55 L389.9,365.31 L390.4,365.26 L390.9,365.35 L391.4,365.82 L391.9,365.25 L392.4,366.00 L392.9,365.05 L393.4,365.29 L393.9,365.81 L394.4,365.71 L394.9,365.24 L395.4,365.51 L395.9,365.31 L396.4,365.86 L396.9,365.76 L397.4,365.33 L397.9,365.73 L398.4,365.46 L398.9,365.57 L399.4,365.62 L399.9,365.40 L400.4,365.75 L400.9,365.76 L401.4,365.74 L401.9,365.98 L402.4,365.49 L402.9,365.05 L403.4,365.39 L403.9,365.62 L404.4,365.55 L404.9,365.73 L405.4,365.80 L405.9,365.46 L406.4,365.44 L406.9,365.12 L407.4,365.81 L407.9,365.34 L408.4,365.03 L408.9,365.00 L409.4,365.22 L409.9,365.89 L410.4,365.59 L410.9,364.71 L411.4,365.23 L411.9,365.35 L412.4,365.45 L412.9,365.32 L413.4,364.96 L413.9,365.30 L414.4,364.94 L414.9,364.32 L415.4,364.83 L415.9,364.81 L416.4,365.36 L416.9,365.38 L417.4,364.62 L417.9,365.02 L418.4,364.96 L418.9,364.41 L419.4,364.17 L419.9,364.83 L420.4,364.89 L420.9,364.61 L421.4,363.85 L421.9,364.77 L422.4,364.56 L422.9,364.43 L423.4,364.61 L423.9,364.31 L424.4,364.89 L424.9,364.68 L425.4,364.47 L425.9,364.75 L426.4,364.63 L426.9,364.10 L427.4,364.57 L427.9,364.45 L428.4,364.00 L428.9,364.38 L429.4,364.75 L429.9,364.38 L430.4,365.09 L430.9,365.19 L431.4,364.49 L431.9,364.79 L432.4,365.30 L432.9,364.48 L433.4,364.29 L433.9,364.45 L434.4,364.12 L434.9,364.13 L435.4,364.67 L435.9,364.45 L436.4,364.69 L436.9,364.77 L437.4,364.33 L437.9,364.53 L438.4,364.51 L438.9,364.37 L439.4,364.31 L439.9,364.71 L440.4,364.55 L440.9,364.72 L441.4,364.95 L441.9,364.95 L442.4,364.21 L442.9,364.30 L443.4,364.51 L443.9,364.64 L444.4,364.93 L444.9,364.26 L445.4,364.45 L445.9,364.69 L446.4,365.03 L446.9,365.08 L447.4,364.25 L447.9,364.53 L448.4,364.32 L448.9,364.90 L449.4,364.76 L449.9,364.47 L450.4,364.39 L450.9,364.70 L451.4,364.94 L451.9,364.33 L452.4,364.49 L452.9,364.64 L453.4,364.61 L453.9,364.72 L454.4,364.25 L454.9,364.39 L455.4,363.86 L455.9,364.62 L456.4,364.97 L456.9,363.88 L457.4,364.38 L457.9,364.91 L458.4,364.55 L458.9,363.94 L459.4,365.01 L459.9,364.10 L460.4,365.08 L460.9,364.40 L461.4,364.35 L461.9,364.61 L462.4,364.59 L462.9,364.81 L463.4,364.78 L463.9,364.55 L464.4,365.06 L464.9,364.85 L465.4,364.70 L465.9,364.65 L466.4,364.57 L466.9,364.57 L467.4,364.83 L467.9,364.77 L468.4,364.61 L468.9,364.96 L469.4,364.51 L469.9,364.75 L470.4,364.90 L470.9,364.21 L471.4,364.51 L471.9,365.18 L472.4,364.27 L472.9,365.00 L473.4,364.23 L473.9,364.74 L474.4,364.23 L474.9,364.38 L475.4,364.47 L475.9,364.41 L476.4,364.95 L476.9,364.89 L477.4,364.90 L477.9,364.67 L478.4,365.17 L478.9,364.96 L479.4,364.71 L479.9,364.23 L480.4,364.84 L480.9,364.83 L481.4,364.63 L481.9,364.85 L482.4,364.87 L482.9,364.50 L483.4,364.80 L483.9,364.72 L484.4,364.71 L484.9,364.48 L485.4,364.44 L485.9,364.64 L486.4,365.10 L486.9,365.41 L487.4,364.47 L487.9,364.23 L488.4,364.48 L488.9,364.31 L489.4,364.45 L489.9,364.74 L490.4,364.28 L490.9,364.81 L491.4,364.88 L491.9,365.13 L492.4,365.24 L492.9,364.95 L493.4,365.39 L493.9,364.43 L494.4,364.70 L494.9,364.66 L495.4,364.75 L495.9,364.96 L496.4,364.49 L496.9,365.20 L497.4,365.05 L497.9,364.72 L498.4,364.77 L498.9,364.26 L499.4,363.73 L499.9,364.57 L500.4,364.71 L500.9,364.68 L501.4,364.22 L501.9,364.45 L502.4,365.22 L502.9,364.86 L503.4,364.82 L503.9,364.50 L504.4,364.86 L504.9,365.05 L505.4,364.87 L505.9,364.46 L506.2,364.70" fill="none" stroke="#0072bd" stroke-width="0.8" stroke-linejoin="round" opacity="1.0"/>
<path d="M314.4,356.93 L314.9,356.80 L315.4,356.63 L315.9,356.57 L316.4,356.67 L316.9,356.17 L317.4,356.35 L317.9,356.26 L318.4,355.95 L318.9,355.79 L319.4,355.83 L319.9,355.81 L320.4,355.83 L320.9,355.59 L321.4,355.59 L321.9,355.27 L322.4,355.15 L322.9,354.98 L323.4,354.99 L323.9,355.03 L324.4,355.05 L324.9,354.84 L325.4,355.06 L325.9,354.92 L326.4,354.84 L326.9,354.81 L327.4,355.14 L327.9,354.92 L328.4,354.81 L328.9,354.82 L329.4,355.19 L329.9,354.94 L330.4,355.20 L330.9,355.28 L331.4,354.90 L331.9,355.41 L332.4,355.30 L332.9,355.28 L333.4,355.44 L333.9,355.68 L334.4,355.76 L334.9,355.88 L335.4,355.86 L335.9,356.23 L336.4,356.39 L336.9,356.57 L337.4,356.61 L337.9,356.86 L338.4,357.04 L338.9,357.03 L339.4,357.21 L339.9,357.34 L340.4,357.51 L340.9,357.72 L341.4,357.59 L341.9,357.93 L342.4,358.21 L342.9,358.09 L343.4,358.35 L343.9,358.91 L344.4,358.78 L344.9,359.05 L345.4,359.34 L345.9,359.44 L346.4,359.59 L346.9,359.83 L347.4,360.04 L347.9,360.22 L348.4,360.51 L348.9,360.89 L349.4,360.93 L349.9,361.29 L350.4,361.38 L350.9,361.59 L351.4,361.75 L351.9,361.84 L352.4,362.12 L352.9,362.30 L353.4,362.32 L353.9,362.73 L354.4,362.89 L354.9,363.06 L355.4,363.14 L355.9,363.08 L356.4,363.77 L356.9,363.78 L357.4,363.73 L357.9,364.27 L358.4,364.31 L358.9,364.68 L359.4,364.80 L359.9,365.16 L360.4,365.26 L360.9,365.49 L361.4,365.69 L361.9,366.04 L362.4,365.97 L362.9,366.49 L363.4,366.66 L363.9,366.75 L364.4,367.06 L364.9,367.24 L365.4,367.55 L365.9,367.91 L366.4,367.96 L366.9,368.39 L367.4,368.67 L367.9,368.90 L368.4,369.28 L368.9,369.36 L369.4,369.72 L369.9,370.22 L370.4,370.21 L370.9,370.48 L371.4,370.79 L371.9,371.16 L372.4,371.31 L372.9,371.66 L373.4,371.79 L373.9,372.20 L374.4,372.52 L374.9,372.83 L375.4,373.25 L375.9,373.72 L376.4,373.96 L376.9,374.24 L377.4,374.84 L377.9,375.28 L378.4,375.56 L378.9,376.23 L379.4,376.59 L379.9,377.17 L380.4,377.70 L380.9,378.44 L381.4,378.81 L381.9,379.45 L382.4,380.09 L382.9,380.79 L383.4,381.40 L383.9,381.73 L384.4,382.59 L384.9,383.08 L385.4,383.78 L385.9,384.35 L386.4,384.74 L386.9,385.38 L387.4,385.90 L387.9,386.53 L388.4,387.21 L388.9,387.54 L389.4,387.95 L389.9,388.81 L390.4,388.84 L390.9,389.39 L391.4,389.79 L391.9,390.02 L392.4,390.61 L392.9,390.96 L393.4,391.10 L393.9,391.40 L394.4,391.65 L394.9,391.74 L395.4,392.27 L395.9,392.37 L396.4,392.68 L396.9,393.11 L397.4,393.43 L397.9,393.47 L398.4,393.96 L398.9,394.26 L399.4,394.29 L399.9,394.47 L400.4,394.69 L400.9,394.79 L401.4,394.88 L401.9,395.19 L402.4,395.31 L402.9,395.25 L403.4,395.32 L403.9,395.32 L404.4,395.31 L404.9,395.20 L405.4,394.96 L405.9,395.01 L406.4,394.53 L406.9,394.19 L407.4,393.94 L407.9,393.15 L408.4,392.71 L408.9,391.85 L409.4,391.28 L409.9,390.73 L410.4,389.88 L410.9,388.97 L411.4,388.17 L411.9,387.59 L412.4,386.62 L412.9,385.98 L413.4,385.10 L413.9,384.20 L414.4,383.42 L414.9,382.71 L415.4,381.80 L415.9,380.72 L416.4,379.77 L416.9,378.48 L417.4,377.20 L417.9,375.93 L418.4,374.49 L418.9,373.14 L419.4,371.57 L419.9,370.14 L420.4,368.80 L420.9,367.60 L421.4,366.27 L421.9,365.25 L422.4,364.25 L422.9,363.48 L423.4,362.96 L423.9,362.88 L424.4,362.29 L424.9,362.10 L425.4,361.84 L425.9,361.59 L426.4,361.41 L426.9,361.46 L427.4,361.04 L427.9,361.14 L428.4,360.94 L428.9,360.71 L429.4,360.72 L429.9,360.75 L430.4,360.69 L430.9,360.97 L431.4,360.91 L431.9,360.96 L432.4,360.81 L432.9,361.03 L433.4,360.96 L433.9,361.36 L434.4,361.12 L434.9,361.23 L435.4,361.31 L435.9,361.27 L436.4,361.35 L436.9,361.42 L437.4,361.64 L437.9,361.53 L438.4,361.68 L438.9,361.81 L439.4,361.80 L439.9,361.77 L440.4,361.87 L440.9,362.04 L441.4,362.05 L441.9,362.36 L442.4,362.32 L442.9,362.39 L443.4,362.34 L443.9,362.59 L444.4,362.55 L444.9,362.54 L445.4,362.64 L445.9,363.04 L446.4,362.74 L446.9,362.76 L447.4,363.03 L447.9,363.02 L448.4,362.92 L448.9,363.14 L449.4,362.82 L449.9,362.94 L450.4,362.81 L450.9,363.16 L451.4,363.00 L451.9,363.30 L452.4,363.05 L452.9,363.05 L453.4,362.87 L453.9,362.86 L454.4,362.94 L454.9,363.10 L455.4,362.87 L455.9,362.72 L456.4,363.09 L456.9,363.10 L457.4,362.89 L457.9,363.04 L458.4,363.12 L458.9,363.13 L459.4,362.81 L459.9,363.00 L460.4,362.90 L460.9,363.10 L461.4,363.00 L461.9,362.85 L462.4,363.00 L462.9,363.05 L463.4,362.80 L463.9,362.83 L464.4,362.90 L464.9,362.95 L465.4,362.91 L465.9,362.77 L466.4,362.80 L466.9,362.97 L467.4,363.03 L467.9,362.87 L468.4,363.00 L468.9,363.20 L469.4,362.95 L469.9,362.92 L470.4,362.89 L470.9,363.03 L471.4,363.00 L471.9,363.00 L472.4,362.93 L472.9,363.02 L473.4,363.02 L473.9,362.95 L474.4,363.10 L474.9,362.78 L475.4,363.05 L475.9,362.95 L476.4,363.06 L476.9,363.18 L477.4,362.97 L477.9,362.94 L478.4,362.95 L478.9,363.12 L479.4,363.13 L479.9,362.97 L480.4,363.03 L480.9,363.16 L481.4,363.01 L481.9,362.77 L482.4,362.84 L482.9,362.88 L483.4,362.98 L483.9,362.87 L484.4,363.09 L484.9,362.87 L485.4,363.11 L485.9,362.84 L486.4,363.08 L486.9,362.94 L487.4,363.08 L487.9,363.14 L488.4,363.11 L488.9,363.03 L489.4,362.81 L489.9,362.80 L490.4,362.52 L490.9,363.06 L491.4,363.03 L491.9,363.00 L492.4,362.74 L492.9,363.20 L493.4,362.79 L493.9,362.97 L494.4,362.67 L494.9,362.78 L495.4,362.99 L495.9,362.97 L496.4,362.71 L496.9,362.82 L497.4,362.96 L497.9,362.60 L498.4,362.91 L498.9,362.63 L499.4,362.88 L499.9,362.77 L500.4,362.91 L500.9,362.72 L501.4,362.73 L501.9,362.73 L502.4,362.65 L502.9,362.72 L503.4,362.62 L503.9,362.67 L504.4,362.81 L504.9,362.68 L505.4,362.84 L505.9,362.79 L506.2,362.80" fill="none" stroke="#77ac30" stroke-width="0.8" stroke-linejoin="round" opacity="1.0"/>
<path d="M314.4,349.47 L314.9,349.52 L315.4,349.57 L315.9,349.39 L316.4,349.82 L316.9,349.61 L317.4,350.07 L317.9,350.13 L318.4,350.26 L318.9,350.36 L319.4,350.40 L319.9,350.40 L320.4,350.54 L320.9,350.87 L321.4,350.73 L321.9,350.89 L322.4,350.94 L322.9,351.09 L323.4,351.24 L323.9,351.43 L324.4,351.50 L324.9,351.62 L325.4,351.73 L325.9,351.95 L326.4,351.93 L326.9,352.24 L327.4,352.54 L327.9,352.44 L328.4,352.69 L328.9,353.19 L329.4,352.89 L329.9,352.98 L330.4,353.29 L330.9,353.72 L331.4,353.92 L331.9,353.70 L332.4,354.09 L332.9,354.19 L333.4,354.30 L333.9,354.31 L334.4,354.85 L334.9,354.80 L335.4,355.12 L335.9,355.28 L336.4,355.68 L336.9,355.78 L337.4,355.68 L337.9,355.97 L338.4,356.31 L338.9,356.22 L339.4,356.52 L339.9,356.78 L340.4,356.74 L340.9,356.97 L341.4,357.10 L341.9,357.53 L342.4,357.61 L342.9,357.97 L343.4,358.06 L343.9,358.30 L344.4,358.40 L344.9,358.68 L345.4,358.76 L345.9,358.83 L346.4,359.27 L346.9,359.42 L347.4,359.74 L347.9,359.63 L348.4,359.74 L348.9,359.81 L349.4,359.69 L349.9,360.15 L350.4,360.53 L350.9,360.53 L351.4,360.48 L351.9,361.02 L352.4,361.02 L352.9,361.20 L353.4,361.33 L353.9,361.51 L354.4,361.72 L354.9,361.59 L355.4,361.90 L355.9,361.99 L356.4,362.31 L356.9,362.17 L357.4,362.61 L357.9,362.60 L358.4,362.83 L358.9,362.66 L359.4,362.95 L359.9,363.00 L360.4,362.88 L360.9,363.13 L361.4,363.21 L361.9,363.25 L362.4,363.37 L362.9,363.39 L363.4,363.61 L363.9,363.80 L364.4,363.77 L364.9,363.78 L365.4,364.19 L365.9,364.13 L366.4,364.28 L366.9,364.36 L367.4,364.43 L367.9,364.68 L368.4,364.66 L368.9,364.85 L369.4,364.80 L369.9,364.90 L370.4,365.18 L370.9,365.59 L371.4,365.52 L371.9,365.87 L372.4,365.84 L372.9,365.99 L373.4,366.03 L373.9,366.26 L374.4,366.64 L374.9,366.75 L375.4,366.71 L375.9,366.92 L376.4,367.35 L376.9,367.35 L377.4,367.77 L377.9,367.81 L378.4,368.28 L378.9,368.68 L379.4,368.91 L379.9,369.17 L380.4,369.50 L380.9,369.82 L381.4,370.19 L381.9,370.71 L382.4,371.10 L382.9,371.40 L383.4,371.61 L383.9,372.11 L384.4,372.62 L384.9,373.02 L385.4,373.27 L385.9,373.95 L386.4,374.62 L386.9,374.60 L387.4,375.19 L387.9,375.82 L388.4,376.01 L388.9,376.45 L389.4,376.96 L389.9,377.44 L390.4,377.75 L390.9,378.34 L391.4,378.42 L391.9,379.14 L392.4,379.51 L392.9,379.85 L393.4,380.31 L393.9,380.69 L394.4,381.30 L394.9,381.57 L395.4,382.13 L395.9,382.49 L396.4,383.05 L396.9,383.69 L397.4,384.05 L397.9,384.66 L398.4,385.10 L398.9,385.68 L399.4,386.20 L399.9,386.71 L400.4,386.74 L400.9,387.27 L401.4,387.67 L401.9,387.94 L402.4,388.09 L402.9,387.82 L403.4,387.93 L403.9,388.01 L404.4,387.97 L404.9,387.76 L405.4,387.60 L405.9,387.40 L406.4,387.05 L406.9,386.90 L407.4,386.69 L407.9,386.24 L408.4,386.09 L408.9,385.25 L409.4,385.18 L409.9,385.04 L410.4,384.53 L410.9,384.19 L411.4,383.61 L411.9,383.03 L412.4,382.67 L412.9,382.48 L413.4,381.57 L413.9,381.04 L414.4,380.18 L414.9,379.45 L415.4,378.51 L415.9,377.59 L416.4,376.33 L416.9,375.49 L417.4,374.18 L417.9,372.86 L418.4,371.60 L418.9,370.35 L419.4,369.39 L419.9,368.50 L420.4,367.18 L420.9,366.09 L421.4,365.30 L421.9,364.45 L422.4,363.71 L422.9,363.04 L423.4,362.85 L423.9,362.78 L424.4,362.58 L424.9,362.40 L425.4,362.16 L425.9,362.05 L426.4,361.99 L426.9,361.75 L427.4,361.70 L427.9,361.55 L428.4,361.68 L428.9,361.40 L429.4,361.58 L429.9,361.61 L430.4,361.62 L430.9,361.62 L431.4,361.50 L431.9,361.51 L432.4,361.57 L432.9,361.61 L433.4,361.56 L433.9,361.69 L434.4,361.71 L434.9,361.73 L435.4,361.94 L435.9,361.87 L436.4,362.05 L436.9,362.26 L437.4,362.35 L437.9,362.22 L438.4,362.41 L438.9,362.39 L439.4,362.72 L439.9,362.70 L440.4,362.71 L440.9,362.63 L441.4,362.69 L441.9,362.85 L442.4,362.85 L442.9,362.90 L443.4,363.08 L443.9,362.91 L444.4,362.88 L444.9,363.06 L445.4,363.10 L445.9,363.29 L446.4,363.24 L446.9,363.37 L447.4,363.20 L447.9,363.66 L448.4,363.56 L448.9,363.44 L449.4,363.61 L449.9,363.74 L450.4,363.71 L450.9,363.62 L451.4,363.72 L451.9,363.76 L452.4,363.53 L452.9,363.51 L453.4,363.63 L453.9,363.83 L454.4,363.91 L454.9,363.76 L455.4,363.94 L455.9,363.89 L456.4,363.78 L456.9,363.71 L457.4,363.74 L457.9,363.84 L458.4,364.01 L458.9,363.96 L459.4,363.71 L459.9,363.73 L460.4,363.99 L460.9,363.93 L461.4,363.81 L461.9,364.02 L462.4,364.11 L462.9,364.05 L463.4,363.98 L463.9,364.14 L464.4,363.95 L464.9,363.94 L465.4,363.91 L465.9,364.26 L466.4,364.30 L466.9,364.05 L467.4,364.14 L467.9,364.13 L468.4,364.20 L468.9,364.24 L469.4,364.19 L469.9,364.11 L470.4,364.07 L470.9,364.02 L471.4,363.83 L471.9,364.15 L472.4,364.07 L472.9,364.18 L473.4,364.17 L473.9,364.07 L474.4,364.15 L474.9,364.26 L475.4,364.24 L475.9,364.13 L476.4,364.15 L476.9,364.32 L477.4,364.29 L477.9,364.30 L478.4,364.26 L478.9,364.37 L479.4,364.30 L479.9,364.60 L480.4,364.25 L480.9,364.23 L481.4,364.52 L481.9,364.32 L482.4,364.24 L482.9,364.39 L483.4,364.07 L483.9,364.41 L484.4,364.36 L484.9,364.40 L485.4,364.28 L485.9,364.54 L486.4,364.42 L486.9,364.39 L487.4,364.44 L487.9,364.30 L488.4,364.39 L488.9,364.23 L489.4,364.28 L489.9,364.46 L490.4,364.44 L490.9,364.52 L491.4,364.36 L491.9,364.43 L492.4,364.36 L492.9,364.48 L493.4,364.55 L493.9,364.58 L494.4,364.53 L494.9,364.37 L495.4,364.49 L495.9,364.34 L496.4,364.24 L496.9,364.49 L497.4,364.49 L497.9,364.57 L498.4,364.58 L498.9,364.34 L499.4,364.38 L499.9,364.49 L500.4,364.50 L500.9,364.54 L501.4,364.33 L501.9,364.46 L502.4,364.57 L502.9,364.72 L503.4,364.35 L503.9,364.69 L504.4,364.46 L504.9,364.32 L505.4,364.66 L505.9,364.37 L506.2,364.36" fill="none" stroke="#4dbeee" stroke-width="0.8" stroke-linejoin="round" opacity="1.0"/>
<path d="M314.4,355.06 L314.9,354.55 L315.4,353.97 L315.9,353.71 L316.4,353.33 L316.9,353.00 L317.4,352.79 L317.9,352.29 L318.4,352.33 L318.9,351.89 L319.4,351.86 L319.9,351.85 L320.4,351.69 L320.9,351.39 L321.4,351.56 L321.9,351.27 L322.4,351.00 L322.9,351.01 L323.4,350.81 L323.9,350.87 L324.4,350.58 L324.9,350.73 L325.4,350.40 L325.9,350.70 L326.4,350.57 L326.9,350.67 L327.4,350.42 L327.9,350.25 L328.4,350.36 L328.9,350.54 L329.4,350.86 L329.9,350.76 L330.4,350.94 L330.9,350.77 L331.4,350.93 L331.9,351.09 L332.4,351.41 L332.9,351.36 L333.4,351.56 L333.9,351.97 L334.4,351.87 L334.9,352.18 L335.4,352.24 L335.9,352.60 L336.4,352.97 L336.9,353.26 L337.4,353.21 L337.9,353.34 L338.4,353.99 L338.9,354.41 L339.4,354.42 L339.9,354.84 L340.4,355.12 L340.9,355.17 L341.4,355.44 L341.9,356.08 L342.4,356.48 L342.9,356.58 L343.4,357.07 L343.9,357.36 L344.4,357.69 L344.9,358.01 L345.4,358.67 L345.9,358.89 L346.4,359.23 L346.9,359.57 L347.4,360.04 L347.9,360.30 L348.4,360.75 L348.9,361.02 L349.4,361.52 L349.9,361.81 L350.4,362.29 L350.9,362.40 L351.4,362.86 L351.9,363.18 L352.4,363.88 L352.9,363.98 L353.4,364.40 L353.9,364.56 L354.4,365.01 L354.9,365.30 L355.4,365.88 L355.9,366.18 L356.4,366.89 L356.9,367.03 L357.4,367.69 L357.9,368.00 L358.4,368.53 L358.9,368.83 L359.4,369.41 L359.9,369.88 L360.4,370.29 L360.9,370.96 L361.4,371.22 L361.9,371.89 L362.4,372.40 L362.9,372.96 L363.4,373.34 L363.9,374.09 L364.4,374.44 L364.9,375.01 L365.4,375.51 L365.9,376.13 L366.4,376.77 L366.9,377.62 L367.4,377.50 L367.9,378.48 L368.4,379.02 L368.9,379.64 L369.4,380.04 L369.9,380.61 L370.4,381.32 L370.9,381.66 L371.4,382.20 L371.9,382.71 L372.4,383.30 L372.9,383.98 L373.4,384.18 L373.9,384.94 L374.4,385.03 L374.9,385.86 L375.4,386.25 L375.9,386.94 L376.4,387.39 L376.9,387.90 L377.4,388.41 L377.9,388.92 L378.4,389.20 L378.9,390.05 L379.4,390.43 L379.9,391.31 L380.4,391.70 L380.9,392.39 L381.4,392.94 L381.9,393.63 L382.4,394.26 L382.9,394.93 L383.4,395.34 L383.9,396.30 L384.4,396.61 L384.9,397.34 L385.4,397.65 L385.9,398.63 L386.4,399.32 L386.9,399.95 L387.4,400.46 L387.9,401.04 L388.4,401.47 L388.9,402.07 L389.4,402.64 L389.9,403.22 L390.4,403.59 L390.9,404.18 L391.4,404.77 L391.9,405.20 L392.4,405.61 L392.9,405.96 L393.4,406.50 L393.9,406.86 L394.4,407.38 L394.9,407.53 L395.4,407.96 L395.9,407.96 L396.4,408.58 L396.9,408.42 L397.4,408.76 L397.9,408.88 L398.4,408.97 L398.9,409.08 L399.4,409.11 L399.9,409.19 L400.4,409.16 L400.9,409.14 L401.4,408.96 L401.9,408.77 L402.4,408.31 L402.9,407.79 L403.4,407.74 L403.9,407.06 L404.4,406.17 L404.9,406.01 L405.4,405.30 L405.9,404.60 L406.4,403.95 L406.9,403.34 L407.4,402.53 L407.9,401.92 L408.4,401.12 L408.9,400.36 L409.4,399.66 L409.9,398.87 L410.4,398.24 L410.9,397.32 L411.4,396.21 L411.9,395.23 L412.4,394.19 L412.9,392.83 L413.4,391.05 L413.9,389.66 L414.4,387.88 L414.9,386.19 L415.4,384.29 L415.9,382.51 L416.4,380.88 L416.9,379.17 L417.4,377.45 L417.9,375.58 L418.4,374.00 L418.9,372.46 L419.4,370.94 L419.9,369.25 L420.4,368.21 L420.9,367.24 L421.4,366.34 L421.9,365.37 L422.4,364.84 L422.9,363.60 L423.4,363.35 L423.9,362.37 L424.4,361.74 L424.9,360.95 L425.4,360.27 L425.9,359.78 L426.4,359.29 L426.9,358.67 L427.4,358.50 L427.9,358.03 L428.4,357.86 L428.9,357.63 L429.4,357.60 L429.9,357.68 L430.4,357.54 L430.9,357.80 L431.4,357.60 L431.9,357.84 L432.4,357.70 L432.9,357.86 L433.4,357.85 L433.9,358.15 L434.4,358.27 L434.9,358.08 L435.4,358.27 L435.9,358.32 L436.4,358.46 L436.9,358.58 L437.4,358.77 L437.9,358.65 L438.4,358.51 L438.9,358.91 L439.4,358.87 L439.9,358.99 L440.4,359.25 L440.9,359.39 L441.4,359.31 L441.9,359.54 L442.4,359.53 L442.9,359.67 L443.4,359.64 L443.9,359.90 L444.4,359.75 L444.9,359.91 L445.4,360.08 L445.9,359.92 L446.4,360.15 L446.9,360.22 L447.4,360.31 L447.9,360.47 L448.4,360.05 L448.9,360.45 L449.4,360.41 L449.9,360.52 L450.4,360.48 L450.9,360.33 L451.4,360.35 L451.9,360.31 L452.4,360.59 L452.9,360.37 L453.4,360.50 L453.9,360.44 L454.4,360.23 L454.9,360.45 L455.4,360.48 L455.9,360.68 L456.4,360.49 L456.9,360.39 L457.4,360.47 L457.9,360.65 L458.4,360.63 L458.9,360.63 L459.4,360.66 L459.9,360.49 L460.4,360.71 L460.9,360.65 L461.4,360.36 L461.9,360.55 L462.4,360.79 L462.9,360.57 L463.4,360.60 L463.9,360.66 L464.4,360.68 L464.9,360.67 L465.4,360.75 L465.9,360.60 L466.4,360.52 L466.9,360.70 L467.4,360.71 L467.9,360.84 L468.4,360.98 L468.9,360.80 L469.4,360.85 L469.9,360.96 L470.4,360.86 L470.9,360.85 L471.4,360.67 L471.9,360.74 L472.4,360.70 L472.9,360.75 L473.4,360.93 L473.9,360.89 L474.4,360.82 L474.9,360.56 L475.4,360.90 L475.9,360.90 L476.4,360.70 L476.9,360.85 L477.4,360.81 L477.9,360.93 L478.4,360.61 L478.9,360.71 L479.4,361.02 L479.9,360.74 L480.4,360.78 L480.9,360.82 L481.4,360.91 L481.9,361.05 L482.4,360.88 L482.9,361.01 L483.4,360.95 L483.9,360.84 L484.4,361.11 L484.9,361.04 L485.4,360.88 L485.9,360.90 L486.4,360.80 L486.9,360.72 L487.4,360.92 L487.9,361.07 L488.4,360.59 L488.9,360.87 L489.4,361.20 L489.9,361.15 L490.4,360.85 L490.9,360.88 L491.4,361.13 L491.9,360.84 L492.4,360.97 L492.9,360.87 L493.4,361.03 L493.9,361.01 L494.4,361.20 L494.9,360.86 L495.4,360.79 L495.9,360.95 L496.4,361.02 L496.9,360.95 L497.4,361.30 L497.9,360.93 L498.4,360.97 L498.9,361.11 L499.4,361.21 L499.9,361.02 L500.4,361.08 L500.9,360.85 L501.4,360.88 L501.9,361.04 L502.4,361.10 L502.9,361.07 L503.4,361.07 L503.9,361.11 L504.4,361.00 L504.9,360.97 L505.4,360.98 L505.9,360.85 L506.2,360.93" fill="none" stroke="#7e2f8e" stroke-width="0.8" stroke-linejoin="round" opacity="1.0"/>
<path d="M314.4,349.44 L314.9,349.03 L315.4,348.62 L315.9,348.08 L316.4,348.04 L316.9,347.85 L317.4,347.57 L317.9,347.12 L318.4,347.20 L318.9,346.93 L319.4,346.44 L319.9,346.25 L320.4,346.19 L320.9,345.87 L321.4,345.77 L321.9,345.75 L322.4,345.62 L322.9,345.30 L323.4,345.21 L323.9,345.12 L324.4,345.12 L324.9,345.08 L325.4,344.98 L325.9,345.10 L326.4,345.01 L326.9,345.02 L327.4,344.82 L327.9,344.95 L328.4,345.12 L328.9,345.36 L329.4,345.35 L329.9,345.80 L330.4,345.81 L330.9,346.01 L331.4,346.21 L331.9,346.49 L332.4,346.79 L332.9,346.87 L333.4,347.41 L333.9,347.41 L334.4,347.87 L334.9,348.10 L335.4,348.43 L335.9,348.86 L336.4,349.15 L336.9,349.67 L337.4,349.77 L337.9,350.25 L338.4,350.63 L338.9,351.18 L339.4,351.49 L339.9,351.75 L340.4,352.24 L340.9,352.51 L341.4,352.69 L341.9,353.19 L342.4,353.66 L342.9,353.81 L343.4,354.42 L343.9,354.67 L344.4,354.95 L344.9,355.49 L345.4,355.68 L345.9,356.22 L346.4,356.63 L346.9,357.29 L347.4,357.58 L347.9,358.01 L348.4,358.74 L348.9,359.15 L349.4,359.65 L349.9,360.20 L350.4,360.94 L350.9,361.38 L351.4,361.83 L351.9,362.83 L352.4,363.13 L352.9,363.88 L353.4,364.37 L353.9,365.00 L354.4,365.33 L354.9,365.97 L355.4,366.73 L355.9,367.26 L356.4,367.90 L356.9,368.64 L357.4,368.86 L357.9,369.72 L358.4,370.58 L358.9,370.97 L359.4,371.66 L359.9,372.34 L360.4,372.96 L360.9,373.60 L361.4,374.08 L361.9,374.86 L362.4,375.38 L362.9,376.27 L363.4,376.65 L363.9,377.42 L364.4,378.05 L364.9,378.91 L365.4,379.50 L365.9,380.29 L366.4,380.88 L366.9,381.65 L367.4,382.34 L367.9,383.20 L368.4,383.96 L368.9,384.64 L369.4,385.41 L369.9,386.37 L370.4,387.13 L370.9,387.86 L371.4,388.63 L371.9,389.41 L372.4,390.35 L372.9,391.07 L373.4,391.85 L373.9,392.64 L374.4,393.43 L374.9,394.23 L375.4,395.04 L375.9,395.57 L376.4,396.50 L376.9,397.12 L377.4,397.95 L377.9,398.85 L378.4,399.17 L378.9,399.92 L379.4,400.68 L379.9,401.11 L380.4,402.30 L380.9,402.54 L381.4,403.40 L381.9,403.76 L382.4,404.45 L382.9,404.95 L383.4,405.36 L383.9,406.02 L384.4,406.46 L384.9,407.06 L385.4,407.87 L385.9,408.17 L386.4,408.75 L386.9,409.74 L387.4,409.96 L387.9,410.61 L388.4,411.33 L388.9,411.62 L389.4,412.15 L389.9,412.95 L390.4,413.23 L390.9,413.75 L391.4,414.14 L391.9,414.68 L392.4,414.84 L392.9,415.44 L393.4,415.89 L393.9,416.21 L394.4,416.32 L394.9,416.71 L395.4,417.11 L395.9,417.04 L396.4,417.24 L396.9,417.21 L397.4,417.09 L397.9,417.37 L398.4,417.08 L398.9,416.94 L399.4,416.79 L399.9,416.47 L400.4,416.08 L400.9,415.79 L401.4,415.18 L401.9,414.62 L402.4,413.88 L402.9,413.48 L403.4,412.53 L403.9,411.68 L404.4,411.10 L404.9,410.49 L405.4,409.63 L405.9,408.91 L406.4,407.95 L406.9,407.07 L407.4,406.19 L407.9,405.19 L408.4,404.32 L408.9,403.37 L409.4,402.30 L409.9,400.83 L410.4,399.40 L410.9,397.85 L411.4,396.05 L411.9,394.17 L412.4,392.23 L412.9,390.10 L413.4,388.03 L413.9,386.02 L414.4,384.15 L414.9,382.05 L415.4,379.95 L415.9,378.01 L416.4,376.11 L416.9,373.90 L417.4,372.41 L417.9,370.98 L418.4,369.66 L418.9,368.20 L419.4,367.30 L419.9,366.28 L420.4,365.21 L420.9,364.11 L421.4,363.18 L421.9,362.36 L422.4,361.49 L422.9,360.59 L423.4,359.84 L423.9,359.05 L424.4,358.25 L424.9,357.63 L425.4,357.02 L425.9,356.24 L426.4,355.87 L426.9,355.73 L427.4,355.54 L427.9,355.33 L428.4,355.27 L428.9,355.33 L429.4,355.38 L429.9,355.37 L430.4,355.14 L430.9,355.45 L431.4,355.54 L431.9,355.52 L432.4,355.82 L432.9,355.45 L433.4,355.46 L433.9,356.15 L434.4,355.70 L434.9,355.60 L435.4,355.91 L435.9,356.16 L436.4,356.06 L436.9,356.18 L437.4,356.42 L437.9,356.65 L438.4,356.60 L438.9,356.64 L439.4,356.65 L439.9,356.89 L440.4,357.23 L440.9,356.85 L441.4,356.95 L441.9,357.13 L442.4,357.35 L442.9,357.43 L443.4,357.41 L443.9,357.47 L444.4,357.77 L444.9,357.74 L445.4,357.91 L445.9,357.80 L446.4,358.03 L446.9,357.85 L447.4,358.25 L447.9,358.01 L448.4,358.06 L448.9,358.19 L449.4,358.15 L449.9,358.12 L450.4,358.27 L450.9,358.15 L451.4,358.48 L451.9,358.18 L452.4,358.38 L452.9,358.21 L453.4,358.10 L453.9,358.05 L454.4,358.35 L454.9,358.19 L455.4,358.40 L455.9,358.30 L456.4,358.40 L456.9,358.42 L457.4,358.66 L457.9,358.43 L458.4,358.30 L458.9,358.21 L459.4,358.61 L459.9,358.53 L460.4,358.70 L460.9,358.35 L461.4,358.54 L461.9,358.47 L462.4,358.65 L462.9,358.56 L463.4,358.78 L463.9,358.58 L464.4,358.62 L464.9,358.58 L465.4,358.73 L465.9,358.81 L466.4,358.76 L466.9,358.63 L467.4,358.59 L467.9,358.62 L468.4,358.77 L468.9,358.70 L469.4,358.75 L469.9,358.91 L470.4,358.85 L470.9,358.83 L471.4,358.75 L471.9,358.80 L472.4,358.80 L472.9,358.85 L473.4,358.83 L473.9,358.89 L474.4,358.80 L474.9,359.04 L475.4,358.94 L475.9,358.94 L476.4,359.02 L476.9,358.80 L477.4,358.79 L477.9,358.76 L478.4,358.86 L478.9,359.03 L479.4,358.99 L479.9,359.17 L480.4,358.82 L480.9,359.05 L481.4,358.85 L481.9,358.86 L482.4,358.87 L482.9,359.17 L483.4,359.04 L483.9,359.19 L484.4,359.06 L484.9,359.14 L485.4,359.14 L485.9,359.13 L486.4,359.09 L486.9,359.20 L487.4,359.11 L487.9,359.10 L488.4,359.10 L488.9,359.03 L489.4,358.93 L489.9,359.02 L490.4,359.33 L490.9,359.14 L491.4,359.01 L491.9,359.10 L492.4,359.26 L492.9,359.37 L493.4,358.92 L493.9,358.96 L494.4,358.90 L494.9,359.09 L495.4,359.05 L495.9,359.30 L496.4,359.25 L496.9,359.10 L497.4,359.45 L497.9,359.10 L498.4,359.22 L498.9,359.27 L499.4,359.06 L499.9,359.20 L500.4,359.22 L500.9,359.17 L501.4,359.28 L501.9,359.17 L502.4,359.12 L502.9,359.30 L503.4,359.14 L503.9,359.25 L504.4,359.14 L504.9,359.27 L505.4,359.22 L505.9,359.06 L506.2,359.25" fill="none" stroke="#edb120" stroke-width="0.8" stroke-linejoin="round" opacity="1.0"/>
<path d="M314.4,354.67 L314.9,354.06 L315.4,354.12 L315.9,353.74 L316.4,353.32 L316.9,352.73 L317.4,352.43 L317.9,352.09 L318.4,352.00 L318.9,351.67 L319.4,351.34 L319.9,351.21 L320.4,351.11 L320.9,350.84 L321.4,350.55 L321.9,350.58 L322.4,350.48 L322.9,350.31 L323.4,350.26 L323.9,350.57 L324.4,350.51 L324.9,350.81 L325.4,350.82 L325.9,351.21 L326.4,351.44 L326.9,351.64 L327.4,351.73 L327.9,351.93 L328.4,352.77 L328.9,352.85 L329.4,353.48 L329.9,353.59 L330.4,353.89 L330.9,354.45 L331.4,354.73 L331.9,355.32 L332.4,355.96 L332.9,356.33 L333.4,357.05 L333.9,357.18 L334.4,357.64 L334.9,357.94 L335.4,358.39 L335.9,358.98 L336.4,359.28 L336.9,359.80 L337.4,360.29 L337.9,360.69 L338.4,361.63 L338.9,361.67 L339.4,362.49 L339.9,363.18 L340.4,363.80 L340.9,364.23 L341.4,364.79 L341.9,365.86 L342.4,366.48 L342.9,366.91 L343.4,367.56 L343.9,368.25 L344.4,368.79 L344.9,369.61 L345.4,370.44 L345.9,371.08 L346.4,371.57 L346.9,372.46 L347.4,372.95 L347.9,373.52 L348.4,374.44 L348.9,375.13 L349.4,375.88 L349.9,376.25 L350.4,377.15 L350.9,377.76 L351.4,378.41 L351.9,379.02 L352.4,379.74 L352.9,380.54 L353.4,381.22 L353.9,381.75 L354.4,382.54 L354.9,383.31 L355.4,384.15 L355.9,384.80 L356.4,385.44 L356.9,386.11 L357.4,387.02 L357.9,387.45 L358.4,388.08 L358.9,388.78 L359.4,389.53 L359.9,390.11 L360.4,390.66 L360.9,391.27 L361.4,391.97 L361.9,392.52 L362.4,393.03 L362.9,393.39 L363.4,394.02 L363.9,394.67 L364.4,394.93 L364.9,395.72 L365.4,396.02 L365.9,396.59 L366.4,396.82 L366.9,397.58 L367.4,397.87 L367.9,398.37 L368.4,398.85 L368.9,399.39 L369.4,399.60 L369.9,400.12 L370.4,400.48 L370.9,400.67 L371.4,401.10 L371.9,401.46 L372.4,401.98 L372.9,402.39 L373.4,402.78 L373.9,403.18 L374.4,403.43 L374.9,403.56 L375.4,404.24 L375.9,404.35 L376.4,404.56 L376.9,404.75 L377.4,405.33 L377.9,405.39 L378.4,406.04 L378.9,406.25 L379.4,406.32 L379.9,406.79 L380.4,407.38 L380.9,407.23 L381.4,407.69 L381.9,407.78 L382.4,408.33 L382.9,408.80 L383.4,408.82 L383.9,409.05 L384.4,409.24 L384.9,409.45 L385.4,409.63 L385.9,409.91 L386.4,410.10 L386.9,409.80 L387.4,409.86 L387.9,410.37 L388.4,410.41 L388.9,410.12 L389.4,410.23 L389.9,410.26 L390.4,410.22 L390.9,410.04 L391.4,409.92 L391.9,409.68 L392.4,409.61 L392.9,409.29 L393.4,409.02 L393.9,408.74 L394.4,408.40 L394.9,408.26 L395.4,407.88 L395.9,407.52 L396.4,407.08 L396.9,406.82 L397.4,406.36 L397.9,405.77 L398.4,405.17 L398.9,404.96 L399.4,404.55 L399.9,404.34 L400.4,403.77 L400.9,403.21 L401.4,402.90 L401.9,402.03 L402.4,401.56 L402.9,400.93 L403.4,399.98 L403.9,398.98 L404.4,397.97 L404.9,396.70 L405.4,395.56 L405.9,393.79 L406.4,392.62 L406.9,391.24 L407.4,389.37 L407.9,387.70 L408.4,386.16 L408.9,384.41 L409.4,382.74 L409.9,380.88 L410.4,379.24 L410.9,377.56 L411.4,375.49 L411.9,374.08 L412.4,372.51 L412.9,370.71 L413.4,369.17 L413.9,367.97 L414.4,366.40 L414.9,365.22 L415.4,364.06 L415.9,362.78 L416.4,361.17 L416.9,360.02 L417.4,358.52 L417.9,356.94 L418.4,355.82 L418.9,354.47 L419.4,352.93 L419.9,351.69 L420.4,350.34 L420.9,349.05 L421.4,347.60 L421.9,346.76 L422.4,345.48 L422.9,344.51 L423.4,343.77 L423.9,343.29 L424.4,342.63 L424.9,342.28 L425.4,341.79 L425.9,341.77 L426.4,341.66 L426.9,341.67 L427.4,341.86 L427.9,341.87 L428.4,341.76 L428.9,342.17 L429.4,342.18 L429.9,342.64 L430.4,342.59 L430.9,342.81 L431.4,342.81 L431.9,343.34 L432.4,343.52 L432.9,343.57 L433.4,343.90 L433.9,344.05 L434.4,344.70 L434.9,344.60 L435.4,345.16 L435.9,345.19 L436.4,345.89 L436.9,346.08 L437.4,346.28 L437.9,346.44 L438.4,346.67 L438.9,347.09 L439.4,347.33 L439.9,347.42 L440.4,347.95 L440.9,348.11 L441.4,348.25 L441.9,348.53 L442.4,348.87 L442.9,349.17 L443.4,349.40 L443.9,349.72 L444.4,349.80 L444.9,350.55 L445.4,350.63 L445.9,350.81 L446.4,351.31 L446.9,351.33 L447.4,351.75 L447.9,351.67 L448.4,352.18 L448.9,352.29 L449.4,352.54 L449.9,352.80 L450.4,352.90 L450.9,352.77 L451.4,353.07 L451.9,353.18 L452.4,353.17 L452.9,352.98 L453.4,353.11 L453.9,353.37 L454.4,353.13 L454.9,353.50 L455.4,353.46 L455.9,353.80 L456.4,353.58 L456.9,353.73 L457.4,353.66 L457.9,353.62 L458.4,353.85 L458.9,353.80 L459.4,354.06 L459.9,354.12 L460.4,354.11 L460.9,354.11 L461.4,354.20 L461.9,354.18 L462.4,354.29 L462.9,354.39 L463.4,354.47 L463.9,354.43 L464.4,354.54 L464.9,354.45 L465.4,354.65 L465.9,354.91 L466.4,354.76 L466.9,354.76 L467.4,354.78 L467.9,354.72 L468.4,354.95 L468.9,355.04 L469.4,355.04 L469.9,354.99 L470.4,355.11 L470.9,355.10 L471.4,355.33 L471.9,355.18 L472.4,355.38 L472.9,355.24 L473.4,355.25 L473.9,355.39 L474.4,355.44 L474.9,355.41 L475.4,355.62 L475.9,355.37 L476.4,355.56 L476.9,355.62 L477.4,355.56 L477.9,355.72 L478.4,355.55 L478.9,355.57 L479.4,355.81 L479.9,355.83 L480.4,355.98 L480.9,355.92 L481.4,355.92 L481.9,355.96 L482.4,356.02 L482.9,355.83 L483.4,356.08 L483.9,356.02 L484.4,356.13 L484.9,355.92 L485.4,356.23 L485.9,356.30 L486.4,356.21 L486.9,356.46 L487.4,356.03 L487.9,356.16 L488.4,356.24 L488.9,356.34 L489.4,356.30 L489.9,356.35 L490.4,356.40 L490.9,356.28 L491.4,356.51 L491.9,356.53 L492.4,356.33 L492.9,356.31 L493.4,356.36 L493.9,356.32 L494.4,356.47 L494.9,356.45 L495.4,356.54 L495.9,356.34 L496.4,356.49 L496.9,356.51 L497.4,356.56 L497.9,356.57 L498.4,356.58 L498.9,356.55 L499.4,356.41 L499.9,356.53 L500.4,356.77 L500.9,356.68 L501.4,356.66 L501.9,356.39 L502.4,356.65 L502.9,356.69 L503.4,356.58 L503.9,356.41 L504.4,356.75 L504.9,356.51 L505.4,356.62 L505.9,356.69 L506.2,356.71" fill="none" stroke="#d95319" stroke-width="0.8" stroke-linejoin="round" opacity="1.0"/>
</g>
<rect x="449.40" y="316.30" width="52.10" height="63.00" fill="#fff" stroke="#a8a8a8" stroke-width="0.9"/>
<line x1="451.40" y1="322.00" x2="468.90" y2="322.00" stroke="#0072bd" stroke-width="0.9" opacity="0.8"/>
<text x="472.60" y="324.90" font-size="8.3" text-anchor="start" font-weight="bold" fill="#111" >0.2 ps</text>
<line x1="451.40" y1="332.20" x2="468.90" y2="332.20" stroke="#d95319" stroke-width="0.9" opacity="0.8"/>
<text x="472.60" y="335.10" font-size="8.3" text-anchor="start" font-weight="bold" fill="#111" >1 ps</text>
<line x1="451.40" y1="342.40" x2="468.90" y2="342.40" stroke="#edb120" stroke-width="0.9" opacity="0.8"/>
<text x="472.60" y="345.30" font-size="8.3" text-anchor="start" font-weight="bold" fill="#111" >5 ps</text>
<line x1="451.40" y1="352.60" x2="468.90" y2="352.60" stroke="#7e2f8e" stroke-width="0.9" opacity="0.8"/>
<text x="472.60" y="355.50" font-size="8.3" text-anchor="start" font-weight="bold" fill="#111" >10 ps</text>
<line x1="451.40" y1="362.80" x2="468.90" y2="362.80" stroke="#77ac30" stroke-width="0.9" opacity="0.8"/>
<text x="472.60" y="365.70" font-size="8.3" text-anchor="start" font-weight="bold" fill="#111" >40 ps</text>
<line x1="451.40" y1="373.00" x2="468.90" y2="373.00" stroke="#4dbeee" stroke-width="0.9" opacity="0.8"/>
<text x="472.60" y="375.90" font-size="8.3" text-anchor="start" font-weight="bold" fill="#111" >100 ps</text>
<text x="363.40" y="330.90" font-size="13" fill="#858585" text-anchor="middle"><<tspan font-style="italic">n</tspan>> = 3</text>
<text x="418.50" y="437.50" font-size="13" fill="#858585" text-anchor="middle">Mixture <tspan font-style="italic">n</tspan></text>
<rect x="49.50" y="504.70" width="191.80" height="131.10" fill="none" stroke="#b4b4b4" stroke-width="1.0"/>
<line x1="49.50" y1="635.80" x2="49.50" y2="633.60" stroke="#b4b4b4" stroke-width="0.9"/>
<line x1="49.50" y1="504.70" x2="49.50" y2="506.90" stroke="#b4b4b4" stroke-width="0.9"/>
<line x1="97.45" y1="635.80" x2="97.45" y2="633.60" stroke="#b4b4b4" stroke-width="0.9"/>
<line x1="97.45" y1="504.70" x2="97.45" y2="506.90" stroke="#b4b4b4" stroke-width="0.9"/>
<line x1="145.40" y1="635.80" x2="145.40" y2="633.60" stroke="#b4b4b4" stroke-width="0.9"/>
<line x1="145.40" y1="504.70" x2="145.40" y2="506.90" stroke="#b4b4b4" stroke-width="0.9"/>
<line x1="193.35" y1="635.80" x2="193.35" y2="633.60" stroke="#b4b4b4" stroke-width="0.9"/>
<line x1="193.35" y1="504.70" x2="193.35" y2="506.90" stroke="#b4b4b4" stroke-width="0.9"/>
<line x1="241.30" y1="635.80" x2="241.30" y2="633.60" stroke="#b4b4b4" stroke-width="0.9"/>
<line x1="241.30" y1="504.70" x2="241.30" y2="506.90" stroke="#b4b4b4" stroke-width="0.9"/>
<line x1="49.50" y1="504.40" x2="51.70" y2="504.40" stroke="#b4b4b4" stroke-width="0.9"/>
<line x1="241.30" y1="504.40" x2="239.10" y2="504.40" stroke="#b4b4b4" stroke-width="0.9"/>
<line x1="49.50" y1="524.70" x2="51.70" y2="524.70" stroke="#b4b4b4" stroke-width="0.9"/>
<line x1="241.30" y1="524.70" x2="239.10" y2="524.70" stroke="#b4b4b4" stroke-width="0.9"/>
<line x1="49.50" y1="545.00" x2="51.70" y2="545.00" stroke="#b4b4b4" stroke-width="0.9"/>
<line x1="241.30" y1="545.00" x2="239.10" y2="545.00" stroke="#b4b4b4" stroke-width="0.9"/>
<line x1="49.50" y1="565.30" x2="51.70" y2="565.30" stroke="#b4b4b4" stroke-width="0.9"/>
<line x1="241.30" y1="565.30" x2="239.10" y2="565.30" stroke="#b4b4b4" stroke-width="0.9"/>
<line x1="49.50" y1="585.60" x2="51.70" y2="585.60" stroke="#b4b4b4" stroke-width="0.9"/>
<line x1="241.30" y1="585.60" x2="239.10" y2="585.60" stroke="#b4b4b4" stroke-width="0.9"/>
<line x1="49.50" y1="605.90" x2="51.70" y2="605.90" stroke="#b4b4b4" stroke-width="0.9"/>
<line x1="241.30" y1="605.90" x2="239.10" y2="605.90" stroke="#b4b4b4" stroke-width="0.9"/>
<line x1="49.50" y1="626.20" x2="51.70" y2="626.20" stroke="#b4b4b4" stroke-width="0.9"/>
<line x1="241.30" y1="626.20" x2="239.10" y2="626.20" stroke="#b4b4b4" stroke-width="0.9"/>
<text x="49.50" y="647.30" font-size="9.5" text-anchor="middle" font-weight="bold" fill="#111" >400</text>
<text x="97.45" y="647.30" font-size="9.5" text-anchor="middle" font-weight="bold" fill="#111" >450</text>
<text x="145.40" y="647.30" font-size="9.5" text-anchor="middle" font-weight="bold" fill="#111" >500</text>
<text x="193.35" y="647.30" font-size="9.5" text-anchor="middle" font-weight="bold" fill="#111" >550</text>
<text x="241.30" y="647.30" font-size="9.5" text-anchor="middle" font-weight="bold" fill="#111" >600</text>
<text x="45.00" y="507.80" font-size="9.5" text-anchor="end" font-weight="bold" fill="#111" >0.02</text>
<text x="45.00" y="528.10" font-size="9.5" text-anchor="end" font-weight="bold" fill="#111" >0.01</text>
<text x="45.00" y="548.40" font-size="9.5" text-anchor="end" font-weight="bold" fill="#111" >0</text>
<text x="45.00" y="568.70" font-size="9.5" text-anchor="end" font-weight="bold" fill="#111" >−0.01</text>
<text x="45.00" y="589.00" font-size="9.5" text-anchor="end" font-weight="bold" fill="#111" >−0.02</text>
<text x="45.00" y="609.30" font-size="9.5" text-anchor="end" font-weight="bold" fill="#111" >−0.03</text>
<text x="45.00" y="629.60" font-size="9.5" text-anchor="end" font-weight="bold" fill="#111" >−0.04</text>
<text x="145.40" y="663.40" font-size="11.3" text-anchor="middle" font-weight="bold" fill="#111" >Wavelength (nm)</text>
<text transform="translate(12.30,572.55) rotate(-90)" font-size="14.5" text-anchor="middle" fill="#111">ΔOD</text>
<clipPath id="ce1"><rect x="49.5" y="504.7" width="191.8" height="131.09999999999997"/></clipPath>
<g clip-path="url(#ce1)">
<path d="M49.5,544.04 L50.0,543.56 L50.5,543.06 L51.0,542.33 L51.5,542.13 L52.0,541.63 L52.5,541.32 L53.0,540.89 L53.5,540.71 L54.0,540.11 L54.5,540.27 L55.0,539.96 L55.5,539.50 L56.0,539.52 L56.5,539.35 L57.0,538.90 L57.5,539.16 L58.0,538.91 L58.5,538.91 L59.0,538.83 L59.5,538.84 L60.0,538.93 L60.5,539.01 L61.0,538.92 L61.5,539.33 L62.0,539.43 L62.5,539.75 L63.0,540.22 L63.5,540.76 L64.0,541.09 L64.5,541.37 L65.0,541.99 L65.5,542.74 L66.0,543.77 L66.5,544.87 L67.0,545.78 L67.5,546.96 L68.0,548.00 L68.5,549.27 L69.0,549.80 L69.5,550.77 L70.0,551.97 L70.5,553.01 L71.0,553.86 L71.5,555.05 L72.0,555.89 L72.5,556.93 L73.0,558.01 L73.5,559.15 L74.0,559.89 L74.5,560.27 L75.0,560.79 L75.5,560.80 L76.0,560.74 L76.5,560.10 L77.0,559.55 L77.5,558.54 L78.0,557.59 L78.5,556.36 L79.0,555.15 L79.5,554.12 L80.0,552.95 L80.5,551.77 L81.0,550.18 L81.5,548.63 L82.0,546.63 L82.5,545.10 L83.0,543.53 L83.5,541.85 L84.0,541.04 L84.5,540.39 L85.0,539.97 L85.5,539.81 L86.0,540.03 L86.5,540.61 L87.0,541.36 L87.5,541.68 L88.0,542.25 L88.5,542.63 L89.0,543.07 L89.5,543.69 L90.0,543.83 L90.5,544.29 L91.0,544.73 L91.5,545.00 L92.0,545.42 L92.5,545.62 L93.0,546.12 L93.5,546.43 L94.0,546.45 L94.5,546.87 L95.0,547.23 L95.5,547.74 L96.0,547.97 L96.5,548.24 L97.0,548.47 L97.5,548.76 L98.0,549.01 L98.5,548.95 L99.0,548.94 L99.5,549.39 L100.0,549.33 L100.5,549.40 L101.0,549.36 L101.5,549.15 L102.0,548.97 L102.5,549.17 L103.0,548.98 L103.5,548.72 L104.0,548.36 L104.5,548.10 L105.0,547.72 L105.5,547.52 L106.0,547.19 L106.5,546.93 L107.0,546.83 L107.5,546.88 L108.0,546.22 L108.5,546.49 L109.0,546.40 L109.5,546.01 L110.0,546.14 L110.5,546.01 L111.0,545.83 L111.5,545.74 L112.0,545.52 L112.5,545.90 L113.0,545.92 L113.5,545.74 L114.0,545.39 L114.5,545.42 L115.0,545.38 L115.5,545.16 L116.0,545.21 L116.5,545.30 L117.0,545.14 L117.5,544.94 L118.0,545.01 L118.5,545.23 L119.0,545.14 L119.5,545.15 L120.0,545.39 L120.5,545.20 L121.0,545.08 L121.5,545.17 L122.0,545.50 L122.5,545.01 L123.0,545.44 L123.5,545.39 L124.0,545.15 L124.5,545.12 L125.0,545.38 L125.5,545.20 L126.0,545.09 L126.5,545.44 L127.0,545.19 L127.5,545.21 L128.0,545.16 L128.5,545.11 L129.0,545.17 L129.5,545.10 L130.0,545.23 L130.5,545.31 L131.0,545.31 L131.5,545.32 L132.0,545.37 L132.5,545.25 L133.0,545.05 L133.5,545.28 L134.0,544.89 L134.5,545.03 L135.0,545.18 L135.5,544.88 L136.0,545.35 L136.5,544.97 L137.0,544.90 L137.5,545.01 L138.0,545.01 L138.5,545.12 L139.0,545.10 L139.5,545.27 L140.0,545.09 L140.5,545.14 L141.0,544.96 L141.5,545.19 L142.0,544.99 L142.5,544.82 L143.0,545.30 L143.5,544.95 L144.0,544.94 L144.5,544.97 L145.0,545.20 L145.5,544.87 L146.0,545.04 L146.5,545.18 L147.0,545.38 L147.5,545.05 L148.0,545.10 L148.5,544.96 L149.0,545.39 L149.5,545.07 L150.0,545.08 L150.5,545.11 L151.0,544.95 L151.5,545.08 L152.0,544.89 L152.5,545.30 L153.0,545.06 L153.5,545.05 L154.0,545.25 L154.5,544.89 L155.0,545.29 L155.5,545.30 L156.0,544.96 L156.5,545.18 L157.0,545.06 L157.5,545.20 L158.0,545.07 L158.5,544.93 L159.0,545.16 L159.5,545.03 L160.0,545.09 L160.5,545.21 L161.0,545.24 L161.5,545.16 L162.0,544.85 L162.5,545.16 L163.0,545.01 L163.5,545.22 L164.0,545.03 L164.5,545.27 L165.0,545.13 L165.5,545.05 L166.0,545.10 L166.5,544.79 L167.0,545.14 L167.5,545.07 L168.0,544.88 L168.5,545.11 L169.0,545.10 L169.5,545.10 L170.0,545.03 L170.5,545.16 L171.0,545.16 L171.5,545.06 L172.0,545.03 L172.5,544.97 L173.0,544.95 L173.5,545.13 L174.0,544.96 L174.5,544.83 L175.0,545.07 L175.5,545.20 L176.0,545.00 L176.5,545.17 L177.0,545.11 L177.5,544.88 L178.0,545.08 L178.5,545.02 L179.0,545.13 L179.5,544.61 L180.0,545.16 L180.5,545.14 L181.0,544.89 L181.5,545.19 L182.0,545.01 L182.5,545.06 L183.0,545.16 L183.5,545.23 L184.0,545.05 L184.5,545.13 L185.0,545.09 L185.5,544.92 L186.0,545.27 L186.5,545.14 L187.0,545.05 L187.5,545.18 L188.0,545.10 L188.5,544.94 L189.0,545.17 L189.5,545.03 L190.0,545.11 L190.5,545.16 L191.0,545.16 L191.5,545.30 L192.0,545.05 L192.5,545.00 L193.0,544.91 L193.5,544.93 L194.0,545.12 L194.5,545.08 L195.0,544.89 L195.5,544.93 L196.0,544.95 L196.5,545.25 L197.0,544.88 L197.5,545.07 L198.0,544.77 L198.5,544.98 L199.0,545.23 L199.5,544.83 L200.0,545.19 L200.5,544.73 L201.0,545.02 L201.5,544.85 L202.0,545.01 L202.5,544.98 L203.0,545.14 L203.5,545.06 L204.0,545.04 L204.5,544.93 L205.0,545.08 L205.5,544.89 L206.0,544.92 L206.5,544.92 L207.0,545.10 L207.5,545.35 L208.0,545.00 L208.5,545.30 L209.0,544.86 L209.5,544.92 L210.0,545.09 L210.5,545.10 L211.0,545.13 L211.5,545.25 L212.0,544.98 L212.5,545.17 L213.0,545.05 L213.5,544.59 L214.0,544.86 L214.5,544.93 L215.0,545.03 L215.5,545.09 L216.0,544.97 L216.5,545.21 L217.0,544.86 L217.5,545.01 L218.0,545.15 L218.5,544.84 L219.0,545.20 L219.5,545.15 L220.0,544.99 L220.5,545.01 L221.0,545.00 L221.5,545.01 L222.0,545.20 L222.5,545.09 L223.0,544.80 L223.5,544.78 L224.0,545.10 L224.5,544.61 L225.0,544.77 L225.5,544.92 L226.0,545.00 L226.5,545.21 L227.0,545.03 L227.5,545.53 L228.0,545.04 L228.5,545.13 L229.0,545.16 L229.5,544.99 L230.0,545.15 L230.5,545.09 L231.0,545.04 L231.5,544.91 L232.0,544.94 L232.5,545.12 L233.0,545.00 L233.5,545.07 L234.0,545.07 L234.5,545.05 L235.0,545.01 L235.5,545.09 L236.0,545.13 L236.5,545.21 L237.0,545.08 L237.5,544.92 L238.0,544.90 L238.5,545.10 L239.0,544.78 L239.5,544.93 L240.0,545.16 L240.5,544.96 L241.0,544.91 L241.3,545.19" fill="none" stroke="#0072bd" stroke-width="0.8" stroke-linejoin="round" opacity="1.0"/>
<path d="M49.5,545.09 L50.0,545.80 L50.5,546.28 L51.0,546.75 L51.5,546.86 L52.0,546.82 L52.5,546.93 L53.0,546.15 L53.5,544.87 L54.0,543.65 L54.5,542.16 L55.0,540.56 L55.5,538.87 L56.0,536.97 L56.5,535.14 L57.0,533.59 L57.5,532.06 L58.0,530.89 L58.5,529.92 L59.0,529.37 L59.5,529.54 L60.0,529.47 L60.5,529.71 L61.0,529.92 L61.5,530.29 L62.0,530.74 L62.5,531.34 L63.0,531.93 L63.5,532.44 L64.0,532.94 L64.5,534.14 L65.0,535.22 L65.5,536.84 L66.0,538.55 L66.5,540.59 L67.0,542.76 L67.5,544.59 L68.0,546.65 L68.5,548.54 L69.0,550.24 L69.5,551.41 L70.0,552.70 L70.5,554.13 L71.0,555.81 L71.5,557.06 L72.0,558.48 L72.5,559.99 L73.0,560.96 L73.5,561.94 L74.0,562.74 L74.5,563.59 L75.0,563.99 L75.5,563.93 L76.0,563.56 L76.5,562.85 L77.0,561.74 L77.5,560.07 L78.0,558.10 L78.5,556.35 L79.0,554.49 L79.5,552.60 L80.0,551.02 L80.5,549.40 L81.0,547.53 L81.5,545.58 L82.0,543.54 L82.5,541.66 L83.0,539.86 L83.5,538.58 L84.0,537.44 L84.5,536.69 L85.0,536.55 L85.5,536.70 L86.0,537.05 L86.5,537.77 L87.0,538.49 L87.5,539.39 L88.0,540.16 L88.5,541.29 L89.0,542.35 L89.5,543.17 L90.0,543.91 L90.5,544.60 L91.0,545.51 L91.5,546.60 L92.0,547.31 L92.5,548.41 L93.0,549.21 L93.5,550.32 L94.0,551.11 L94.5,552.14 L95.0,553.06 L95.5,553.92 L96.0,554.56 L96.5,555.36 L97.0,555.97 L97.5,556.61 L98.0,557.07 L98.5,557.43 L99.0,557.76 L99.5,557.69 L100.0,557.68 L100.5,557.54 L101.0,557.32 L101.5,556.91 L102.0,556.60 L102.5,555.94 L103.0,555.66 L103.5,554.89 L104.0,554.36 L104.5,553.48 L105.0,552.89 L105.5,552.28 L106.0,551.81 L106.5,551.03 L107.0,550.61 L107.5,549.88 L108.0,549.65 L108.5,549.02 L109.0,548.47 L109.5,548.01 L110.0,547.77 L110.5,547.27 L111.0,546.85 L111.5,546.37 L112.0,545.98 L112.5,545.66 L113.0,545.07 L113.5,544.73 L114.0,544.30 L114.5,543.84 L115.0,543.70 L115.5,543.63 L116.0,543.20 L116.5,543.36 L117.0,543.09 L117.5,543.05 L118.0,543.10 L118.5,543.02 L119.0,543.05 L119.5,543.20 L120.0,543.03 L120.5,543.12 L121.0,543.06 L121.5,543.24 L122.0,543.58 L122.5,543.45 L123.0,543.29 L123.5,543.26 L124.0,543.55 L124.5,543.62 L125.0,543.55 L125.5,543.80 L126.0,543.76 L126.5,543.84 L127.0,543.90 L127.5,543.97 L128.0,543.86 L128.5,543.87 L129.0,544.11 L129.5,543.98 L130.0,543.89 L130.5,544.06 L131.0,543.99 L131.5,544.08 L132.0,544.38 L132.5,544.25 L133.0,544.04 L133.5,543.98 L134.0,544.11 L134.5,544.03 L135.0,544.16 L135.5,544.18 L136.0,544.22 L136.5,544.17 L137.0,544.04 L137.5,544.18 L138.0,544.21 L138.5,544.24 L139.0,544.35 L139.5,544.14 L140.0,544.24 L140.5,544.20 L141.0,544.19 L141.5,544.35 L142.0,544.23 L142.5,544.50 L143.0,544.07 L143.5,544.48 L144.0,544.31 L144.5,544.22 L145.0,544.37 L145.5,544.38 L146.0,544.48 L146.5,544.51 L147.0,544.32 L147.5,544.41 L148.0,544.45 L148.5,544.45 L149.0,544.41 L149.5,544.59 L150.0,544.49 L150.5,544.34 L151.0,544.51 L151.5,544.46 L152.0,544.47 L152.5,544.59 L153.0,544.58 L153.5,544.56 L154.0,544.58 L154.5,544.63 L155.0,544.49 L155.5,544.57 L156.0,544.70 L156.5,544.52 L157.0,544.55 L157.5,544.54 L158.0,544.71 L158.5,544.57 L159.0,544.73 L159.5,544.59 L160.0,544.66 L160.5,544.68 L161.0,544.61 L161.5,544.57 L162.0,544.77 L162.5,544.65 L163.0,544.74 L163.5,544.77 L164.0,544.56 L164.5,544.84 L165.0,544.74 L165.5,544.70 L166.0,544.70 L166.5,544.70 L167.0,544.78 L167.5,544.97 L168.0,544.76 L168.5,544.67 L169.0,544.76 L169.5,545.01 L170.0,544.81 L170.5,545.01 L171.0,544.74 L171.5,544.75 L172.0,544.72 L172.5,544.74 L173.0,544.84 L173.5,544.87 L174.0,544.68 L174.5,544.76 L175.0,544.79 L175.5,544.84 L176.0,545.02 L176.5,545.04 L177.0,544.94 L177.5,544.98 L178.0,544.82 L178.5,544.95 L179.0,544.74 L179.5,544.92 L180.0,544.96 L180.5,545.02 L181.0,544.93 L181.5,544.93 L182.0,544.85 L182.5,544.73 L183.0,544.89 L183.5,544.77 L184.0,544.93 L184.5,544.94 L185.0,544.84 L185.5,544.80 L186.0,544.97 L186.5,544.94 L187.0,545.04 L187.5,545.10 L188.0,545.17 L188.5,545.12 L189.0,544.93 L189.5,545.02 L190.0,545.25 L190.5,544.95 L191.0,545.01 L191.5,545.18 L192.0,545.12 L192.5,545.00 L193.0,545.10 L193.5,545.01 L194.0,545.17 L194.5,545.07 L195.0,545.09 L195.5,545.11 L196.0,544.90 L196.5,545.08 L197.0,545.15 L197.5,545.12 L198.0,545.06 L198.5,545.11 L199.0,545.27 L199.5,545.20 L200.0,545.07 L200.5,545.25 L201.0,545.17 L201.5,545.10 L202.0,544.97 L202.5,545.21 L203.0,545.05 L203.5,545.20 L204.0,545.28 L204.5,545.24 L205.0,545.05 L205.5,545.08 L206.0,545.25 L206.5,545.29 L207.0,545.19 L207.5,545.18 L208.0,545.38 L208.5,545.37 L209.0,545.23 L209.5,545.17 L210.0,545.28 L210.5,545.09 L211.0,545.24 L211.5,545.24 L212.0,545.35 L212.5,545.28 L213.0,545.05 L213.5,545.42 L214.0,545.29 L214.5,545.04 L215.0,545.08 L215.5,545.31 L216.0,545.11 L216.5,545.33 L217.0,545.14 L217.5,545.09 L218.0,545.41 L218.5,545.43 L219.0,545.23 L219.5,545.42 L220.0,545.30 L220.5,545.32 L221.0,545.25 L221.5,545.34 L222.0,545.42 L222.5,545.43 L223.0,545.49 L223.5,545.47 L224.0,545.35 L224.5,545.24 L225.0,545.38 L225.5,545.36 L226.0,545.26 L226.5,545.18 L227.0,545.22 L227.5,545.15 L228.0,545.21 L228.5,545.32 L229.0,545.43 L229.5,545.32 L230.0,545.25 L230.5,545.26 L231.0,545.29 L231.5,545.43 L232.0,545.32 L232.5,545.13 L233.0,545.31 L233.5,545.14 L234.0,545.24 L234.5,545.32 L235.0,545.22 L235.5,545.30 L236.0,545.43 L236.5,545.23 L237.0,545.42 L237.5,545.40 L238.0,545.38 L238.5,545.22 L239.0,545.42 L239.5,545.35 L240.0,545.38 L240.5,545.32 L241.0,545.44 L241.3,545.18" fill="none" stroke="#4dbeee" stroke-width="0.8" stroke-linejoin="round" opacity="1.0"/>
<path d="M49.5,541.04 L50.0,541.64 L50.5,542.31 L51.0,542.66 L51.5,542.76 L52.0,543.10 L52.5,542.79 L53.0,542.32 L53.5,541.59 L54.0,540.34 L54.5,538.93 L55.0,537.56 L55.5,536.25 L56.0,534.51 L56.5,533.22 L57.0,531.87 L57.5,530.51 L58.0,529.64 L58.5,528.94 L59.0,528.39 L59.5,528.36 L60.0,528.59 L60.5,528.66 L61.0,529.07 L61.5,529.73 L62.0,530.20 L62.5,530.68 L63.0,531.51 L63.5,532.43 L64.0,532.85 L64.5,534.11 L65.0,535.57 L65.5,537.30 L66.0,539.46 L66.5,541.57 L67.0,544.10 L67.5,546.41 L68.0,548.31 L68.5,550.33 L69.0,552.01 L69.5,553.44 L70.0,555.10 L70.5,556.55 L71.0,558.29 L71.5,559.76 L72.0,561.26 L72.5,562.70 L73.0,564.01 L73.5,564.92 L74.0,566.00 L74.5,566.70 L75.0,567.04 L75.5,567.35 L76.0,566.80 L76.5,565.93 L77.0,564.67 L77.5,562.85 L78.0,561.12 L78.5,558.92 L79.0,556.98 L79.5,554.70 L80.0,552.91 L80.5,551.29 L81.0,548.92 L81.5,546.83 L82.0,544.29 L82.5,542.11 L83.0,540.10 L83.5,538.17 L84.0,536.67 L84.5,535.88 L85.0,535.82 L85.5,535.98 L86.0,536.59 L86.5,537.34 L87.0,538.36 L87.5,539.45 L88.0,540.57 L88.5,541.94 L89.0,543.07 L89.5,543.91 L90.0,545.00 L90.5,545.90 L91.0,546.84 L91.5,547.38 L92.0,548.41 L92.5,549.35 L93.0,550.26 L93.5,551.01 L94.0,552.00 L94.5,552.75 L95.0,553.59 L95.5,554.31 L96.0,555.10 L96.5,555.68 L97.0,556.33 L97.5,556.78 L98.0,557.29 L98.5,557.68 L99.0,557.70 L99.5,557.72 L100.0,557.74 L100.5,557.55 L101.0,557.16 L101.5,556.97 L102.0,556.46 L102.5,556.08 L103.0,555.40 L103.5,554.87 L104.0,554.19 L104.5,553.38 L105.0,552.69 L105.5,551.98 L106.0,551.30 L106.5,550.77 L107.0,550.02 L107.5,549.46 L108.0,548.92 L108.5,548.66 L109.0,547.97 L109.5,547.45 L110.0,546.83 L110.5,546.38 L111.0,545.72 L111.5,545.17 L112.0,544.48 L112.5,543.98 L113.0,543.65 L113.5,543.22 L114.0,542.53 L114.5,542.30 L115.0,541.93 L115.5,541.91 L116.0,541.25 L116.5,541.09 L117.0,540.93 L117.5,541.08 L118.0,541.11 L118.5,541.00 L119.0,541.22 L119.5,541.33 L120.0,541.14 L120.5,541.32 L121.0,541.33 L121.5,541.38 L122.0,541.49 L122.5,541.62 L123.0,541.62 L123.5,541.86 L124.0,542.06 L124.5,542.00 L125.0,542.15 L125.5,542.23 L126.0,542.46 L126.5,542.52 L127.0,542.72 L127.5,542.68 L128.0,542.65 L128.5,542.92 L129.0,542.89 L129.5,543.08 L130.0,543.07 L130.5,542.76 L131.0,542.85 L131.5,543.08 L132.0,543.02 L132.5,542.90 L133.0,543.09 L133.5,543.30 L134.0,543.26 L134.5,543.13 L135.0,543.27 L135.5,543.36 L136.0,543.27 L136.5,543.48 L137.0,543.26 L137.5,543.56 L138.0,543.53 L138.5,543.45 L139.0,543.44 L139.5,543.45 L140.0,543.37 L140.5,543.58 L141.0,543.64 L141.5,543.61 L142.0,543.58 L142.5,543.58 L143.0,543.50 L143.5,543.55 L144.0,543.49 L144.5,543.70 L145.0,543.59 L145.5,543.78 L146.0,543.65 L146.5,543.88 L147.0,543.91 L147.5,543.93 L148.0,543.91 L148.5,543.79 L149.0,543.81 L149.5,543.78 L150.0,543.91 L150.5,544.06 L151.0,543.81 L151.5,544.18 L152.0,543.89 L152.5,543.85 L153.0,544.02 L153.5,544.11 L154.0,543.99 L154.5,543.94 L155.0,544.24 L155.5,543.97 L156.0,544.20 L156.5,544.13 L157.0,544.10 L157.5,544.15 L158.0,544.06 L158.5,544.07 L159.0,544.23 L159.5,544.11 L160.0,544.16 L160.5,544.40 L161.0,544.45 L161.5,544.40 L162.0,544.39 L162.5,544.29 L163.0,544.34 L163.5,544.28 L164.0,544.08 L164.5,544.40 L165.0,544.42 L165.5,544.51 L166.0,544.31 L166.5,544.56 L167.0,544.40 L167.5,544.35 L168.0,544.46 L168.5,544.59 L169.0,544.51 L169.5,544.57 L170.0,544.46 L170.5,544.61 L171.0,544.67 L171.5,544.50 L172.0,544.64 L172.5,544.48 L173.0,544.65 L173.5,544.49 L174.0,544.70 L174.5,544.67 L175.0,544.57 L175.5,544.73 L176.0,544.61 L176.5,544.73 L177.0,544.64 L177.5,544.80 L178.0,544.70 L178.5,544.91 L179.0,544.83 L179.5,544.85 L180.0,544.67 L180.5,544.61 L181.0,544.75 L181.5,545.02 L182.0,544.76 L182.5,544.99 L183.0,545.00 L183.5,544.83 L184.0,544.88 L184.5,545.04 L185.0,544.90 L185.5,544.89 L186.0,544.89 L186.5,544.96 L187.0,544.95 L187.5,545.10 L188.0,545.01 L188.5,545.11 L189.0,544.99 L189.5,545.26 L190.0,545.01 L190.5,545.02 L191.0,544.96 L191.5,544.88 L192.0,544.98 L192.5,545.09 L193.0,544.98 L193.5,545.17 L194.0,544.94 L194.5,544.94 L195.0,545.15 L195.5,545.16 L196.0,545.02 L196.5,545.25 L197.0,545.29 L197.5,545.19 L198.0,545.04 L198.5,545.30 L199.0,545.15 L199.5,545.17 L200.0,545.25 L200.5,545.14 L201.0,545.36 L201.5,545.16 L202.0,545.33 L202.5,545.31 L203.0,545.42 L203.5,545.30 L204.0,545.34 L204.5,545.22 L205.0,545.25 L205.5,545.22 L206.0,545.36 L206.5,545.23 L207.0,545.45 L207.5,545.29 L208.0,545.19 L208.5,545.25 L209.0,545.44 L209.5,545.28 L210.0,545.39 L210.5,545.18 L211.0,545.39 L211.5,545.43 L212.0,545.41 L212.5,545.44 L213.0,545.27 L213.5,545.21 L214.0,545.25 L214.5,545.47 L215.0,545.43 L215.5,545.47 L216.0,545.34 L216.5,545.48 L217.0,545.25 L217.5,545.45 L218.0,545.31 L218.5,545.38 L219.0,545.49 L219.5,545.51 L220.0,545.42 L220.5,545.40 L221.0,545.57 L221.5,545.55 L222.0,545.38 L222.5,545.48 L223.0,545.43 L223.5,545.55 L224.0,545.51 L224.5,545.51 L225.0,545.48 L225.5,545.42 L226.0,545.58 L226.5,545.52 L227.0,545.25 L227.5,545.44 L228.0,545.51 L228.5,545.41 L229.0,545.39 L229.5,545.43 L230.0,545.52 L230.5,545.40 L231.0,545.53 L231.5,545.63 L232.0,545.59 L232.5,545.60 L233.0,545.48 L233.5,545.62 L234.0,545.50 L234.5,545.59 L235.0,545.39 L235.5,545.63 L236.0,545.45 L236.5,545.51 L237.0,545.61 L237.5,545.51 L238.0,545.46 L238.5,545.49 L239.0,545.62 L239.5,545.62 L240.0,545.58 L240.5,545.45 L241.0,545.47 L241.3,545.57" fill="none" stroke="#77ac30" stroke-width="0.8" stroke-linejoin="round" opacity="1.0"/>
<path d="M49.5,547.00 L50.0,547.69 L50.5,548.70 L51.0,548.90 L51.5,549.06 L52.0,548.72 L52.5,548.03 L53.0,546.93 L53.5,545.47 L54.0,543.68 L54.5,541.90 L55.0,539.86 L55.5,537.72 L56.0,535.59 L56.5,533.59 L57.0,531.75 L57.5,530.26 L58.0,528.87 L58.5,528.03 L59.0,527.31 L59.5,527.39 L60.0,527.47 L60.5,527.72 L61.0,528.33 L61.5,528.81 L62.0,529.56 L62.5,530.37 L63.0,531.17 L63.5,531.99 L64.0,533.02 L64.5,534.40 L65.0,536.10 L65.5,538.55 L66.0,541.19 L66.5,544.15 L67.0,547.31 L67.5,550.52 L68.0,553.86 L68.5,557.08 L69.0,559.80 L69.5,563.05 L70.0,566.62 L70.5,570.35 L71.0,574.41 L71.5,578.20 L72.0,582.17 L72.5,585.72 L73.0,588.81 L73.5,591.28 L74.0,593.42 L74.5,594.29 L75.0,594.46 L75.5,593.41 L76.0,591.67 L76.5,589.31 L77.0,586.10 L77.5,582.85 L78.0,579.29 L78.5,575.21 L79.0,571.60 L79.5,568.21 L80.0,564.96 L80.5,561.90 L81.0,558.21 L81.5,554.16 L82.0,550.13 L82.5,546.55 L83.0,543.17 L83.5,540.01 L84.0,537.91 L84.5,536.21 L85.0,536.06 L85.5,536.15 L86.0,536.54 L86.5,537.08 L87.0,537.78 L87.5,538.70 L88.0,539.56 L88.5,540.80 L89.0,541.67 L89.5,542.94 L90.0,543.86 L90.5,544.89 L91.0,546.06 L91.5,547.05 L92.0,548.18 L92.5,549.63 L93.0,550.74 L93.5,552.35 L94.0,553.76 L94.5,555.39 L95.0,556.58 L95.5,558.09 L96.0,559.45 L96.5,560.69 L97.0,561.79 L97.5,562.94 L98.0,563.79 L98.5,564.38 L99.0,564.88 L99.5,564.92 L100.0,565.16 L100.5,564.78 L101.0,564.26 L101.5,563.64 L102.0,562.72 L102.5,561.75 L103.0,560.72 L103.5,559.57 L104.0,558.43 L104.5,557.37 L105.0,556.01 L105.5,555.00 L106.0,553.75 L106.5,552.81 L107.0,551.57 L107.5,550.67 L108.0,549.94 L108.5,549.10 L109.0,548.69 L109.5,547.95 L110.0,547.20 L110.5,546.48 L111.0,545.86 L111.5,544.97 L112.0,544.42 L112.5,543.77 L113.0,543.19 L113.5,542.67 L114.0,542.03 L114.5,541.42 L115.0,541.12 L115.5,540.67 L116.0,540.41 L116.5,540.08 L117.0,540.02 L117.5,540.00 L118.0,539.98 L118.5,540.08 L119.0,540.25 L119.5,540.12 L120.0,540.10 L120.5,540.23 L121.0,540.45 L121.5,540.44 L122.0,540.63 L122.5,540.65 L123.0,540.83 L123.5,540.81 L124.0,541.09 L124.5,541.09 L125.0,541.24 L125.5,541.43 L126.0,541.18 L126.5,541.64 L127.0,541.84 L127.5,541.67 L128.0,541.72 L128.5,541.83 L129.0,541.98 L129.5,541.95 L130.0,541.88 L130.5,541.93 L131.0,541.90 L131.5,542.02 L132.0,542.03 L132.5,541.99 L133.0,542.22 L133.5,542.20 L134.0,542.30 L134.5,542.07 L135.0,542.40 L135.5,542.49 L136.0,542.32 L136.5,542.25 L137.0,542.22 L137.5,542.55 L138.0,542.47 L138.5,542.55 L139.0,542.52 L139.5,542.40 L140.0,542.54 L140.5,542.62 L141.0,542.57 L141.5,542.71 L142.0,542.64 L142.5,542.83 L143.0,542.57 L143.5,542.84 L144.0,542.82 L144.5,542.94 L145.0,543.01 L145.5,542.97 L146.0,542.96 L146.5,542.90 L147.0,543.10 L147.5,543.03 L148.0,543.09 L148.5,543.07 L149.0,543.12 L149.5,543.06 L150.0,543.41 L150.5,543.20 L151.0,543.17 L151.5,543.19 L152.0,543.30 L152.5,543.24 L153.0,543.39 L153.5,543.34 L154.0,543.39 L154.5,543.50 L155.0,543.44 L155.5,543.48 L156.0,543.52 L156.5,543.62 L157.0,543.50 L157.5,543.66 L158.0,543.63 L158.5,543.63 L159.0,543.48 L159.5,543.65 L160.0,543.51 L160.5,543.61 L161.0,543.67 L161.5,543.67 L162.0,543.61 L162.5,543.85 L163.0,543.76 L163.5,543.94 L164.0,543.83 L164.5,543.67 L165.0,544.01 L165.5,543.99 L166.0,544.08 L166.5,543.90 L167.0,543.75 L167.5,543.99 L168.0,543.89 L168.5,543.93 L169.0,543.93 L169.5,543.94 L170.0,544.18 L170.5,543.98 L171.0,543.89 L171.5,544.31 L172.0,544.07 L172.5,544.06 L173.0,544.28 L173.5,544.24 L174.0,544.06 L174.5,544.35 L175.0,544.35 L175.5,544.32 L176.0,544.12 L176.5,544.32 L177.0,544.15 L177.5,544.38 L178.0,544.44 L178.5,544.48 L179.0,544.32 L179.5,544.57 L180.0,544.43 L180.5,544.43 L181.0,544.41 L181.5,544.54 L182.0,544.57 L182.5,544.53 L183.0,544.47 L183.5,544.70 L184.0,544.61 L184.5,544.68 L185.0,544.67 L185.5,544.64 L186.0,544.58 L186.5,544.60 L187.0,544.64 L187.5,544.44 L188.0,544.64 L188.5,544.81 L189.0,544.75 L189.5,544.61 L190.0,544.81 L190.5,544.74 L191.0,544.90 L191.5,544.78 L192.0,544.74 L192.5,544.85 L193.0,544.82 L193.5,544.92 L194.0,544.81 L194.5,545.01 L195.0,544.87 L195.5,544.79 L196.0,544.87 L196.5,544.90 L197.0,545.04 L197.5,545.01 L198.0,544.97 L198.5,545.08 L199.0,545.04 L199.5,545.11 L200.0,544.99 L200.5,545.19 L201.0,544.86 L201.5,544.93 L202.0,545.08 L202.5,545.16 L203.0,545.24 L203.5,545.13 L204.0,545.12 L204.5,545.17 L205.0,545.16 L205.5,545.15 L206.0,545.03 L206.5,545.08 L207.0,545.17 L207.5,545.04 L208.0,545.19 L208.5,545.30 L209.0,545.18 L209.5,545.12 L210.0,545.08 L210.5,545.16 L211.0,545.25 L211.5,545.34 L212.0,545.25 L212.5,545.31 L213.0,545.33 L213.5,545.26 L214.0,545.22 L214.5,545.44 L215.0,545.37 L215.5,545.45 L216.0,545.27 L216.5,545.29 L217.0,545.36 L217.5,545.30 L218.0,545.23 L218.5,545.28 L219.0,545.23 L219.5,545.34 L220.0,545.17 L220.5,545.42 L221.0,545.45 L221.5,545.19 L222.0,545.35 L222.5,545.40 L223.0,545.28 L223.5,545.40 L224.0,545.45 L224.5,545.36 L225.0,545.50 L225.5,545.44 L226.0,545.31 L226.5,545.34 L227.0,545.56 L227.5,545.58 L228.0,545.47 L228.5,545.58 L229.0,545.32 L229.5,545.62 L230.0,545.63 L230.5,545.44 L231.0,545.46 L231.5,545.36 L232.0,545.76 L232.5,545.48 L233.0,545.45 L233.5,545.40 L234.0,545.43 L234.5,545.43 L235.0,545.59 L235.5,545.55 L236.0,545.41 L236.5,545.51 L237.0,545.42 L237.5,545.51 L238.0,545.22 L238.5,545.67 L239.0,545.53 L239.5,545.41 L240.0,545.59 L240.5,545.51 L241.0,545.47 L241.3,545.67" fill="none" stroke="#7e2f8e" stroke-width="0.8" stroke-linejoin="round" opacity="1.0"/>
<path d="M49.5,547.89 L50.0,548.93 L50.5,549.60 L51.0,549.94 L51.5,550.14 L52.0,549.67 L52.5,548.60 L53.0,547.29 L53.5,545.47 L54.0,543.26 L54.5,540.70 L55.0,537.94 L55.5,535.67 L56.0,532.79 L56.5,530.28 L57.0,527.80 L57.5,525.70 L58.0,524.14 L58.5,522.92 L59.0,522.03 L59.5,521.96 L60.0,522.16 L60.5,522.55 L61.0,523.21 L61.5,524.08 L62.0,524.87 L62.5,526.35 L63.0,527.20 L63.5,528.59 L64.0,530.18 L64.5,531.89 L65.0,534.82 L65.5,538.54 L66.0,542.88 L66.5,547.26 L67.0,552.35 L67.5,556.96 L68.0,561.97 L68.5,566.27 L69.0,570.06 L69.5,573.67 L70.0,577.86 L70.5,581.94 L71.0,586.15 L71.5,589.96 L72.0,593.92 L72.5,597.42 L73.0,600.42 L73.5,602.54 L74.0,604.12 L74.5,605.03 L75.0,604.67 L75.5,603.62 L76.0,601.65 L76.5,599.33 L77.0,596.29 L77.5,592.95 L78.0,589.38 L78.5,585.83 L79.0,581.90 L79.5,578.24 L80.0,574.91 L80.5,571.25 L81.0,566.70 L81.5,561.60 L82.0,556.31 L82.5,550.91 L83.0,546.04 L83.5,542.01 L84.0,538.56 L84.5,536.57 L85.0,535.91 L85.5,536.24 L86.0,536.49 L86.5,537.21 L87.0,538.04 L87.5,539.00 L88.0,540.14 L88.5,541.31 L89.0,542.51 L89.5,543.63 L90.0,544.75 L90.5,545.93 L91.0,546.95 L91.5,547.98 L92.0,549.45 L92.5,550.49 L93.0,552.09 L93.5,553.44 L94.0,554.81 L94.5,556.71 L95.0,557.97 L95.5,559.35 L96.0,561.08 L96.5,562.11 L97.0,563.33 L97.5,564.50 L98.0,565.10 L98.5,565.76 L99.0,566.37 L99.5,566.53 L100.0,566.32 L100.5,565.94 L101.0,565.42 L101.5,564.90 L102.0,564.09 L102.5,563.06 L103.0,561.85 L103.5,560.63 L104.0,559.09 L104.5,557.99 L105.0,556.62 L105.5,555.51 L106.0,554.09 L106.5,552.93 L107.0,551.83 L107.5,550.88 L108.0,550.06 L108.5,549.45 L109.0,548.59 L109.5,547.67 L110.0,546.73 L110.5,546.17 L111.0,545.26 L111.5,544.38 L112.0,543.53 L112.5,542.73 L113.0,542.22 L113.5,541.54 L114.0,540.81 L114.5,540.24 L115.0,539.93 L115.5,539.37 L116.0,538.96 L116.5,538.65 L117.0,538.66 L117.5,538.59 L118.0,538.40 L118.5,538.32 L119.0,538.66 L119.5,538.72 L120.0,538.84 L120.5,538.89 L121.0,538.74 L121.5,539.15 L122.0,539.12 L122.5,539.44 L123.0,539.45 L123.5,539.52 L124.0,539.58 L124.5,539.78 L125.0,540.01 L125.5,540.10 L126.0,540.37 L126.5,540.37 L127.0,540.53 L127.5,540.54 L128.0,540.65 L128.5,540.75 L129.0,540.79 L129.5,541.06 L130.0,541.16 L130.5,540.98 L131.0,541.05 L131.5,541.25 L132.0,541.22 L132.5,541.28 L133.0,541.14 L133.5,541.48 L134.0,541.37 L134.5,541.40 L135.0,541.38 L135.5,541.43 L136.0,541.47 L136.5,541.49 L137.0,541.59 L137.5,541.68 L138.0,541.58 L138.5,541.66 L139.0,541.79 L139.5,541.80 L140.0,542.11 L140.5,541.73 L141.0,541.93 L141.5,541.87 L142.0,541.92 L142.5,541.96 L143.0,541.99 L143.5,542.12 L144.0,542.11 L144.5,542.21 L145.0,542.44 L145.5,542.28 L146.0,542.21 L146.5,542.38 L147.0,542.00 L147.5,542.46 L148.0,542.54 L148.5,542.40 L149.0,542.46 L149.5,542.44 L150.0,542.39 L150.5,542.59 L151.0,542.60 L151.5,542.55 L152.0,542.75 L152.5,542.55 L153.0,542.79 L153.5,542.80 L154.0,542.81 L154.5,542.83 L155.0,542.85 L155.5,542.72 L156.0,542.65 L156.5,542.91 L157.0,543.09 L157.5,542.99 L158.0,543.05 L158.5,543.07 L159.0,543.10 L159.5,543.13 L160.0,543.19 L160.5,542.95 L161.0,543.19 L161.5,543.06 L162.0,543.34 L162.5,543.11 L163.0,543.22 L163.5,543.39 L164.0,543.31 L164.5,543.42 L165.0,543.30 L165.5,543.69 L166.0,543.45 L166.5,543.36 L167.0,543.61 L167.5,543.48 L168.0,543.57 L168.5,543.58 L169.0,543.65 L169.5,543.65 L170.0,543.84 L170.5,543.80 L171.0,543.64 L171.5,543.83 L172.0,543.75 L172.5,543.78 L173.0,543.78 L173.5,543.72 L174.0,543.93 L174.5,543.82 L175.0,543.94 L175.5,544.07 L176.0,543.86 L176.5,543.97 L177.0,544.02 L177.5,544.00 L178.0,544.03 L178.5,544.00 L179.0,543.91 L179.5,544.13 L180.0,544.36 L180.5,544.08 L181.0,544.23 L181.5,544.23 L182.0,544.17 L182.5,544.23 L183.0,544.37 L183.5,544.30 L184.0,544.31 L184.5,544.42 L185.0,544.33 L185.5,544.27 L186.0,544.38 L186.5,544.37 L187.0,544.44 L187.5,544.71 L188.0,544.40 L188.5,544.42 L189.0,544.61 L189.5,544.65 L190.0,544.50 L190.5,544.56 L191.0,544.51 L191.5,544.71 L192.0,544.63 L192.5,544.68 L193.0,544.58 L193.5,544.71 L194.0,544.69 L194.5,544.74 L195.0,544.76 L195.5,544.55 L196.0,544.64 L196.5,544.98 L197.0,544.81 L197.5,544.90 L198.0,544.84 L198.5,544.84 L199.0,544.94 L199.5,544.86 L200.0,544.91 L200.5,544.97 L201.0,544.83 L201.5,545.04 L202.0,544.87 L202.5,544.77 L203.0,544.85 L203.5,544.98 L204.0,545.20 L204.5,544.98 L205.0,545.02 L205.5,544.97 L206.0,545.13 L206.5,545.15 L207.0,545.17 L207.5,545.14 L208.0,544.98 L208.5,545.13 L209.0,545.05 L209.5,545.15 L210.0,545.09 L210.5,545.09 L211.0,545.20 L211.5,545.15 L212.0,545.24 L212.5,545.26 L213.0,545.10 L213.5,545.29 L214.0,545.50 L214.5,545.34 L215.0,545.19 L215.5,545.38 L216.0,545.40 L216.5,545.29 L217.0,545.21 L217.5,545.21 L218.0,545.29 L218.5,545.27 L219.0,545.28 L219.5,545.36 L220.0,545.44 L220.5,545.35 L221.0,545.28 L221.5,545.37 L222.0,545.23 L222.5,545.22 L223.0,545.38 L223.5,545.38 L224.0,545.42 L224.5,545.27 L225.0,545.43 L225.5,545.25 L226.0,545.41 L226.5,545.25 L227.0,545.44 L227.5,545.43 L228.0,545.37 L228.5,545.50 L229.0,545.53 L229.5,545.56 L230.0,545.51 L230.5,545.55 L231.0,545.34 L231.5,545.61 L232.0,545.50 L232.5,545.37 L233.0,545.48 L233.5,545.40 L234.0,545.53 L234.5,545.52 L235.0,545.51 L235.5,545.37 L236.0,545.47 L236.5,545.64 L237.0,545.59 L237.5,545.44 L238.0,545.36 L238.5,545.47 L239.0,545.58 L239.5,545.52 L240.0,545.61 L240.5,545.56 L241.0,545.38 L241.3,545.53" fill="none" stroke="#edb120" stroke-width="0.8" stroke-linejoin="round" opacity="1.0"/>
<path d="M49.5,550.29 L50.0,550.97 L50.5,551.31 L51.0,551.46 L51.5,551.55 L52.0,550.79 L52.5,549.49 L53.0,547.59 L53.5,545.18 L54.0,542.62 L54.5,539.75 L55.0,536.60 L55.5,533.39 L56.0,530.21 L56.5,527.53 L57.0,524.56 L57.5,522.16 L58.0,520.14 L58.5,518.87 L59.0,518.05 L59.5,517.86 L60.0,518.33 L60.5,519.19 L61.0,520.31 L61.5,521.73 L62.0,523.54 L62.5,525.52 L63.0,527.48 L63.5,529.68 L64.0,532.02 L64.5,534.83 L65.0,538.29 L65.5,542.31 L66.0,546.96 L66.5,551.73 L67.0,556.94 L67.5,562.25 L68.0,567.69 L68.5,572.77 L69.0,577.83 L69.5,582.98 L70.0,588.47 L70.5,594.61 L71.0,601.42 L71.5,608.00 L72.0,614.09 L72.5,619.79 L73.0,624.66 L73.5,628.44 L74.0,630.82 L74.5,631.36 L75.0,629.88 L75.5,627.35 L76.0,623.03 L76.5,618.03 L77.0,612.16 L77.5,605.83 L78.0,599.29 L78.5,593.24 L79.0,587.03 L79.5,581.83 L80.0,576.90 L80.5,571.86 L81.0,566.24 L81.5,560.68 L82.0,555.17 L82.5,549.73 L83.0,545.06 L83.5,541.12 L84.0,538.15 L84.5,536.29 L85.0,535.66 L85.5,535.81 L86.0,536.36 L86.5,537.16 L87.0,538.08 L87.5,538.90 L88.0,540.01 L88.5,541.41 L89.0,542.81 L89.5,544.23 L90.0,545.35 L90.5,546.67 L91.0,547.97 L91.5,548.89 L92.0,550.27 L92.5,551.68 L93.0,553.06 L93.5,554.61 L94.0,555.93 L94.5,557.35 L95.0,559.17 L95.5,560.56 L96.0,562.03 L96.5,563.22 L97.0,564.28 L97.5,565.39 L98.0,566.27 L98.5,566.90 L99.0,567.43 L99.5,567.64 L100.0,567.47 L100.5,567.03 L101.0,566.42 L101.5,565.91 L102.0,564.99 L102.5,563.88 L103.0,562.94 L103.5,561.46 L104.0,560.26 L104.5,558.89 L105.0,557.40 L105.5,556.23 L106.0,554.82 L106.5,553.55 L107.0,552.23 L107.5,551.24 L108.0,550.30 L108.5,549.55 L109.0,548.69 L109.5,547.86 L110.0,546.71 L110.5,545.96 L111.0,545.04 L111.5,544.19 L112.0,542.98 L112.5,542.42 L113.0,541.42 L113.5,540.76 L114.0,540.00 L114.5,539.32 L115.0,538.93 L115.5,538.42 L116.0,538.06 L116.5,537.68 L117.0,537.34 L117.5,537.48 L118.0,537.46 L118.5,537.60 L119.0,537.52 L119.5,537.50 L120.0,537.68 L120.5,537.64 L121.0,537.82 L121.5,537.95 L122.0,538.13 L122.5,538.21 L123.0,538.29 L123.5,538.55 L124.0,538.74 L124.5,538.87 L125.0,539.02 L125.5,539.09 L126.0,539.32 L126.5,539.31 L127.0,539.32 L127.5,539.58 L128.0,539.84 L128.5,539.66 L129.0,539.67 L129.5,540.14 L130.0,539.93 L130.5,540.21 L131.0,540.16 L131.5,540.40 L132.0,540.28 L132.5,540.38 L133.0,540.58 L133.5,540.62 L134.0,540.78 L134.5,540.95 L135.0,540.83 L135.5,540.94 L136.0,541.00 L136.5,541.04 L137.0,541.24 L137.5,541.20 L138.0,541.34 L138.5,541.51 L139.0,541.31 L139.5,541.47 L140.0,541.55 L140.5,541.59 L141.0,541.79 L141.5,541.79 L142.0,541.81 L142.5,541.78 L143.0,542.07 L143.5,541.65 L144.0,541.78 L144.5,541.97 L145.0,542.14 L145.5,542.00 L146.0,542.11 L146.5,541.99 L147.0,542.15 L147.5,542.13 L148.0,542.25 L148.5,542.19 L149.0,542.19 L149.5,542.25 L150.0,542.14 L150.5,542.35 L151.0,542.45 L151.5,542.34 L152.0,542.56 L152.5,542.52 L153.0,542.40 L153.5,542.61 L154.0,542.49 L154.5,542.70 L155.0,542.48 L155.5,542.59 L156.0,542.45 L156.5,542.65 L157.0,542.62 L157.5,542.66 L158.0,542.88 L158.5,542.90 L159.0,542.96 L159.5,542.84 L160.0,542.97 L160.5,542.73 L161.0,542.82 L161.5,542.96 L162.0,542.97 L162.5,542.97 L163.0,543.18 L163.5,543.27 L164.0,543.10 L164.5,543.28 L165.0,543.15 L165.5,543.14 L166.0,543.32 L166.5,543.28 L167.0,543.13 L167.5,543.31 L168.0,543.42 L168.5,543.19 L169.0,543.30 L169.5,543.41 L170.0,543.30 L170.5,543.35 L171.0,543.58 L171.5,543.65 L172.0,543.48 L172.5,543.48 L173.0,543.52 L173.5,543.40 L174.0,543.61 L174.5,543.68 L175.0,543.74 L175.5,543.88 L176.0,543.62 L176.5,543.84 L177.0,543.77 L177.5,543.74 L178.0,543.88 L178.5,543.80 L179.0,543.77 L179.5,543.94 L180.0,543.83 L180.5,543.94 L181.0,544.01 L181.5,543.98 L182.0,543.87 L182.5,544.07 L183.0,544.12 L183.5,543.94 L184.0,543.96 L184.5,543.85 L185.0,544.07 L185.5,543.98 L186.0,544.15 L186.5,544.19 L187.0,544.29 L187.5,544.16 L188.0,544.16 L188.5,544.28 L189.0,544.22 L189.5,544.29 L190.0,544.35 L190.5,544.20 L191.0,544.48 L191.5,544.34 L192.0,544.48 L192.5,544.49 L193.0,544.34 L193.5,544.26 L194.0,544.53 L194.5,544.57 L195.0,544.43 L195.5,544.48 L196.0,544.46 L196.5,544.56 L197.0,544.39 L197.5,544.53 L198.0,544.65 L198.5,544.65 L199.0,544.50 L199.5,544.77 L200.0,544.54 L200.5,544.67 L201.0,544.58 L201.5,544.69 L202.0,544.69 L202.5,544.74 L203.0,544.85 L203.5,544.63 L204.0,544.70 L204.5,544.80 L205.0,544.65 L205.5,544.82 L206.0,544.81 L206.5,544.81 L207.0,544.90 L207.5,544.96 L208.0,544.86 L208.5,544.81 L209.0,544.92 L209.5,544.75 L210.0,544.95 L210.5,544.99 L211.0,545.02 L211.5,545.15 L212.0,544.81 L212.5,544.97 L213.0,544.79 L213.5,544.93 L214.0,544.87 L214.5,545.07 L215.0,545.08 L215.5,544.88 L216.0,545.06 L216.5,545.08 L217.0,545.17 L217.5,544.95 L218.0,545.16 L218.5,545.07 L219.0,545.07 L219.5,545.17 L220.0,545.16 L220.5,545.14 L221.0,545.21 L221.5,545.30 L222.0,545.34 L222.5,545.20 L223.0,545.23 L223.5,544.99 L224.0,545.26 L224.5,544.98 L225.0,545.20 L225.5,545.28 L226.0,545.11 L226.5,545.21 L227.0,545.12 L227.5,545.36 L228.0,545.22 L228.5,545.36 L229.0,545.20 L229.5,545.29 L230.0,545.14 L230.5,545.12 L231.0,545.43 L231.5,545.47 L232.0,545.24 L232.5,545.23 L233.0,545.25 L233.5,545.31 L234.0,545.21 L234.5,545.38 L235.0,545.31 L235.5,545.35 L236.0,545.28 L236.5,545.42 L237.0,545.22 L237.5,545.17 L238.0,545.29 L238.5,545.34 L239.0,545.36 L239.5,545.28 L240.0,545.23 L240.5,545.26 L241.0,545.60 L241.3,545.16" fill="none" stroke="#d95319" stroke-width="0.8" stroke-linejoin="round" opacity="1.0"/>
</g>
<rect x="184.30" y="508.90" width="52.10" height="63.40" fill="#fff" stroke="#a8a8a8" stroke-width="0.9"/>
<line x1="186.30" y1="515.40" x2="203.80" y2="515.40" stroke="#0072bd" stroke-width="0.9" opacity="0.8"/>
<text x="207.50" y="518.30" font-size="8.3" text-anchor="start" font-weight="bold" fill="#111" >0.2 ps</text>
<line x1="186.30" y1="525.60" x2="203.80" y2="525.60" stroke="#d95319" stroke-width="0.9" opacity="0.8"/>
<text x="207.50" y="528.50" font-size="8.3" text-anchor="start" font-weight="bold" fill="#111" >1 ps</text>
<line x1="186.30" y1="535.80" x2="203.80" y2="535.80" stroke="#edb120" stroke-width="0.9" opacity="0.8"/>
<text x="207.50" y="538.70" font-size="8.3" text-anchor="start" font-weight="bold" fill="#111" >5 ps</text>
<line x1="186.30" y1="546.00" x2="203.80" y2="546.00" stroke="#7e2f8e" stroke-width="0.9" opacity="0.8"/>
<text x="207.50" y="548.90" font-size="8.3" text-anchor="start" font-weight="bold" fill="#111" >10 ps</text>
<line x1="186.30" y1="556.30" x2="203.80" y2="556.30" stroke="#77ac30" stroke-width="0.9" opacity="0.8"/>
<text x="207.50" y="559.20" font-size="8.3" text-anchor="start" font-weight="bold" fill="#111" >40 ps</text>
<line x1="186.30" y1="566.50" x2="203.80" y2="566.50" stroke="#4dbeee" stroke-width="0.9" opacity="0.8"/>
<text x="207.50" y="569.40" font-size="8.3" text-anchor="start" font-weight="bold" fill="#111" >100 ps</text>
<text x="104.20" y="518.40" font-size="13" fill="#858585" text-anchor="middle"><<tspan font-style="italic">n</tspan>> = 2</text>
<text x="52.90" y="560.50" font-size="13" fill="#858585" text-anchor="middle"><tspan font-style="italic">n</tspan> = 1</text>
<text x="80.00" y="625.00" font-size="13" fill="#858585" text-anchor="middle"><tspan font-style="italic">n</tspan> = 2</text>
<text x="103.50" y="576.00" font-size="13" fill="#858585" text-anchor="middle"><tspan font-style="italic">n</tspan> = 3</text>
<rect x="314.50" y="501.20" width="191.90" height="134.60" fill="none" stroke="#b4b4b4" stroke-width="1.0"/>
<line x1="314.50" y1="635.80" x2="314.50" y2="633.60" stroke="#b4b4b4" stroke-width="0.9"/>
<line x1="314.50" y1="501.20" x2="314.50" y2="503.40" stroke="#b4b4b4" stroke-width="0.9"/>
<line x1="362.48" y1="635.80" x2="362.48" y2="633.60" stroke="#b4b4b4" stroke-width="0.9"/>
<line x1="362.48" y1="501.20" x2="362.48" y2="503.40" stroke="#b4b4b4" stroke-width="0.9"/>
<line x1="410.45" y1="635.80" x2="410.45" y2="633.60" stroke="#b4b4b4" stroke-width="0.9"/>
<line x1="410.45" y1="501.20" x2="410.45" y2="503.40" stroke="#b4b4b4" stroke-width="0.9"/>
<line x1="458.42" y1="635.80" x2="458.42" y2="633.60" stroke="#b4b4b4" stroke-width="0.9"/>
<line x1="458.42" y1="501.20" x2="458.42" y2="503.40" stroke="#b4b4b4" stroke-width="0.9"/>
<line x1="506.40" y1="635.80" x2="506.40" y2="633.60" stroke="#b4b4b4" stroke-width="0.9"/>
<line x1="506.40" y1="501.20" x2="506.40" y2="503.40" stroke="#b4b4b4" stroke-width="0.9"/>
<line x1="314.50" y1="501.00" x2="316.70" y2="501.00" stroke="#b4b4b4" stroke-width="0.9"/>
<line x1="506.40" y1="501.00" x2="504.20" y2="501.00" stroke="#b4b4b4" stroke-width="0.9"/>
<line x1="314.50" y1="534.60" x2="316.70" y2="534.60" stroke="#b4b4b4" stroke-width="0.9"/>
<line x1="506.40" y1="534.60" x2="504.20" y2="534.60" stroke="#b4b4b4" stroke-width="0.9"/>
<line x1="314.50" y1="568.20" x2="316.70" y2="568.20" stroke="#b4b4b4" stroke-width="0.9"/>
<line x1="506.40" y1="568.20" x2="504.20" y2="568.20" stroke="#b4b4b4" stroke-width="0.9"/>
<line x1="314.50" y1="601.80" x2="316.70" y2="601.80" stroke="#b4b4b4" stroke-width="0.9"/>
<line x1="506.40" y1="601.80" x2="504.20" y2="601.80" stroke="#b4b4b4" stroke-width="0.9"/>
<line x1="314.50" y1="635.40" x2="316.70" y2="635.40" stroke="#b4b4b4" stroke-width="0.9"/>
<line x1="506.40" y1="635.40" x2="504.20" y2="635.40" stroke="#b4b4b4" stroke-width="0.9"/>
<text x="314.50" y="647.30" font-size="9.5" text-anchor="middle" font-weight="bold" fill="#111" >400</text>
<text x="362.48" y="647.30" font-size="9.5" text-anchor="middle" font-weight="bold" fill="#111" >450</text>
<text x="410.45" y="647.30" font-size="9.5" text-anchor="middle" font-weight="bold" fill="#111" >500</text>
<text x="458.42" y="647.30" font-size="9.5" text-anchor="middle" font-weight="bold" fill="#111" >550</text>
<text x="506.40" y="647.30" font-size="9.5" text-anchor="middle" font-weight="bold" fill="#111" >600</text>
<text x="309.50" y="504.40" font-size="9.5" text-anchor="end" font-weight="bold" fill="#111" >0.02</text>
<text x="309.50" y="538.00" font-size="9.5" text-anchor="end" font-weight="bold" fill="#111" >0</text>
<text x="309.50" y="571.60" font-size="9.5" text-anchor="end" font-weight="bold" fill="#111" >−0.02</text>
<text x="309.50" y="605.20" font-size="9.5" text-anchor="end" font-weight="bold" fill="#111" >−0.04</text>
<text x="309.50" y="638.80" font-size="9.5" text-anchor="end" font-weight="bold" fill="#111" >−0.06</text>
<text x="410.45" y="663.40" font-size="11.3" text-anchor="middle" font-weight="bold" fill="#111" >Wavelength (nm)</text>
<text transform="translate(276.50,570.80) rotate(-90)" font-size="14.5" text-anchor="middle" fill="#111">ΔOD</text>
<clipPath id="ce2"><rect x="314.5" y="501.2" width="191.89999999999998" height="134.59999999999997"/></clipPath>
<g clip-path="url(#ce2)">
<path d="M314.5,530.13 L315.0,530.58 L315.5,530.50 L316.0,530.65 L316.5,530.10 L317.0,530.83 L317.5,530.53 L318.0,530.15 L318.5,530.09 L319.0,530.11 L319.5,530.28 L320.0,530.86 L320.5,530.77 L321.0,530.36 L321.5,530.38 L322.0,531.16 L322.5,530.89 L323.0,530.43 L323.5,530.68 L324.0,530.66 L324.5,530.90 L325.0,531.20 L325.5,530.93 L326.0,531.20 L326.5,531.35 L327.0,531.50 L327.5,531.17 L328.0,531.38 L328.5,532.13 L329.0,531.57 L329.5,531.73 L330.0,531.94 L330.5,531.72 L331.0,531.87 L331.5,532.57 L332.0,532.53 L332.5,531.89 L333.0,532.31 L333.5,531.96 L334.0,531.95 L334.5,532.46 L335.0,532.96 L335.5,532.51 L336.0,533.02 L336.5,532.30 L337.0,532.70 L337.5,532.72 L338.0,532.76 L338.5,533.07 L339.0,532.98 L339.5,532.68 L340.0,532.48 L340.5,532.75 L341.0,532.95 L341.5,532.83 L342.0,532.57 L342.5,532.54 L343.0,533.34 L343.5,533.21 L344.0,532.99 L344.5,533.34 L345.0,533.39 L345.5,533.21 L346.0,533.17 L346.5,533.68 L347.0,533.62 L347.5,533.82 L348.0,533.73 L348.5,533.53 L349.0,533.34 L349.5,533.40 L350.0,533.35 L350.5,533.57 L351.0,533.64 L351.5,533.95 L352.0,534.03 L352.5,533.64 L353.0,533.78 L353.5,533.33 L354.0,533.49 L354.5,533.39 L355.0,533.76 L355.5,533.58 L356.0,533.52 L356.5,533.75 L357.0,533.21 L357.5,533.75 L358.0,533.92 L358.5,534.16 L359.0,533.44 L359.5,533.67 L360.0,533.18 L360.5,534.20 L361.0,533.74 L361.5,533.86 L362.0,533.33 L362.5,533.71 L363.0,533.60 L363.5,533.41 L364.0,533.42 L364.5,533.48 L365.0,533.50 L365.5,533.23 L366.0,534.15 L366.5,533.73 L367.0,533.77 L367.5,533.76 L368.0,533.64 L368.5,533.67 L369.0,533.85 L369.5,533.60 L370.0,534.05 L370.5,533.59 L371.0,534.00 L371.5,533.37 L372.0,533.72 L372.5,533.83 L373.0,534.01 L373.5,534.00 L374.0,533.30 L374.5,533.39 L375.0,534.04 L375.5,533.45 L376.0,533.10 L376.5,533.87 L377.0,533.71 L377.5,533.16 L378.0,533.33 L378.5,533.88 L379.0,533.35 L379.5,533.31 L380.0,533.34 L380.5,533.84 L381.0,532.95 L381.5,533.52 L382.0,533.43 L382.5,533.52 L383.0,533.59 L383.5,533.37 L384.0,533.52 L384.5,533.47 L385.0,533.75 L385.5,532.66 L386.0,533.28 L386.5,533.34 L387.0,532.91 L387.5,533.70 L388.0,533.45 L388.5,532.79 L389.0,533.20 L389.5,533.48 L390.0,533.30 L390.5,533.05 L391.0,533.43 L391.5,533.34 L392.0,532.98 L392.5,533.18 L393.0,533.62 L393.5,533.58 L394.0,532.95 L394.5,533.04 L395.0,533.63 L395.5,533.39 L396.0,533.23 L396.5,533.12 L397.0,533.26 L397.5,533.47 L398.0,532.52 L398.5,533.45 L399.0,532.93 L399.5,532.81 L400.0,533.00 L400.5,532.88 L401.0,532.90 L401.5,533.21 L402.0,533.07 L402.5,533.49 L403.0,532.75 L403.5,533.43 L404.0,532.85 L404.5,533.25 L405.0,533.10 L405.5,533.48 L406.0,532.83 L406.5,533.22 L407.0,533.66 L407.5,533.58 L408.0,533.13 L408.5,533.43 L409.0,533.53 L409.5,533.36 L410.0,533.56 L410.5,533.51 L411.0,532.55 L411.5,533.40 L412.0,534.27 L412.5,533.11 L413.0,533.13 L413.5,533.23 L414.0,532.98 L414.5,533.12 L415.0,533.19 L415.5,533.81 L416.0,533.15 L416.5,533.39 L417.0,533.16 L417.5,532.94 L418.0,533.02 L418.5,532.89 L419.0,533.62 L419.5,533.14 L420.0,532.79 L420.5,533.21 L421.0,533.83 L421.5,533.30 L422.0,533.21 L422.5,533.30 L423.0,533.10 L423.5,532.91 L424.0,533.61 L424.5,532.23 L425.0,533.06 L425.5,532.95 L426.0,533.15 L426.5,533.00 L427.0,533.55 L427.5,533.68 L428.0,533.26 L428.5,532.84 L429.0,533.00 L429.5,533.11 L430.0,532.95 L430.5,532.85 L431.0,533.74 L431.5,533.50 L432.0,532.93 L432.5,532.96 L433.0,533.24 L433.5,533.02 L434.0,533.39 L434.5,533.46 L435.0,533.23 L435.5,532.94 L436.0,533.13 L436.5,532.73 L437.0,533.11 L437.5,533.76 L438.0,533.06 L438.5,533.43 L439.0,533.58 L439.5,533.70 L440.0,532.83 L440.5,533.16 L441.0,533.06 L441.5,533.63 L442.0,533.55 L442.5,532.91 L443.0,533.06 L443.5,533.34 L444.0,533.85 L444.5,533.12 L445.0,533.60 L445.5,532.98 L446.0,532.87 L446.5,533.48 L447.0,533.00 L447.5,532.77 L448.0,533.61 L448.5,533.42 L449.0,532.86 L449.5,533.50 L450.0,533.37 L450.5,533.41 L451.0,532.93 L451.5,533.12 L452.0,532.61 L452.5,532.61 L453.0,533.49 L453.5,533.11 L454.0,533.31 L454.5,533.19 L455.0,533.10 L455.5,533.10 L456.0,533.40 L456.5,533.19 L457.0,532.80 L457.5,533.60 L458.0,533.68 L458.5,533.49 L459.0,533.71 L459.5,533.32 L460.0,533.28 L460.5,533.61 L461.0,533.44 L461.5,532.92 L462.0,533.23 L462.5,533.31 L463.0,533.94 L463.5,533.30 L464.0,533.06 L464.5,532.96 L465.0,533.24 L465.5,533.10 L466.0,533.26 L466.5,532.99 L467.0,532.81 L467.5,533.21 L468.0,533.40 L468.5,533.34 L469.0,532.85 L469.5,533.22 L470.0,533.55 L470.5,533.40 L471.0,533.12 L471.5,533.18 L472.0,533.18 L472.5,533.38 L473.0,533.21 L473.5,533.46 L474.0,533.38 L474.5,533.38 L475.0,533.57 L475.5,533.59 L476.0,533.22 L476.5,533.26 L477.0,533.62 L477.5,533.26 L478.0,532.98 L478.5,533.18 L479.0,533.04 L479.5,533.35 L480.0,533.39 L480.5,533.77 L481.0,533.50 L481.5,533.55 L482.0,533.82 L482.5,533.60 L483.0,533.12 L483.5,533.36 L484.0,533.20 L484.5,533.34 L485.0,533.75 L485.5,534.25 L486.0,533.65 L486.5,533.48 L487.0,533.20 L487.5,533.50 L488.0,533.88 L488.5,533.19 L489.0,533.56 L489.5,533.68 L490.0,533.72 L490.5,534.15 L491.0,533.45 L491.5,533.53 L492.0,533.15 L492.5,533.32 L493.0,533.19 L493.5,533.50 L494.0,533.60 L494.5,533.68 L495.0,533.72 L495.5,533.34 L496.0,533.19 L496.5,533.20 L497.0,533.41 L497.5,533.37 L498.0,533.16 L498.5,533.63 L499.0,533.19 L499.5,533.49 L500.0,533.35 L500.5,533.63 L501.0,533.68 L501.5,533.27 L502.0,533.67 L502.5,534.15 L503.0,533.70 L503.5,533.25 L504.0,534.23 L504.5,533.30 L505.0,533.80 L505.5,533.27 L506.0,533.81 L506.4,533.55" fill="none" stroke="#0072bd" stroke-width="0.8" stroke-linejoin="round" opacity="1.0"/>
<path d="M314.5,525.53 L315.0,525.12 L315.5,525.05 L316.0,524.86 L316.5,524.40 L317.0,524.31 L317.5,524.34 L318.0,524.20 L318.5,524.15 L319.0,524.01 L319.5,524.14 L320.0,524.11 L320.5,524.02 L321.0,524.12 L321.5,524.05 L322.0,523.91 L322.5,524.11 L323.0,524.18 L323.5,524.69 L324.0,525.02 L324.5,525.53 L325.0,526.08 L325.5,526.93 L326.0,527.50 L326.5,528.21 L327.0,528.98 L327.5,529.84 L328.0,530.59 L328.5,531.34 L329.0,532.04 L329.5,532.96 L330.0,533.55 L330.5,534.48 L331.0,535.47 L331.5,536.69 L332.0,537.87 L332.5,538.91 L333.0,540.02 L333.5,541.21 L334.0,542.53 L334.5,543.69 L335.0,544.78 L335.5,545.71 L336.0,546.79 L336.5,547.68 L337.0,548.49 L337.5,549.25 L338.0,549.75 L338.5,550.21 L339.0,550.42 L339.5,550.53 L340.0,550.41 L340.5,549.77 L341.0,549.22 L341.5,548.36 L342.0,547.35 L342.5,546.30 L343.0,545.34 L343.5,543.95 L344.0,543.03 L344.5,541.73 L345.0,540.97 L345.5,540.13 L346.0,539.20 L346.5,538.18 L347.0,537.14 L347.5,536.00 L348.0,535.02 L348.5,534.29 L349.0,533.46 L349.5,532.80 L350.0,532.47 L350.5,532.41 L351.0,532.73 L351.5,533.10 L352.0,533.73 L352.5,534.34 L353.0,535.22 L353.5,536.15 L354.0,536.96 L354.5,537.92 L355.0,538.63 L355.5,539.38 L356.0,539.96 L356.5,540.39 L357.0,541.09 L357.5,541.53 L358.0,542.12 L358.5,542.69 L359.0,543.18 L359.5,543.67 L360.0,544.03 L360.5,544.37 L361.0,544.72 L361.5,544.80 L362.0,544.98 L362.5,545.07 L363.0,545.03 L363.5,544.90 L364.0,544.33 L364.5,543.78 L365.0,543.23 L365.5,542.25 L366.0,541.48 L366.5,540.38 L367.0,539.51 L367.5,538.50 L368.0,537.66 L368.5,536.94 L369.0,535.94 L369.5,535.53 L370.0,535.02 L370.5,534.53 L371.0,534.04 L371.5,533.78 L372.0,533.32 L372.5,533.01 L373.0,532.61 L373.5,532.42 L374.0,531.91 L374.5,531.54 L375.0,531.40 L375.5,531.19 L376.0,531.13 L376.5,530.96 L377.0,530.85 L377.5,530.95 L378.0,530.69 L378.5,530.76 L379.0,530.76 L379.5,530.85 L380.0,530.79 L380.5,531.05 L381.0,531.02 L381.5,530.95 L382.0,531.06 L382.5,531.27 L383.0,531.40 L383.5,531.59 L384.0,531.76 L384.5,531.60 L385.0,531.54 L385.5,531.52 L386.0,531.84 L386.5,531.82 L387.0,531.95 L387.5,532.01 L388.0,532.15 L388.5,532.35 L389.0,532.33 L389.5,532.38 L390.0,532.36 L390.5,532.36 L391.0,532.54 L391.5,532.64 L392.0,532.86 L392.5,532.74 L393.0,532.86 L393.5,532.73 L394.0,532.68 L394.5,532.71 L395.0,532.75 L395.5,533.04 L396.0,532.76 L396.5,532.94 L397.0,532.77 L397.5,532.97 L398.0,532.92 L398.5,532.88 L399.0,532.90 L399.5,532.85 L400.0,532.97 L400.5,532.89 L401.0,532.82 L401.5,532.82 L402.0,532.98 L402.5,533.13 L403.0,532.99 L403.5,532.98 L404.0,533.03 L404.5,533.14 L405.0,533.04 L405.5,532.98 L406.0,533.14 L406.5,533.09 L407.0,533.20 L407.5,533.08 L408.0,532.95 L408.5,532.94 L409.0,533.25 L409.5,533.27 L410.0,533.08 L410.5,533.07 L411.0,533.27 L411.5,533.02 L412.0,533.05 L412.5,533.21 L413.0,533.11 L413.5,533.16 L414.0,533.15 L414.5,533.21 L415.0,533.32 L415.5,533.20 L416.0,533.26 L416.5,533.00 L417.0,533.21 L417.5,533.14 L418.0,533.11 L418.5,533.15 L419.0,533.21 L419.5,533.34 L420.0,533.13 L420.5,533.27 L421.0,533.22 L421.5,533.25 L422.0,533.39 L422.5,533.35 L423.0,533.44 L423.5,533.29 L424.0,533.25 L424.5,533.30 L425.0,533.35 L425.5,533.35 L426.0,533.23 L426.5,533.36 L427.0,533.38 L427.5,533.61 L428.0,533.55 L428.5,533.29 L429.0,533.35 L429.5,533.24 L430.0,533.33 L430.5,533.43 L431.0,533.52 L431.5,533.34 L432.0,533.35 L432.5,533.21 L433.0,533.41 L433.5,533.33 L434.0,533.39 L434.5,533.36 L435.0,533.44 L435.5,533.28 L436.0,533.31 L436.5,533.68 L437.0,533.34 L437.5,533.37 L438.0,533.67 L438.5,533.78 L439.0,533.38 L439.5,533.46 L440.0,533.54 L440.5,533.68 L441.0,533.41 L441.5,533.49 L442.0,533.60 L442.5,533.57 L443.0,533.49 L443.5,533.52 L444.0,533.40 L444.5,533.52 L445.0,533.52 L445.5,533.58 L446.0,533.50 L446.5,533.61 L447.0,533.67 L447.5,533.59 L448.0,533.61 L448.5,533.59 L449.0,533.59 L449.5,533.52 L450.0,533.63 L450.5,533.59 L451.0,533.81 L451.5,533.76 L452.0,533.65 L452.5,533.54 L453.0,533.51 L453.5,533.74 L454.0,533.65 L454.5,533.68 L455.0,533.46 L455.5,533.73 L456.0,533.68 L456.5,533.53 L457.0,533.60 L457.5,533.68 L458.0,533.66 L458.5,533.63 L459.0,533.65 L459.5,533.64 L460.0,533.68 L460.5,533.82 L461.0,533.42 L461.5,533.65 L462.0,533.70 L462.5,533.71 L463.0,533.65 L463.5,533.51 L464.0,533.72 L464.5,533.87 L465.0,533.54 L465.5,533.78 L466.0,533.67 L466.5,533.70 L467.0,533.60 L467.5,533.68 L468.0,533.84 L468.5,533.77 L469.0,533.89 L469.5,533.84 L470.0,533.76 L470.5,533.90 L471.0,533.77 L471.5,533.81 L472.0,533.70 L472.5,533.74 L473.0,533.66 L473.5,533.84 L474.0,533.62 L474.5,533.82 L475.0,533.72 L475.5,533.86 L476.0,533.82 L476.5,533.93 L477.0,533.82 L477.5,533.59 L478.0,533.75 L478.5,533.64 L479.0,533.71 L479.5,533.91 L480.0,533.82 L480.5,533.69 L481.0,533.66 L481.5,533.77 L482.0,533.64 L482.5,533.70 L483.0,533.80 L483.5,533.89 L484.0,533.83 L484.5,533.54 L485.0,533.80 L485.5,533.78 L486.0,533.82 L486.5,533.94 L487.0,533.57 L487.5,533.72 L488.0,533.84 L488.5,533.62 L489.0,533.93 L489.5,533.82 L490.0,533.87 L490.5,533.73 L491.0,533.87 L491.5,533.89 L492.0,533.81 L492.5,533.81 L493.0,533.82 L493.5,533.70 L494.0,533.78 L494.5,533.78 L495.0,533.83 L495.5,533.89 L496.0,533.69 L496.5,533.78 L497.0,533.94 L497.5,533.72 L498.0,533.71 L498.5,533.82 L499.0,533.88 L499.5,533.80 L500.0,533.93 L500.5,533.88 L501.0,533.88 L501.5,533.85 L502.0,534.03 L502.5,533.78 L503.0,533.60 L503.5,533.96 L504.0,533.75 L504.5,533.81 L505.0,533.93 L505.5,533.64 L506.0,533.67 L506.4,533.64" fill="none" stroke="#4dbeee" stroke-width="0.8" stroke-linejoin="round" opacity="1.0"/>
<path d="M314.5,525.22 L315.0,525.04 L315.5,524.72 L316.0,524.52 L316.5,524.27 L317.0,524.45 L317.5,524.26 L318.0,524.20 L318.5,524.04 L319.0,524.20 L319.5,524.14 L320.0,524.01 L320.5,523.95 L321.0,523.97 L321.5,523.92 L322.0,524.00 L322.5,524.02 L323.0,524.37 L323.5,524.64 L324.0,525.13 L324.5,525.92 L325.0,526.39 L325.5,527.09 L326.0,528.14 L326.5,528.81 L327.0,530.01 L327.5,531.07 L328.0,532.00 L328.5,533.02 L329.0,533.83 L329.5,535.09 L330.0,536.04 L330.5,536.93 L331.0,538.48 L331.5,539.57 L332.0,541.05 L332.5,542.68 L333.0,544.57 L333.5,546.36 L334.0,548.15 L334.5,549.84 L335.0,551.53 L335.5,553.37 L336.0,554.77 L336.5,556.20 L337.0,557.78 L337.5,558.79 L338.0,559.75 L338.5,560.47 L339.0,560.79 L339.5,560.95 L340.0,560.89 L340.5,560.27 L341.0,559.58 L341.5,558.52 L342.0,557.19 L342.5,556.02 L343.0,554.28 L343.5,552.84 L344.0,551.19 L344.5,549.67 L345.0,547.83 L345.5,546.36 L346.0,544.99 L346.5,543.51 L347.0,541.80 L347.5,539.84 L348.0,537.88 L348.5,536.15 L349.0,534.66 L349.5,533.06 L350.0,532.41 L350.5,532.28 L351.0,532.42 L351.5,533.02 L352.0,533.52 L352.5,534.29 L353.0,535.44 L353.5,536.11 L354.0,537.40 L354.5,538.72 L355.0,539.45 L355.5,540.34 L356.0,540.90 L356.5,541.61 L357.0,542.24 L357.5,543.09 L358.0,543.45 L358.5,543.90 L359.0,544.83 L359.5,545.51 L360.0,545.81 L360.5,546.15 L361.0,546.61 L361.5,547.06 L362.0,547.16 L362.5,547.30 L363.0,546.98 L363.5,546.84 L364.0,546.44 L364.5,545.62 L365.0,544.68 L365.5,543.91 L366.0,542.84 L366.5,541.57 L367.0,540.41 L367.5,539.48 L368.0,538.22 L368.5,537.24 L369.0,536.54 L369.5,535.61 L370.0,534.95 L370.5,534.30 L371.0,534.00 L371.5,533.48 L372.0,532.93 L372.5,532.60 L373.0,531.92 L373.5,531.46 L374.0,531.13 L374.5,530.84 L375.0,530.38 L375.5,530.14 L376.0,529.96 L376.5,529.89 L377.0,529.74 L377.5,529.89 L378.0,529.58 L378.5,529.86 L379.0,529.80 L379.5,529.94 L380.0,530.14 L380.5,530.00 L381.0,530.09 L381.5,530.23 L382.0,530.09 L382.5,530.37 L383.0,530.48 L383.5,530.48 L384.0,530.65 L384.5,530.70 L385.0,530.71 L385.5,530.76 L386.0,531.09 L386.5,531.28 L387.0,531.12 L387.5,531.34 L388.0,531.28 L388.5,531.45 L389.0,531.55 L389.5,531.57 L390.0,531.76 L390.5,531.95 L391.0,531.98 L391.5,531.94 L392.0,532.19 L392.5,532.12 L393.0,532.32 L393.5,532.04 L394.0,532.49 L394.5,532.19 L395.0,532.11 L395.5,532.13 L396.0,532.35 L396.5,532.36 L397.0,532.37 L397.5,532.36 L398.0,532.21 L398.5,532.32 L399.0,532.12 L399.5,532.28 L400.0,532.45 L400.5,532.21 L401.0,532.65 L401.5,532.55 L402.0,532.33 L402.5,532.53 L403.0,532.53 L403.5,532.47 L404.0,532.56 L404.5,532.49 L405.0,532.53 L405.5,532.60 L406.0,532.60 L406.5,532.60 L407.0,532.62 L407.5,532.70 L408.0,532.69 L408.5,532.51 L409.0,532.57 L409.5,532.80 L410.0,532.83 L410.5,532.74 L411.0,532.67 L411.5,532.79 L412.0,532.79 L412.5,532.58 L413.0,532.75 L413.5,532.62 L414.0,532.73 L414.5,532.79 L415.0,532.97 L415.5,532.60 L416.0,532.79 L416.5,532.90 L417.0,532.91 L417.5,532.94 L418.0,532.77 L418.5,532.87 L419.0,532.85 L419.5,533.04 L420.0,532.90 L420.5,532.93 L421.0,532.96 L421.5,532.82 L422.0,533.01 L422.5,532.86 L423.0,533.00 L423.5,532.92 L424.0,533.12 L424.5,533.02 L425.0,533.22 L425.5,532.81 L426.0,533.18 L426.5,533.14 L427.0,533.10 L427.5,533.30 L428.0,532.95 L428.5,533.12 L429.0,533.23 L429.5,533.18 L430.0,533.09 L430.5,533.20 L431.0,533.11 L431.5,533.12 L432.0,533.10 L432.5,533.28 L433.0,533.22 L433.5,533.45 L434.0,533.29 L434.5,533.06 L435.0,533.30 L435.5,533.12 L436.0,533.21 L436.5,533.26 L437.0,533.15 L437.5,533.21 L438.0,533.21 L438.5,533.30 L439.0,533.28 L439.5,533.29 L440.0,533.48 L440.5,533.37 L441.0,533.37 L441.5,533.44 L442.0,533.52 L442.5,533.49 L443.0,533.25 L443.5,533.41 L444.0,533.45 L444.5,533.47 L445.0,533.37 L445.5,533.40 L446.0,533.31 L446.5,533.37 L447.0,533.30 L447.5,533.55 L448.0,533.37 L448.5,533.34 L449.0,533.47 L449.5,533.46 L450.0,533.39 L450.5,533.50 L451.0,533.40 L451.5,533.52 L452.0,533.48 L452.5,533.51 L453.0,533.45 L453.5,533.43 L454.0,533.53 L454.5,533.35 L455.0,533.66 L455.5,533.48 L456.0,533.74 L456.5,533.60 L457.0,533.53 L457.5,533.49 L458.0,533.60 L458.5,533.60 L459.0,533.60 L459.5,533.65 L460.0,533.58 L460.5,533.69 L461.0,533.51 L461.5,533.57 L462.0,533.65 L462.5,533.52 L463.0,533.61 L463.5,533.76 L464.0,533.62 L464.5,533.57 L465.0,533.73 L465.5,533.51 L466.0,533.60 L466.5,533.74 L467.0,533.56 L467.5,533.67 L468.0,533.64 L468.5,533.81 L469.0,533.51 L469.5,533.61 L470.0,533.63 L470.5,533.71 L471.0,533.73 L471.5,533.72 L472.0,533.82 L472.5,533.75 L473.0,533.56 L473.5,533.55 L474.0,533.64 L474.5,533.64 L475.0,533.66 L475.5,533.81 L476.0,533.64 L476.5,533.82 L477.0,533.83 L477.5,533.72 L478.0,533.67 L478.5,533.85 L479.0,533.64 L479.5,533.78 L480.0,533.76 L480.5,533.86 L481.0,533.77 L481.5,533.74 L482.0,533.85 L482.5,533.71 L483.0,533.80 L483.5,533.76 L484.0,533.75 L484.5,533.60 L485.0,533.75 L485.5,533.66 L486.0,533.81 L486.5,534.00 L487.0,533.74 L487.5,533.86 L488.0,533.87 L488.5,533.65 L489.0,533.84 L489.5,533.74 L490.0,533.73 L490.5,533.86 L491.0,533.72 L491.5,533.73 L492.0,533.86 L492.5,533.91 L493.0,533.79 L493.5,533.85 L494.0,533.64 L494.5,533.78 L495.0,533.83 L495.5,533.70 L496.0,533.85 L496.5,533.82 L497.0,533.82 L497.5,533.91 L498.0,533.92 L498.5,533.67 L499.0,533.73 L499.5,533.85 L500.0,533.77 L500.5,534.00 L501.0,533.91 L501.5,533.72 L502.0,533.72 L502.5,533.67 L503.0,533.84 L503.5,533.74 L504.0,533.73 L504.5,533.67 L505.0,533.89 L505.5,533.73 L506.0,533.71 L506.4,533.61" fill="none" stroke="#77ac30" stroke-width="0.8" stroke-linejoin="round" opacity="1.0"/>
<path d="M314.5,522.64 L315.0,522.19 L315.5,521.94 L316.0,521.80 L316.5,521.58 L317.0,521.41 L317.5,521.20 L318.0,521.05 L318.5,521.12 L319.0,520.99 L319.5,521.10 L320.0,521.03 L320.5,520.93 L321.0,521.03 L321.5,521.14 L322.0,521.29 L322.5,521.52 L323.0,522.07 L323.5,522.63 L324.0,523.32 L324.5,524.04 L325.0,524.69 L325.5,525.61 L326.0,526.66 L326.5,527.42 L327.0,528.70 L327.5,529.61 L328.0,530.74 L328.5,532.03 L329.0,532.99 L329.5,534.30 L330.0,536.11 L330.5,538.18 L331.0,540.55 L331.5,543.32 L332.0,546.41 L332.5,549.34 L333.0,552.46 L333.5,555.68 L334.0,558.97 L334.5,562.16 L335.0,565.13 L335.5,568.24 L336.0,570.98 L336.5,573.69 L337.0,575.75 L337.5,577.82 L338.0,579.10 L338.5,580.33 L339.0,580.83 L339.5,580.86 L340.0,580.42 L340.5,579.04 L341.0,577.40 L341.5,575.20 L342.0,572.80 L342.5,570.02 L343.0,566.82 L343.5,564.05 L344.0,560.83 L344.5,558.07 L345.0,555.08 L345.5,552.44 L346.0,549.76 L346.5,547.83 L347.0,545.06 L347.5,542.20 L348.0,539.68 L348.5,537.28 L349.0,534.84 L349.5,533.42 L350.0,532.25 L350.5,531.95 L351.0,532.20 L351.5,532.69 L352.0,533.55 L352.5,534.51 L353.0,535.67 L353.5,536.88 L354.0,537.91 L354.5,539.22 L355.0,540.11 L355.5,541.26 L356.0,541.89 L356.5,542.66 L357.0,543.52 L357.5,544.14 L358.0,545.02 L358.5,545.58 L359.0,546.37 L359.5,547.16 L360.0,547.87 L360.5,548.15 L361.0,548.87 L361.5,549.09 L362.0,549.52 L362.5,549.37 L363.0,549.27 L363.5,549.04 L364.0,548.38 L364.5,547.79 L365.0,546.90 L365.5,546.04 L366.0,544.85 L366.5,543.52 L367.0,542.28 L367.5,541.07 L368.0,539.71 L368.5,538.49 L369.0,537.74 L369.5,536.38 L370.0,535.62 L370.5,534.59 L371.0,533.96 L371.5,533.25 L372.0,532.95 L372.5,532.19 L373.0,531.81 L373.5,531.01 L374.0,530.67 L374.5,530.20 L375.0,529.48 L375.5,529.29 L376.0,528.85 L376.5,528.62 L377.0,528.63 L377.5,528.68 L378.0,528.75 L378.5,528.61 L379.0,528.78 L379.5,528.80 L380.0,528.81 L380.5,528.80 L381.0,528.98 L381.5,529.42 L382.0,529.09 L382.5,529.28 L383.0,529.33 L383.5,529.68 L384.0,529.85 L384.5,529.94 L385.0,530.14 L385.5,530.07 L386.0,530.38 L386.5,530.28 L387.0,530.65 L387.5,530.78 L388.0,530.70 L388.5,530.99 L389.0,530.91 L389.5,531.00 L390.0,531.11 L390.5,531.25 L391.0,531.34 L391.5,531.53 L392.0,531.79 L392.5,531.65 L393.0,531.65 L393.5,531.84 L394.0,531.77 L394.5,531.83 L395.0,531.87 L395.5,531.90 L396.0,531.80 L396.5,531.87 L397.0,532.00 L397.5,531.89 L398.0,531.92 L398.5,531.99 L399.0,532.02 L399.5,531.96 L400.0,532.07 L400.5,532.03 L401.0,531.92 L401.5,532.13 L402.0,532.00 L402.5,532.40 L403.0,532.14 L403.5,532.10 L404.0,532.23 L404.5,532.31 L405.0,532.33 L405.5,532.23 L406.0,532.32 L406.5,532.30 L407.0,532.25 L407.5,532.11 L408.0,532.28 L408.5,532.04 L409.0,532.22 L409.5,532.46 L410.0,532.36 L410.5,532.35 L411.0,532.28 L411.5,532.30 L412.0,532.33 L412.5,532.27 L413.0,532.20 L413.5,532.54 L414.0,532.62 L414.5,532.40 L415.0,532.56 L415.5,532.37 L416.0,532.55 L416.5,532.39 L417.0,532.63 L417.5,532.56 L418.0,532.44 L418.5,532.63 L419.0,532.76 L419.5,532.60 L420.0,532.61 L420.5,532.63 L421.0,532.66 L421.5,532.78 L422.0,532.80 L422.5,532.47 L423.0,532.81 L423.5,532.68 L424.0,532.88 L424.5,532.78 L425.0,532.84 L425.5,532.70 L426.0,532.63 L426.5,532.80 L427.0,532.88 L427.5,532.87 L428.0,532.89 L428.5,532.84 L429.0,532.91 L429.5,532.76 L430.0,532.84 L430.5,532.71 L431.0,532.87 L431.5,532.86 L432.0,532.90 L432.5,533.01 L433.0,532.93 L433.5,532.64 L434.0,533.08 L434.5,532.97 L435.0,533.04 L435.5,532.89 L436.0,533.06 L436.5,533.14 L437.0,532.84 L437.5,533.13 L438.0,532.92 L438.5,532.95 L439.0,533.04 L439.5,533.26 L440.0,532.87 L440.5,533.00 L441.0,533.08 L441.5,533.15 L442.0,533.08 L442.5,533.14 L443.0,533.00 L443.5,533.19 L444.0,533.23 L444.5,533.02 L445.0,533.06 L445.5,533.19 L446.0,533.19 L446.5,533.22 L447.0,533.05 L447.5,533.14 L448.0,533.14 L448.5,533.33 L449.0,533.20 L449.5,533.16 L450.0,533.13 L450.5,533.23 L451.0,533.36 L451.5,533.09 L452.0,533.26 L452.5,533.31 L453.0,533.46 L453.5,533.34 L454.0,533.41 L454.5,533.29 L455.0,533.15 L455.5,533.15 L456.0,533.23 L456.5,533.32 L457.0,533.29 L457.5,533.27 L458.0,533.51 L458.5,533.09 L459.0,533.23 L459.5,533.59 L460.0,533.38 L460.5,533.29 L461.0,533.25 L461.5,533.45 L462.0,533.44 L462.5,533.46 L463.0,533.25 L463.5,533.40 L464.0,533.37 L464.5,533.45 L465.0,533.24 L465.5,533.47 L466.0,533.57 L466.5,533.28 L467.0,533.51 L467.5,533.60 L468.0,533.52 L468.5,533.43 L469.0,533.46 L469.5,533.39 L470.0,533.48 L470.5,533.35 L471.0,533.47 L471.5,533.38 L472.0,533.32 L472.5,533.63 L473.0,533.29 L473.5,533.66 L474.0,533.26 L474.5,533.58 L475.0,533.51 L475.5,533.33 L476.0,533.45 L476.5,533.40 L477.0,533.41 L477.5,533.60 L478.0,533.39 L478.5,533.32 L479.0,533.63 L479.5,533.56 L480.0,533.53 L480.5,533.50 L481.0,533.60 L481.5,533.57 L482.0,533.53 L482.5,533.48 L483.0,533.65 L483.5,533.69 L484.0,533.60 L484.5,533.85 L485.0,533.58 L485.5,533.57 L486.0,533.71 L486.5,533.59 L487.0,533.59 L487.5,533.53 L488.0,533.61 L488.5,533.40 L489.0,533.50 L489.5,533.46 L490.0,533.35 L490.5,533.69 L491.0,533.54 L491.5,533.49 L492.0,533.62 L492.5,533.45 L493.0,533.67 L493.5,533.73 L494.0,533.44 L494.5,533.71 L495.0,533.61 L495.5,533.70 L496.0,533.61 L496.5,533.50 L497.0,533.43 L497.5,533.48 L498.0,533.54 L498.5,533.70 L499.0,533.66 L499.5,533.63 L500.0,533.75 L500.5,533.41 L501.0,533.48 L501.5,533.48 L502.0,533.61 L502.5,533.43 L503.0,533.54 L503.5,533.74 L504.0,533.70 L504.5,533.76 L505.0,533.54 L505.5,533.50 L506.0,533.63 L506.4,533.51" fill="none" stroke="#7e2f8e" stroke-width="0.8" stroke-linejoin="round" opacity="1.0"/>
<path d="M314.5,521.95 L315.0,521.62 L315.5,521.42 L316.0,521.27 L316.5,520.98 L317.0,520.88 L317.5,520.79 L318.0,520.72 L318.5,520.50 L319.0,520.59 L319.5,520.52 L320.0,520.45 L320.5,520.43 L321.0,520.48 L321.5,520.48 L322.0,520.68 L322.5,521.23 L323.0,521.83 L323.5,522.38 L324.0,523.26 L324.5,524.02 L325.0,524.94 L325.5,525.95 L326.0,527.16 L326.5,528.58 L327.0,529.66 L327.5,530.80 L328.0,532.30 L328.5,533.61 L329.0,534.95 L329.5,536.58 L330.0,538.73 L330.5,541.41 L331.0,544.30 L331.5,547.73 L332.0,551.45 L332.5,555.40 L333.0,559.36 L333.5,563.56 L334.0,567.57 L334.5,571.28 L335.0,575.42 L335.5,579.18 L336.0,582.57 L336.5,585.52 L337.0,588.45 L337.5,590.74 L338.0,592.69 L338.5,594.03 L339.0,594.61 L339.5,594.34 L340.0,593.62 L340.5,591.92 L341.0,589.77 L341.5,586.87 L342.0,583.73 L342.5,580.19 L343.0,576.44 L343.5,572.76 L344.0,568.82 L344.5,564.97 L345.0,561.17 L345.5,557.89 L346.0,555.00 L346.5,552.08 L347.0,548.52 L347.5,545.31 L348.0,541.68 L348.5,538.48 L349.0,535.94 L349.5,533.62 L350.0,532.38 L350.5,532.10 L351.0,532.29 L351.5,532.65 L352.0,533.46 L352.5,534.41 L353.0,535.60 L353.5,536.76 L354.0,538.04 L354.5,539.16 L355.0,540.31 L355.5,541.17 L356.0,541.96 L356.5,542.55 L357.0,543.38 L357.5,544.04 L358.0,544.88 L358.5,545.86 L359.0,546.45 L359.5,547.11 L360.0,547.70 L360.5,548.21 L361.0,548.70 L361.5,549.16 L362.0,549.19 L362.5,549.33 L363.0,549.22 L363.5,548.97 L364.0,548.75 L364.5,547.97 L365.0,547.12 L365.5,545.80 L366.0,544.69 L366.5,543.76 L367.0,542.35 L367.5,541.22 L368.0,539.81 L368.5,538.85 L369.0,537.56 L369.5,536.45 L370.0,535.80 L370.5,534.70 L371.0,533.89 L371.5,533.31 L372.0,532.91 L372.5,532.07 L373.0,531.72 L373.5,530.86 L374.0,530.44 L374.5,529.79 L375.0,529.56 L375.5,529.19 L376.0,528.80 L376.5,528.50 L377.0,528.34 L377.5,528.37 L378.0,528.27 L378.5,528.35 L379.0,528.60 L379.5,528.47 L380.0,528.59 L380.5,528.81 L381.0,528.80 L381.5,528.86 L382.0,529.08 L382.5,529.13 L383.0,529.24 L383.5,529.35 L384.0,529.60 L384.5,529.76 L385.0,529.49 L385.5,530.06 L386.0,530.08 L386.5,530.11 L387.0,530.37 L387.5,530.27 L388.0,530.58 L388.5,530.80 L389.0,530.78 L389.5,530.69 L390.0,531.05 L390.5,531.12 L391.0,531.39 L391.5,531.42 L392.0,531.61 L392.5,531.49 L393.0,531.61 L393.5,531.64 L394.0,531.54 L394.5,531.65 L395.0,531.90 L395.5,531.61 L396.0,531.74 L396.5,531.69 L397.0,531.81 L397.5,531.66 L398.0,531.91 L398.5,531.77 L399.0,531.78 L399.5,531.77 L400.0,531.88 L400.5,531.77 L401.0,531.96 L401.5,531.83 L402.0,531.90 L402.5,532.06 L403.0,532.10 L403.5,531.99 L404.0,531.93 L404.5,532.01 L405.0,532.10 L405.5,532.05 L406.0,532.11 L406.5,532.20 L407.0,531.91 L407.5,532.12 L408.0,532.14 L408.5,532.09 L409.0,532.21 L409.5,532.09 L410.0,532.15 L410.5,532.17 L411.0,532.41 L411.5,532.13 L412.0,532.24 L412.5,532.37 L413.0,532.35 L413.5,532.18 L414.0,532.33 L414.5,532.15 L415.0,532.43 L415.5,532.43 L416.0,532.32 L416.5,532.29 L417.0,532.42 L417.5,532.35 L418.0,532.34 L418.5,532.47 L419.0,532.58 L419.5,532.44 L420.0,532.41 L420.5,532.43 L421.0,532.65 L421.5,532.44 L422.0,532.45 L422.5,532.63 L423.0,532.60 L423.5,532.71 L424.0,532.64 L424.5,532.55 L425.0,532.76 L425.5,532.52 L426.0,532.72 L426.5,532.64 L427.0,532.80 L427.5,532.68 L428.0,532.76 L428.5,532.70 L429.0,532.76 L429.5,532.80 L430.0,532.72 L430.5,532.75 L431.0,532.93 L431.5,532.80 L432.0,533.05 L432.5,532.82 L433.0,532.68 L433.5,532.66 L434.0,533.00 L434.5,532.83 L435.0,532.77 L435.5,533.06 L436.0,532.88 L436.5,532.86 L437.0,533.00 L437.5,532.93 L438.0,532.98 L438.5,532.97 L439.0,532.89 L439.5,532.87 L440.0,533.07 L440.5,533.03 L441.0,532.98 L441.5,532.74 L442.0,532.95 L442.5,533.02 L443.0,533.17 L443.5,533.10 L444.0,533.24 L444.5,532.86 L445.0,533.01 L445.5,533.11 L446.0,532.96 L446.5,533.11 L447.0,533.16 L447.5,533.17 L448.0,533.23 L448.5,532.97 L449.0,533.03 L449.5,533.14 L450.0,533.19 L450.5,533.07 L451.0,533.12 L451.5,533.15 L452.0,533.27 L452.5,533.25 L453.0,533.31 L453.5,533.26 L454.0,533.50 L454.5,533.21 L455.0,533.25 L455.5,533.27 L456.0,533.41 L456.5,533.52 L457.0,533.31 L457.5,533.31 L458.0,533.42 L458.5,533.25 L459.0,533.27 L459.5,533.03 L460.0,533.35 L460.5,533.26 L461.0,533.42 L461.5,533.34 L462.0,533.22 L462.5,533.34 L463.0,533.34 L463.5,533.34 L464.0,533.35 L464.5,533.39 L465.0,533.39 L465.5,533.37 L466.0,533.43 L466.5,533.39 L467.0,533.41 L467.5,533.41 L468.0,533.36 L468.5,533.34 L469.0,533.41 L469.5,533.37 L470.0,533.55 L470.5,533.48 L471.0,533.30 L471.5,533.51 L472.0,533.43 L472.5,533.50 L473.0,533.40 L473.5,533.48 L474.0,533.50 L474.5,533.35 L475.0,533.55 L475.5,533.42 L476.0,533.39 L476.5,533.46 L477.0,533.52 L477.5,533.34 L478.0,533.66 L478.5,533.59 L479.0,533.44 L479.5,533.51 L480.0,533.67 L480.5,533.47 L481.0,533.50 L481.5,533.67 L482.0,533.63 L482.5,533.42 L483.0,533.59 L483.5,533.63 L484.0,533.56 L484.5,533.62 L485.0,533.46 L485.5,533.75 L486.0,533.51 L486.5,533.45 L487.0,533.56 L487.5,533.38 L488.0,533.47 L488.5,533.43 L489.0,533.64 L489.5,533.73 L490.0,533.61 L490.5,533.66 L491.0,533.49 L491.5,533.63 L492.0,533.56 L492.5,533.82 L493.0,533.71 L493.5,533.53 L494.0,533.58 L494.5,533.39 L495.0,533.68 L495.5,533.78 L496.0,533.62 L496.5,533.67 L497.0,533.53 L497.5,533.65 L498.0,533.56 L498.5,533.68 L499.0,533.49 L499.5,533.56 L500.0,533.52 L500.5,533.67 L501.0,533.35 L501.5,533.79 L502.0,533.82 L502.5,533.56 L503.0,533.43 L503.5,533.81 L504.0,533.63 L504.5,533.57 L505.0,533.58 L505.5,533.60 L506.0,533.74 L506.4,533.60" fill="none" stroke="#edb120" stroke-width="0.8" stroke-linejoin="round" opacity="1.0"/>
<path d="M314.5,522.05 L315.0,521.76 L315.5,521.22 L316.0,520.99 L316.5,520.54 L317.0,520.31 L317.5,520.29 L318.0,520.13 L318.5,520.11 L319.0,520.10 L319.5,520.05 L320.0,519.97 L320.5,519.91 L321.0,519.94 L321.5,520.21 L322.0,520.59 L322.5,520.74 L323.0,521.01 L323.5,521.59 L324.0,522.23 L324.5,522.78 L325.0,523.30 L325.5,524.16 L326.0,525.00 L326.5,525.86 L327.0,526.52 L327.5,528.29 L328.0,530.72 L328.5,533.83 L329.0,537.26 L329.5,540.97 L330.0,545.45 L330.5,549.83 L331.0,554.53 L331.5,559.23 L332.0,563.97 L332.5,568.65 L333.0,572.68 L333.5,577.21 L334.0,582.18 L334.5,587.81 L335.0,593.66 L335.5,599.51 L336.0,605.42 L336.5,610.97 L337.0,615.71 L337.5,620.18 L338.0,623.36 L338.5,625.60 L339.0,625.99 L339.5,625.38 L340.0,623.04 L340.5,619.49 L341.0,614.84 L341.5,609.71 L342.0,603.89 L342.5,597.71 L343.0,591.58 L343.5,585.79 L344.0,580.16 L344.5,575.41 L345.0,571.29 L345.5,566.55 L346.0,561.78 L346.5,556.75 L347.0,551.87 L347.5,547.41 L348.0,543.07 L348.5,539.41 L349.0,536.28 L349.5,533.78 L350.0,532.41 L350.5,531.91 L351.0,532.19 L351.5,532.35 L352.0,533.08 L352.5,533.80 L353.0,534.22 L353.5,535.14 L354.0,536.11 L354.5,536.90 L355.0,537.65 L355.5,538.21 L356.0,539.28 L356.5,540.07 L357.0,541.03 L357.5,542.11 L358.0,543.13 L358.5,544.16 L359.0,545.09 L359.5,546.03 L360.0,546.76 L360.5,547.81 L361.0,548.55 L361.5,548.76 L362.0,549.28 L362.5,549.38 L363.0,549.23 L363.5,548.93 L364.0,548.27 L364.5,547.78 L365.0,546.80 L365.5,545.83 L366.0,544.78 L366.5,543.48 L367.0,542.07 L367.5,541.00 L368.0,539.59 L368.5,538.36 L369.0,537.08 L369.5,536.07 L370.0,535.04 L370.5,534.17 L371.0,533.53 L371.5,533.14 L372.0,532.55 L372.5,531.79 L373.0,531.23 L373.5,530.78 L374.0,530.15 L374.5,529.71 L375.0,529.43 L375.5,529.20 L376.0,528.78 L376.5,528.53 L377.0,528.44 L377.5,528.42 L378.0,528.36 L378.5,528.47 L379.0,528.46 L379.5,528.57 L380.0,528.58 L380.5,528.75 L381.0,528.78 L381.5,528.82 L382.0,528.84 L382.5,529.15 L383.0,529.26 L383.5,529.32 L384.0,529.39 L384.5,529.29 L385.0,529.55 L385.5,529.96 L386.0,529.72 L386.5,529.81 L387.0,530.06 L387.5,529.92 L388.0,530.31 L388.5,530.42 L389.0,530.46 L389.5,530.79 L390.0,530.68 L390.5,530.89 L391.0,530.88 L391.5,531.05 L392.0,531.26 L392.5,531.10 L393.0,531.52 L393.5,531.34 L394.0,531.55 L394.5,531.71 L395.0,531.70 L395.5,531.53 L396.0,531.96 L396.5,531.94 L397.0,532.01 L397.5,531.81 L398.0,531.91 L398.5,531.94 L399.0,532.12 L399.5,532.21 L400.0,532.14 L400.5,532.38 L401.0,532.41 L401.5,532.38 L402.0,532.37 L402.5,532.18 L403.0,532.46 L403.5,532.68 L404.0,532.33 L404.5,532.64 L405.0,532.61 L405.5,532.76 L406.0,532.85 L406.5,532.90 L407.0,532.71 L407.5,532.94 L408.0,533.01 L408.5,533.15 L409.0,533.21 L409.5,533.09 L410.0,533.33 L410.5,533.22 L411.0,533.34 L411.5,533.32 L412.0,533.27 L412.5,533.39 L413.0,533.42 L413.5,533.40 L414.0,533.49 L414.5,533.38 L415.0,533.52 L415.5,533.59 L416.0,533.39 L416.5,533.53 L417.0,533.62 L417.5,533.75 L418.0,533.54 L418.5,533.53 L419.0,533.74 L419.5,533.48 L420.0,533.65 L420.5,533.60 L421.0,533.78 L421.5,533.69 L422.0,533.61 L422.5,533.72 L423.0,533.55 L423.5,533.63 L424.0,533.46 L424.5,533.60 L425.0,533.60 L425.5,533.61 L426.0,533.48 L426.5,533.74 L427.0,533.47 L427.5,533.79 L428.0,533.55 L428.5,533.61 L429.0,533.57 L429.5,533.52 L430.0,533.72 L430.5,533.61 L431.0,533.81 L431.5,533.52 L432.0,533.53 L432.5,533.74 L433.0,533.45 L433.5,533.78 L434.0,533.77 L434.5,533.46 L435.0,533.75 L435.5,533.67 L436.0,533.59 L436.5,533.64 L437.0,533.71 L437.5,533.63 L438.0,533.64 L438.5,533.60 L439.0,533.61 L439.5,533.51 L440.0,533.59 L440.5,533.58 L441.0,533.62 L441.5,533.48 L442.0,533.59 L442.5,533.49 L443.0,533.55 L443.5,533.59 L444.0,533.51 L444.5,533.75 L445.0,533.69 L445.5,533.72 L446.0,533.76 L446.5,533.51 L447.0,533.64 L447.5,533.62 L448.0,533.62 L448.5,533.64 L449.0,533.54 L449.5,533.46 L450.0,533.53 L450.5,533.54 L451.0,533.57 L451.5,533.62 L452.0,533.51 L452.5,533.48 L453.0,533.56 L453.5,533.53 L454.0,533.61 L454.5,533.44 L455.0,533.58 L455.5,533.58 L456.0,533.55 L456.5,533.64 L457.0,533.68 L457.5,533.57 L458.0,533.64 L458.5,533.53 L459.0,533.58 L459.5,533.66 L460.0,533.46 L460.5,533.55 L461.0,533.55 L461.5,533.36 L462.0,533.69 L462.5,533.82 L463.0,533.88 L463.5,533.73 L464.0,533.62 L464.5,533.63 L465.0,533.58 L465.5,533.50 L466.0,533.43 L466.5,533.67 L467.0,533.61 L467.5,533.48 L468.0,533.46 L468.5,533.60 L469.0,533.52 L469.5,533.52 L470.0,533.65 L470.5,533.59 L471.0,533.43 L471.5,533.51 L472.0,533.59 L472.5,533.55 L473.0,533.57 L473.5,533.54 L474.0,533.52 L474.5,533.81 L475.0,533.46 L475.5,533.62 L476.0,533.58 L476.5,533.55 L477.0,533.63 L477.5,533.68 L478.0,533.61 L478.5,533.52 L479.0,533.59 L479.5,533.51 L480.0,533.54 L480.5,533.62 L481.0,533.67 L481.5,533.48 L482.0,533.58 L482.5,533.46 L483.0,533.61 L483.5,533.53 L484.0,533.68 L484.5,533.64 L485.0,533.63 L485.5,533.49 L486.0,533.62 L486.5,533.53 L487.0,533.56 L487.5,533.43 L488.0,533.59 L488.5,533.62 L489.0,533.52 L489.5,533.56 L490.0,533.38 L490.5,533.66 L491.0,533.71 L491.5,533.66 L492.0,533.50 L492.5,533.56 L493.0,533.33 L493.5,533.57 L494.0,533.78 L494.5,533.51 L495.0,533.69 L495.5,533.58 L496.0,533.51 L496.5,533.49 L497.0,533.62 L497.5,533.62 L498.0,533.56 L498.5,533.54 L499.0,533.58 L499.5,533.52 L500.0,533.44 L500.5,533.52 L501.0,533.51 L501.5,533.49 L502.0,533.63 L502.5,533.69 L503.0,533.64 L503.5,533.69 L504.0,533.37 L504.5,533.58 L505.0,533.58 L505.5,533.72 L506.0,533.50 L506.4,533.50" fill="none" stroke="#d95319" stroke-width="0.8" stroke-linejoin="round" opacity="1.0"/>
</g>
<rect x="449.50" y="505.00" width="50.90" height="63.70" fill="#fff" stroke="#a8a8a8" stroke-width="0.9"/>
<line x1="451.50" y1="511.30" x2="469.00" y2="511.30" stroke="#0072bd" stroke-width="0.9" opacity="0.8"/>
<text x="472.70" y="514.20" font-size="8.3" text-anchor="start" font-weight="bold" fill="#111" >0.2 ps</text>
<line x1="451.50" y1="521.50" x2="469.00" y2="521.50" stroke="#d95319" stroke-width="0.9" opacity="0.8"/>
<text x="472.70" y="524.40" font-size="8.3" text-anchor="start" font-weight="bold" fill="#111" >1 ps</text>
<line x1="451.50" y1="531.70" x2="469.00" y2="531.70" stroke="#edb120" stroke-width="0.9" opacity="0.8"/>
<text x="472.70" y="534.60" font-size="8.3" text-anchor="start" font-weight="bold" fill="#111" >5 ps</text>
<line x1="451.50" y1="541.90" x2="469.00" y2="541.90" stroke="#7e2f8e" stroke-width="0.9" opacity="0.8"/>
<text x="472.70" y="544.80" font-size="8.3" text-anchor="start" font-weight="bold" fill="#111" >10 ps</text>
<line x1="451.50" y1="552.10" x2="469.00" y2="552.10" stroke="#77ac30" stroke-width="0.9" opacity="0.8"/>
<text x="472.70" y="555.00" font-size="8.3" text-anchor="start" font-weight="bold" fill="#111" >40 ps</text>
<line x1="451.50" y1="562.30" x2="469.00" y2="562.30" stroke="#4dbeee" stroke-width="0.9" opacity="0.8"/>
<text x="472.70" y="565.20" font-size="8.3" text-anchor="start" font-weight="bold" fill="#111" >100 ps</text>
<text x="376.30" y="518.30" font-size="13" fill="#858585" text-anchor="middle"><<tspan font-style="italic">n</tspan>> = 3</text>
<text x="367.80" y="561.00" font-size="13" fill="#858585" text-anchor="middle"><tspan font-style="italic">n</tspan> = 3</text>
<text x="343.00" y="623.50" font-size="13" fill="#858585" text-anchor="middle"><tspan font-style="italic">n</tspan> = 2</text>
<defs><linearGradient id="fbar" x1="0" y1="0" x2="0" y2="1"><stop offset="0" stop-color="#2ba67c"/><stop offset="1" stop-color="#2a76c2"/></linearGradient><linearGradient id="fbig" x1="0" y1="0" x2="1" y2="0"><stop offset="0" stop-color="#2a70c2"/><stop offset="0.5" stop-color="#2a90a8"/><stop offset="1" stop-color="#2db479"/></linearGradient><linearGradient id="gbar" x1="0" y1="0" x2="0" y2="1"><stop offset="0" stop-color="#17a8ea"/><stop offset="1" stop-color="#2a5eb8"/></linearGradient><linearGradient id="gbig" x1="0" y1="0" x2="1" y2="0"><stop offset="0" stop-color="#3848a8"/><stop offset="0.06" stop-color="#2a56b0"/><stop offset="0.3" stop-color="#1c6cc2"/><stop offset="0.65" stop-color="#1890d8"/><stop offset="1" stop-color="#10aeee"/></linearGradient><marker id="ah" viewBox="0 0 6 6" refX="5" refY="3" markerWidth="3.0" markerHeight="3.0" orient="auto"><path d="M0,0.5 L6,3 L0,5.5 Z" fill="#0c1828"/></marker><marker id="ah2" viewBox="0 0 6 6" refX="4" refY="3" markerWidth="2.6" markerHeight="2.6" orient="auto"><path d="M0,0.5 L6,3 L0,5.5 Z" fill="#0c1828"/></marker></defs>
<text x="530.00" y="312.00" font-size="15" text-anchor="start" font-weight="bold" fill="#000" >f</text>
<text x="544.30" y="315.50" font-size="13" fill="#111"><tspan font-style="italic">n</tspan> = 4</text>
<path d="M553.6,319.2 L560.4,319.0 L561.2,458.6 L554.6,458.6 Z" fill="url(#fbar)"/>
<path d="M566.0,318.3 L679.9,317.0 L680.8,458.7 L566.4,459.9 Z" fill="url(#fbig)"/>
<text x="544.30" y="473.40" font-size="13" fill="#111"><tspan font-style="italic">n</tspan> = 1</text>
<line x1="575.30" y1="334.20" x2="596.90" y2="334.20" stroke="#c0e4ee" stroke-width="1.0" opacity="0.85"/>
<line x1="575.30" y1="428.60" x2="596.90" y2="428.60" stroke="#c0e4ee" stroke-width="1.0" opacity="0.85"/>
<circle cx="586.10" cy="428.60" r="3.0" fill="none" stroke="#f4f8fa" stroke-width="1.0"/>
<circle cx="586.10" cy="334.20" r="2.6" fill="#000"/>
<line x1="591.70" y1="346.50" x2="613.30" y2="346.50" stroke="#c0e4ee" stroke-width="1.0" opacity="0.85"/>
<line x1="591.70" y1="416.00" x2="613.30" y2="416.00" stroke="#c0e4ee" stroke-width="1.0" opacity="0.85"/>
<circle cx="602.50" cy="416.00" r="3.0" fill="none" stroke="#f4f8fa" stroke-width="1.0"/>
<line x1="602.50" y1="350.80" x2="602.50" y2="410.80" stroke="#0c1828" stroke-width="0.95" marker-end="url(#ah)" marker-start="url(#ah)"/>
<path d="M602.80,383.30 L605.30,383.30 C607.60,383.30 608.10,379.70 610.60,379.70 L614.40,379.70" fill="none" stroke="#0c1828" stroke-width="0.95" marker-end="url(#ah2)"/>
<circle cx="602.50" cy="346.50" r="2.6" fill="#000"/>
<line x1="612.40" y1="356.90" x2="634.00" y2="356.90" stroke="#c0e4ee" stroke-width="1.0" opacity="0.85"/>
<line x1="612.40" y1="404.50" x2="634.00" y2="404.50" stroke="#c0e4ee" stroke-width="1.0" opacity="0.85"/>
<circle cx="623.20" cy="404.50" r="3.0" fill="none" stroke="#f4f8fa" stroke-width="1.0"/>
<line x1="623.20" y1="362.20" x2="623.20" y2="399.10" stroke="#0c1828" stroke-width="0.95" marker-end="url(#ah)" marker-start="url(#ah)"/>
<path d="M625.60,383.30 L628.10,383.30 C630.40,383.30 630.90,379.70 633.40,379.70 L637.20,379.70" fill="none" stroke="#0c1828" stroke-width="0.95" marker-end="url(#ah2)"/>
<circle cx="623.20" cy="356.90" r="2.6" fill="#000"/>
<line x1="636.70" y1="363.80" x2="658.30" y2="363.80" stroke="#c0e4ee" stroke-width="1.0" opacity="0.85"/>
<line x1="636.70" y1="395.50" x2="658.30" y2="395.50" stroke="#c0e4ee" stroke-width="1.0" opacity="0.85"/>
<circle cx="647.50" cy="395.50" r="3.0" fill="none" stroke="#f4f8fa" stroke-width="1.0"/>
<line x1="647.50" y1="366.60" x2="647.50" y2="389.20" stroke="#0c1828" stroke-width="0.95" marker-end="url(#ah)" marker-start="url(#ah)"/>
<path d="M647.80,383.30 L650.30,383.30 C652.60,383.30 653.10,379.70 655.60,379.70 L659.40,379.70" fill="none" stroke="#0c1828" stroke-width="0.95" marker-end="url(#ah2)"/>
<circle cx="647.50" cy="363.80" r="2.6" fill="#000"/>
<text x="640.00" y="375.90" font-size="11.8" text-anchor="start" font-weight="normal" fill="#fff" >Photon</text>
<text x="530.80" y="501.50" font-size="15" text-anchor="start" font-weight="bold" fill="#000" >g</text>
<text x="545.90" y="507.20" font-size="13" fill="#111"><tspan font-style="italic">n</tspan> = 3</text>
<rect x="555.2" y="510.0" width="7.0" height="140.6" fill="url(#gbar)"/>
<path d="M566.5,509.0 L681.3,508.4 L681.3,650.6 L566.7,650.6 Z" fill="url(#gbig)"/>
<text x="543.50" y="664.30" font-size="13" fill="#111"><tspan font-style="italic">n</tspan> = 2</text>
<line x1="601.10" y1="537.30" x2="622.70" y2="537.30" stroke="#c0e4ee" stroke-width="1.0" opacity="0.85"/>
<line x1="601.10" y1="607.30" x2="622.70" y2="607.30" stroke="#c0e4ee" stroke-width="1.0" opacity="0.85"/>
<circle cx="611.90" cy="607.30" r="3.0" fill="none" stroke="#f4f8fa" stroke-width="1.0"/>
<line x1="611.90" y1="544.00" x2="611.90" y2="600.20" stroke="#0c1828" stroke-width="0.95" marker-end="url(#ah)" marker-start="url(#ah)"/>
<path d="M614.80,573.40 L617.30,573.40 C619.60,573.40 620.10,569.80 622.60,569.80 L626.40,569.80" fill="none" stroke="#0c1828" stroke-width="0.95" marker-end="url(#ah2)"/>
<circle cx="611.90" cy="537.30" r="2.6" fill="#000"/>
<line x1="624.40" y1="547.60" x2="646.00" y2="547.60" stroke="#c0e4ee" stroke-width="1.0" opacity="0.85"/>
<line x1="624.40" y1="595.50" x2="646.00" y2="595.50" stroke="#c0e4ee" stroke-width="1.0" opacity="0.85"/>
<circle cx="635.20" cy="595.50" r="3.0" fill="none" stroke="#f4f8fa" stroke-width="1.0"/>
<line x1="635.20" y1="552.30" x2="635.20" y2="589.40" stroke="#0c1828" stroke-width="0.95" marker-end="url(#ah)" marker-start="url(#ah)"/>
<path d="M639.00,572.30 L641.50,572.30 C643.80,572.30 644.30,568.70 646.80,568.70 L650.60,568.70" fill="none" stroke="#0c1828" stroke-width="0.95" marker-end="url(#ah2)"/>
<circle cx="635.20" cy="547.60" r="2.6" fill="#000"/>
<text x="638.30" y="560.40" font-size="11.8" text-anchor="start" font-weight="normal" fill="#fff" >Photon</text>
</svg></body></html>
